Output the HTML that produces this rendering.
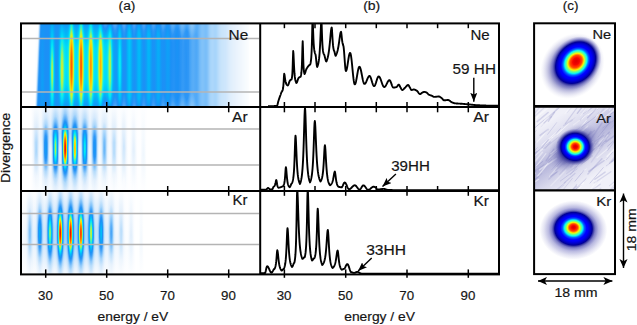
<!DOCTYPE html>
<html><head><meta charset="utf-8"><style>
html,body{margin:0;padding:0;background:#fff;}
#c{position:relative;width:637px;height:325px;overflow:hidden;background:#fff;}
#c i{position:absolute;width:1px;display:block;}
svg{position:absolute;left:0;top:0;}
text{font-family:"Liberation Sans",sans-serif;fill:#151515;stroke:#151515;stroke-width:0.18px;}
</style></head><body><div id="c">
<i style="left:35px;top:24px;height:82px;background:linear-gradient(#ffffff 0.5px,#fbfdff 66.5px,#e6f1fc 81.5px)"></i>
<i style="left:36px;top:24px;height:82px;background:linear-gradient(#ffffff 0.5px,#fafcfe 42.5px,#dcedfc 60.5px,#a1d2fa 78.5px,#94cbfa 81.5px)"></i>
<i style="left:37px;top:24px;height:82px;background:linear-gradient(#ffffff 0.5px,#f6fafe 21.5px,#d7eafc 37.5px,#9dd0fa 54.5px,#3fa0f7 78.5px,#369bf6 81.5px)"></i>
<i style="left:38px;top:24px;height:82px;background:linear-gradient(#f1f7fd 0.5px,#cfe7fc 15.5px,#99cefa 30.5px,#3b9ef6 54.5px,#2794f6 63.5px,#1c90f6 81.5px)"></i>
<i style="left:39px;top:24px;height:82px;background:linear-gradient(#afd8fb 0.5px,#3c9ef7 28.5px,#2794f6 37.5px,#1a92f6 56.5px,#1b91f6 81.5px)"></i>
<i style="left:40px;top:24px;height:82px;background:linear-gradient(#47a4f7 0.5px,#2995f6 10.5px,#1993f6 25.5px,#1993f6 81.5px)"></i>
<i style="left:41px;top:24px;height:82px;background:linear-gradient(#1a92f6 0.5px,#129cf7 59.5px,#1796f6 81.5px)"></i>
<i style="left:42px;top:24px;height:82px;background:linear-gradient(#1994f6 0.5px,#0f9ff7 58.5px,#1697f6 81.5px)"></i>
<i style="left:43px;top:24px;height:82px;background:linear-gradient(#1993f6 0.5px,#129bf7 61.5px,#1796f6 81.5px)"></i>
<i style="left:44px;top:24px;height:82px;background:linear-gradient(#1b92f6 0.5px,#1994f6 76.5px,#1993f6 81.5px)"></i>
<i style="left:45px;top:24px;height:82px;background:linear-gradient(#1b91f6 0.5px,#1b91f6 81.5px)"></i>
<i style="left:46px;top:24px;height:82px;background:linear-gradient(#1c90f6 0.5px,#1c90f6 81.5px)"></i>
<i style="left:47px;top:24px;height:82px;background:linear-gradient(#1c90f6 0.5px,#1c91f6 81.5px)"></i>
<i style="left:48px;top:24px;height:82px;background:linear-gradient(#1b91f6 0.5px,#1a93f6 81.5px)"></i>
<i style="left:49px;top:24px;height:82px;background:linear-gradient(#1795f6 0.5px,#0aa9f7 52.5px,#139af7 81.5px)"></i>
<i style="left:50px;top:24px;height:82px;background:linear-gradient(#109ef7 0.5px,#00bdf8 23.5px,#00defa 43.5px,#00d8f9 58.5px,#06b1f8 79.5px,#07aef7 81.5px)"></i>
<i style="left:51px;top:24px;height:82px;background:linear-gradient(#09aaf7 0.5px,#00caf9 15.5px,#00e2fa 22.5px,#3df1bd 33.5px,#6ff38b 40.5px,#83f477 46.5px,#7cf47e 52.5px,#56f2a4 59.5px,#2eefcc 64.5px,#00e2fa 73.5px,#00c7f9 81.5px)"></i>
<i style="left:52px;top:24px;height:82px;background:linear-gradient(#08acf7 0.5px,#00cdf9 14.5px,#01e2f9 20.5px,#37f0c3 29.5px,#83f477 37.5px,#9ef45c 42.5px,#a6f454 49.5px,#91f569 56.5px,#57f2a3 63.5px,#2fefcb 67.5px,#01e2f9 75.5px,#00cdf9 81.5px)"></i>
<i style="left:53px;top:24px;height:82px;background:linear-gradient(#0da2f7 0.5px,#00c7f9 20.5px,#03e3f7 31.5px,#23ecd7 43.5px,#21ebd9 53.5px,#00dffa 66.5px,#02b8f8 81.5px)"></i>
<i style="left:54px;top:24px;height:82px;background:linear-gradient(#1598f7 0.5px,#06b0f8 29.5px,#01baf8 51.5px,#0e9ff7 81.5px)"></i>
<i style="left:55px;top:24px;height:82px;background:linear-gradient(#1993f6 0.5px,#129cf7 60.5px,#1795f6 81.5px)"></i>
<i style="left:56px;top:24px;height:82px;background:linear-gradient(#1b92f6 0.5px,#1697f6 63.5px,#1a92f6 81.5px)"></i>
<i style="left:57px;top:24px;height:82px;background:linear-gradient(#1a92f6 0.5px,#109df7 44.5px,#1a93f6 81.5px)"></i>
<i style="left:58px;top:24px;height:82px;background:linear-gradient(#1894f6 0.5px,#08acf7 35.5px,#0aa7f7 63.5px,#1796f6 81.5px)"></i>
<i style="left:59px;top:24px;height:82px;background:linear-gradient(#1499f7 0.5px,#00c3f8 24.5px,#00d2f9 47.5px,#00c5f8 63.5px,#0f9ef7 81.5px)"></i>
<i style="left:60px;top:24px;height:82px;background:linear-gradient(#0da1f7 0.5px,#00cdf9 14.5px,#03e3f7 21.5px,#45f1b5 41.5px,#4cf1ae 49.5px,#38f0c2 56.5px,#07e4f3 67.5px,#00dafa 70.5px,#06b1f8 81.5px)"></i>
<i style="left:61px;top:24px;height:82px;background:linear-gradient(#09aaf7 0.5px,#00d1f9 10.5px,#03e3f7 14.5px,#32f0c8 21.5px,#8bf46f 30.5px,#b0f34a 37.5px,#c5f236 46.5px,#bdf23e 53.5px,#9af560 60.5px,#60f29a 65.5px,#33f0c7 68.5px,#01e2f9 74.5px,#00c0f8 81.5px)"></i>
<i style="left:62px;top:24px;height:82px;background:linear-gradient(#09a9f7 0.5px,#00d3f9 10.5px,#00e2fa 13.5px,#32f0c8 20.5px,#84f476 28.5px,#a4f457 33.5px,#c4f237 43.5px,#c4f237 51.5px,#aaf451 58.5px,#89f471 62.5px,#33f0c7 68.5px,#00e1fa 74.5px,#00bdf8 81.5px)"></i>
<i style="left:63px;top:24px;height:82px;background:linear-gradient(#0da1f7 0.5px,#00ccf9 11.5px,#01e2f9 16.5px,#4ff1ab 32.5px,#6ff38b 43.5px,#6ef38c 51.5px,#57f2a3 57.5px,#20ebda 65.5px,#00e0fa 70.5px,#06b1f8 80.5px,#07adf7 81.5px)"></i>
<i style="left:64px;top:24px;height:82px;background:linear-gradient(#129cf7 0.5px,#00c9f9 13.5px,#04e3f6 22.5px,#1ae9e0 35.5px,#1beadf 53.5px,#05e3f5 62.5px,#00c8f9 70.5px,#0f9ff7 81.5px)"></i>
<i style="left:65px;top:24px;height:82px;background:linear-gradient(#1499f7 0.5px,#01bbf8 11.5px,#00dcfa 22.5px,#06e4f4 40.5px,#00defa 59.5px,#02b9f8 71.5px,#139af7 81.5px)"></i>
<i style="left:66px;top:24px;height:82px;background:linear-gradient(#1499f7 0.5px,#01baf8 11.5px,#00d9fa 22.5px,#00e2fa 43.5px,#00d8f9 60.5px,#05b3f8 72.5px,#1499f7 81.5px)"></i>
<i style="left:67px;top:24px;height:82px;background:linear-gradient(#139bf7 0.5px,#00c1f8 12.5px,#00e0fa 23.5px,#07e4f3 47.5px,#00dcfa 60.5px,#05b2f8 73.5px,#139bf7 81.5px)"></i>
<i style="left:68px;top:24px;height:82px;background:linear-gradient(#0da3f7 0.5px,#00cdf9 11.5px,#00e2fa 16.5px,#21ebd9 25.5px,#2defcd 40.5px,#24ecd6 55.5px,#05e3f5 64.5px,#00d6f9 68.5px,#06aff8 77.5px,#0da3f7 81.5px)"></i>
<i style="left:69px;top:24px;height:82px;background:linear-gradient(#00bcf8 0.5px,#02e2f8 8.5px,#35f0c5 14.5px,#85f475 20.5px,#a4f457 24.5px,#c1f23b 32.5px,#c8f233 43.5px,#b5f345 53.5px,#98f562 59.5px,#61f299 64.5px,#2ceece 68.5px,#02e2f8 73.5px,#00bcf8 81.5px)"></i>
<i style="left:70px;top:24px;height:82px;background:linear-gradient(#02e2f8 0.5px,#2defcd 5.5px,#65f395 8.5px,#a0f45a 11.5px,#daf022 15.5px,#ffca00 22.5px,#ffa300 30.5px,#ff9200 40.5px,#ffa000 50.5px,#ffc400 58.5px,#f3da0b 62.5px,#daf022 66.5px,#8ff56b 71.5px,#3cf0be 75.5px,#1ae9e0 78.5px,#02e2f8 81.5px)"></i>
<i style="left:71px;top:24px;height:82px;background:linear-gradient(#20ebda 0.5px,#31f0c9 2.5px,#a8f453 8.5px,#d9f023 11.5px,#ffcc00 16.5px,#ff8700 24.5px,#ff6300 33.5px,#ff5b00 43.5px,#ff6f00 52.5px,#ff9500 59.5px,#ffcc00 65.5px,#d9f023 70.5px,#97f563 74.5px,#31f0c9 79.5px,#20ebda 81.5px)"></i>
<i style="left:72px;top:24px;height:82px;background:linear-gradient(#02e2f8 0.5px,#2defcd 5.5px,#65f395 8.5px,#a0f45a 11.5px,#daf022 15.5px,#ffca00 22.5px,#ffa300 30.5px,#ff9200 40.5px,#ffa000 50.5px,#ffc400 58.5px,#f3da0b 62.5px,#daf022 66.5px,#8ff56b 71.5px,#3cf0be 75.5px,#1ae9e0 78.5px,#02e2f8 81.5px)"></i>
<i style="left:73px;top:24px;height:82px;background:linear-gradient(#00bcf8 0.5px,#02e2f8 8.5px,#35f0c5 14.5px,#85f475 20.5px,#a4f457 24.5px,#c1f23b 32.5px,#c8f233 43.5px,#b5f345 53.5px,#98f562 59.5px,#61f299 64.5px,#2ceece 68.5px,#02e2f8 73.5px,#00bcf8 81.5px)"></i>
<i style="left:74px;top:24px;height:82px;background:linear-gradient(#0da3f7 0.5px,#00cdf9 11.5px,#00e2fa 16.5px,#22ebd8 25.5px,#2defcd 40.5px,#24ecd6 55.5px,#05e3f5 64.5px,#00d6f9 68.5px,#06aff8 77.5px,#0da3f7 81.5px)"></i>
<i style="left:75px;top:24px;height:82px;background:linear-gradient(#139bf7 0.5px,#00c1f8 12.5px,#00e0fa 23.5px,#08e4f2 46.5px,#00dcfa 60.5px,#05b2f8 73.5px,#139bf7 81.5px)"></i>
<i style="left:76px;top:24px;height:82px;background:linear-gradient(#1499f7 0.5px,#01bbf8 11.5px,#00dbfa 22.5px,#02e2f8 41.5px,#00dbfa 59.5px,#02b7f8 71.5px,#1499f7 81.5px)"></i>
<i style="left:77px;top:24px;height:82px;background:linear-gradient(#119df7 0.5px,#00caf9 13.5px,#03e3f7 22.5px,#12e7e8 34.5px,#0be5ef 55.5px,#00ddfa 62.5px,#05b2f8 74.5px,#119df7 81.5px)"></i>
<i style="left:78px;top:24px;height:82px;background:linear-gradient(#08abf7 0.5px,#00d1f9 9.5px,#03e3f7 13.5px,#4df1ad 26.5px,#64f396 35.5px,#63f297 47.5px,#4df1ad 55.5px,#03e3f7 68.5px,#03b5f8 78.5px,#08abf7 81.5px)"></i>
<i style="left:79px;top:24px;height:82px;background:linear-gradient(#00cdf9 0.5px,#00e1fa 4.5px,#38f0c2 10.5px,#92f568 15.5px,#d0f12b 21.5px,#e2ec1a 24.5px,#f6d608 36.5px,#f1dc0d 50.5px,#dfef1d 58.5px,#aaf450 64.5px,#81f479 67.5px,#38f0c2 71.5px,#00e1fa 77.5px,#00cdf9 81.5px)"></i>
<i style="left:80px;top:24px;height:82px;background:linear-gradient(#18e9e2 0.5px,#32f0c8 3.5px,#9af560 8.5px,#dbf021 12.5px,#fece01 17.5px,#ff8f00 25.5px,#ff7000 33.5px,#ff6900 43.5px,#ff7c00 52.5px,#ffa300 59.5px,#fece01 64.5px,#dbf021 69.5px,#85f475 74.5px,#32f0c8 78.5px,#18e9e2 81.5px)"></i>
<i style="left:81px;top:24px;height:82px;background:linear-gradient(#1eebdc 0.5px,#30efca 2.5px,#a5f455 8.5px,#e2ec1a 12.5px,#fece01 16.5px,#ff8900 24.5px,#ff6500 33.5px,#ff5d00 43.5px,#ff7100 52.5px,#ff9700 59.5px,#fece01 65.5px,#d7f025 70.5px,#95f565 74.5px,#30efca 79.5px,#1eebdc 81.5px)"></i>
<i style="left:82px;top:24px;height:82px;background:linear-gradient(#00d6f9 0.5px,#04e3f6 3.5px,#32f0c8 8.5px,#93f567 13.5px,#dcf020 19.5px,#fece01 29.5px,#ffbe00 40.5px,#ffc900 50.5px,#eae413 59.5px,#dcf020 62.5px,#93f567 68.5px,#32f0c8 73.5px,#04e3f6 78.5px,#00d6f9 81.5px)"></i>
<i style="left:83px;top:24px;height:82px;background:linear-gradient(#06b1f8 0.5px,#01e2f9 11.5px,#3af0c0 19.5px,#69f391 25.5px,#86f474 33.5px,#8bf46f 44.5px,#77f383 53.5px,#55f2a5 59.5px,#2beecf 64.5px,#01e2f9 70.5px,#06b1f8 81.5px)"></i>
<i style="left:84px;top:24px;height:82px;background:linear-gradient(#109ef7 0.5px,#00c9f9 12.5px,#03e3f7 20.5px,#17e8e3 30.5px,#15e8e5 53.5px,#00dffa 63.5px,#04b4f8 74.5px,#109ef7 81.5px)"></i>
<i style="left:85px;top:24px;height:82px;background:linear-gradient(#149af7 0.5px,#01bbf8 11.5px,#00dbfa 22.5px,#02e3f8 40.5px,#00ddfa 58.5px,#00bff8 69.5px,#129bf7 80.5px,#149af7 81.5px)"></i>
<i style="left:86px;top:24px;height:82px;background:linear-gradient(#149af7 0.5px,#01bbf8 11.5px,#00dbfa 22.5px,#02e3f8 40.5px,#00ddfa 58.5px,#00bff8 69.5px,#129bf7 80.5px,#149af7 81.5px)"></i>
<i style="left:87px;top:24px;height:82px;background:linear-gradient(#109ef7 0.5px,#00c8f9 12.5px,#04e3f6 21.5px,#16e8e4 32.5px,#11e7e9 54.5px,#00ddfa 63.5px,#04b3f8 74.5px,#109ef7 81.5px)"></i>
<i style="left:88px;top:24px;height:82px;background:linear-gradient(#07adf7 0.5px,#00d8f9 10.5px,#00e2fa 12.5px,#4ef1ac 24.5px,#6df38d 32.5px,#73f387 44.5px,#61f299 53.5px,#39f0c1 60.5px,#00e2fa 69.5px,#06b0f8 80.5px,#07adf7 81.5px)"></i>
<i style="left:89px;top:24px;height:82px;background:linear-gradient(#00caf9 0.5px,#02e3f8 5.5px,#30efca 10.5px,#96f564 16.5px,#d5f126 23.5px,#e7e716 28.5px,#f2db0c 42.5px,#e2eb1a 55.5px,#cef12d 59.5px,#96f564 65.5px,#30efca 71.5px,#02e3f8 76.5px,#00caf9 81.5px)"></i>
<i style="left:90px;top:24px;height:82px;background:linear-gradient(#00e2fa 0.5px,#38f0c2 6.5px,#9df45d 11.5px,#e1ed1c 16.5px,#ffcd00 22.5px,#ffa600 30.5px,#ff9500 40.5px,#ffa200 50.5px,#ffc600 58.5px,#ece111 63.5px,#d7f125 66.5px,#8bf46f 71.5px,#38f0c2 75.5px,#00e2fa 81.5px)"></i>
<i style="left:91px;top:24px;height:82px;background:linear-gradient(#00dbfa 0.5px,#05e3f5 2.5px,#34f0c6 7.5px,#98f562 12.5px,#daf022 17.5px,#fece01 25.5px,#ffb000 34.5px,#ffac00 44.5px,#ffc100 53.5px,#f8d507 58.5px,#daf022 64.5px,#98f562 69.5px,#34f0c6 74.5px,#00e0fa 80.5px,#00dbfa 81.5px)"></i>
<i style="left:92px;top:24px;height:82px;background:linear-gradient(#00bdf8 0.5px,#04e3f6 8.5px,#3bf0bf 14.5px,#8cf46e 20.5px,#aef34c 25.5px,#caf131 34.5px,#cdf12f 45.5px,#b7f344 54.5px,#96f564 60.5px,#4bf1af 66.5px,#27edd3 69.5px,#00dffa 74.5px,#00bdf8 81.5px)"></i>
<i style="left:93px;top:24px;height:82px;background:linear-gradient(#0ca5f7 0.5px,#00ccf9 10.5px,#00e2fa 15.5px,#26edd4 24.5px,#39f0c1 39.5px,#2defcd 54.5px,#10e7ea 63.5px,#00e2fa 66.5px,#05b2f8 77.5px,#0ca5f7 81.5px)"></i>
<i style="left:94px;top:24px;height:82px;background:linear-gradient(#129bf7 0.5px,#00c7f9 13.5px,#00e2fa 23.5px,#0be5ef 38.5px,#04e3f6 56.5px,#00cef9 66.5px,#08acf7 75.5px,#129bf7 81.5px)"></i>
<i style="left:95px;top:24px;height:82px;background:linear-gradient(#1598f7 0.5px,#00c1f8 13.5px,#00ddfa 24.5px,#00e0fa 53.5px,#00ccf9 65.5px,#08abf7 74.5px,#1598f7 81.5px)"></i>
<i style="left:96px;top:24px;height:82px;background:linear-gradient(#1599f7 0.5px,#00c4f8 13.5px,#00dffa 24.5px,#01e2f9 53.5px,#00d1f9 64.5px,#06b1f8 73.5px,#1499f7 81.5px)"></i>
<i style="left:97px;top:24px;height:82px;background:linear-gradient(#119cf7 0.5px,#00c7f9 11.5px,#03e3f7 19.5px,#1beadf 29.5px,#1ceade 51.5px,#07e4f3 61.5px,#00dbfa 65.5px,#05b2f8 75.5px,#119df7 81.5px)"></i>
<i style="left:98px;top:24px;height:82px;background:linear-gradient(#09a9f7 0.5px,#00cef9 7.5px,#01e2f9 11.5px,#3af0c0 19.5px,#6af390 25.5px,#86f474 33.5px,#8cf46e 44.5px,#78f482 53.5px,#56f2a4 59.5px,#2beecf 64.5px,#01e2f9 70.5px,#04b4f8 79.5px,#09aaf7 81.5px)"></i>
<i style="left:99px;top:24px;height:82px;background:linear-gradient(#00bdf8 0.5px,#00e1fa 5.5px,#31f0c9 10.5px,#97f563 16.5px,#d7f025 23.5px,#ebe212 30.5px,#f2db0c 44.5px,#e1ed1c 56.5px,#c0f23c 61.5px,#97f563 65.5px,#31f0c9 71.5px,#00e1fa 76.5px,#00bff8 81.5px)"></i>
<i style="left:100px;top:24px;height:82px;background:linear-gradient(#00c4f8 0.5px,#04e3f6 4.5px,#39f0c1 8.5px,#8ef56c 12.5px,#ddf01f 18.5px,#ffcc00 27.5px,#ffb400 37.5px,#ffba00 48.5px,#fad305 56.5px,#ddf01f 63.5px,#8ef56c 69.5px,#39f0c1 73.5px,#05e3f5 77.5px,#00cef9 80.5px,#00c6f9 81.5px)"></i>
<i style="left:101px;top:24px;height:82px;background:linear-gradient(#06b0f8 0.5px,#00e0fa 6.5px,#2eefcc 10.5px,#97f563 16.5px,#d7f025 23.5px,#ebe212 30.5px,#f2db0c 44.5px,#e1ed1c 56.5px,#c0f23c 61.5px,#97f563 65.5px,#2eefcc 71.5px,#00e1fa 75.5px,#05b3f8 81.5px)"></i>
<i style="left:102px;top:24px;height:82px;background:linear-gradient(#1796f6 0.5px,#02b9f8 6.5px,#00e0fa 11.5px,#3af0c0 19.5px,#6af390 25.5px,#86f474 33.5px,#8cf46e 44.5px,#78f482 53.5px,#56f2a4 59.5px,#2beecf 64.5px,#00e0fa 70.5px,#04b4f8 76.5px,#1598f7 81.5px)"></i>
<i style="left:103px;top:24px;height:82px;background:linear-gradient(#2a95f6 0.5px,#1b91f6 3.5px,#02b8f8 10.5px,#00dbfa 16.5px,#07e4f3 20.5px,#1ceade 30.5px,#1beadf 52.5px,#03e3f7 62.5px,#00cdf9 68.5px,#08adf7 73.5px,#1c90f6 79.5px,#2694f6 81.5px)"></i>
<i style="left:104px;top:24px;height:82px;background:linear-gradient(#3b9ef6 0.5px,#2091f6 4.5px,#09aaf7 10.5px,#00c9f9 15.5px,#00e0fa 25.5px,#00dffa 57.5px,#00c9f9 66.5px,#0ba6f7 72.5px,#1d90f6 77.5px,#3399f6 81.5px)"></i>
<i style="left:105px;top:24px;height:82px;background:linear-gradient(#40a0f7 0.5px,#2794f6 3.5px,#1894f6 6.5px,#00bff8 14.5px,#00d4f9 20.5px,#00dffa 35.5px,#00d9fa 58.5px,#00c6f9 66.5px,#139af7 74.5px,#1e91f6 77.5px,#379bf6 81.5px)"></i>
<i style="left:106px;top:24px;height:82px;background:linear-gradient(#399cf6 0.5px,#1d90f6 4.5px,#02b9f8 12.5px,#00d3f9 19.5px,#00e0fa 33.5px,#00dafa 58.5px,#00c4f8 67.5px,#1b91f6 77.5px,#3198f6 81.5px)"></i>
<i style="left:107px;top:24px;height:82px;background:linear-gradient(#2995f6 0.5px,#1d90f6 2.5px,#00c1f8 11.5px,#00e1fa 20.5px,#14e7e6 33.5px,#10e6ea 53.5px,#00dcfa 63.5px,#00bbf8 71.5px,#1a92f6 79.5px,#2593f6 81.5px)"></i>
<i style="left:108px;top:24px;height:82px;background:linear-gradient(#1993f6 0.5px,#00c0f8 7.5px,#00e2fa 13.5px,#2defcd 22.5px,#54f2a6 32.5px,#5cf29e 43.5px,#48f1b2 53.5px,#06e4f4 67.5px,#00defa 69.5px,#04b4f8 76.5px,#1796f6 81.5px)"></i>
<i style="left:109px;top:24px;height:82px;background:linear-gradient(#0e9ff7 0.5px,#00c8f9 5.5px,#03e3f7 9.5px,#39f0c1 16.5px,#80f47a 23.5px,#9df45d 28.5px,#b2f349 38.5px,#a9f451 49.5px,#8ef56c 56.5px,#51f2a9 63.5px,#29edd1 67.5px,#00defa 73.5px,#05b2f8 79.5px,#0da3f7 81.5px)"></i>
<i style="left:110px;top:24px;height:82px;background:linear-gradient(#0ea0f7 0.5px,#00c7f9 5.5px,#01e2f9 9.5px,#3bf0bf 17.5px,#7bf47f 24.5px,#9bf55f 30.5px,#aaf450 40.5px,#9ef45c 50.5px,#82f478 56.5px,#46f1b4 63.5px,#2beecf 66.5px,#01e2f9 72.5px,#05b2f8 79.5px,#0ca3f7 81.5px)"></i>
<i style="left:111px;top:24px;height:82px;background:linear-gradient(#1993f6 0.5px,#00c0f8 8.5px,#00e1fa 16.5px,#25ecd5 28.5px,#2fefcb 43.5px,#1eeadc 56.5px,#00defa 66.5px,#03b5f8 75.5px,#1796f6 81.5px)"></i>
<i style="left:112px;top:24px;height:82px;background:linear-gradient(#2c96f6 0.5px,#1a93f6 4.5px,#00bbf8 16.5px,#00cdf9 34.5px,#00c6f9 58.5px,#07aef8 70.5px,#1f91f6 79.5px,#2894f6 81.5px)"></i>
<i style="left:113px;top:24px;height:82px;background:linear-gradient(#46a3f7 0.5px,#2995f6 4.5px,#1894f6 9.5px,#09a9f7 19.5px,#07aef7 54.5px,#0f9ff7 68.5px,#2091f6 75.5px,#369bf6 80.5px,#3e9ff7 81.5px)"></i>
<i style="left:114px;top:24px;height:82px;background:linear-gradient(#51a9f7 0.5px,#2a95f6 6.5px,#1a92f6 11.5px,#0f9ff7 20.5px,#119df7 65.5px,#1e91f6 72.5px,#359af6 78.5px,#48a5f7 81.5px)"></i>
<i style="left:115px;top:24px;height:82px;background:linear-gradient(#51a9f7 0.5px,#2b95f6 6.5px,#1993f6 12.5px,#129cf7 25.5px,#1697f6 67.5px,#2392f6 73.5px,#3b9ef6 79.5px,#48a5f7 81.5px)"></i>
<i style="left:116px;top:24px;height:82px;background:linear-gradient(#46a3f7 0.5px,#2b95f6 4.5px,#1993f6 10.5px,#119df7 26.5px,#1697f6 69.5px,#2292f6 75.5px,#379bf6 80.5px,#3e9ff7 81.5px)"></i>
<i style="left:117px;top:24px;height:82px;background:linear-gradient(#2d96f6 0.5px,#1993f6 5.5px,#0ba6f7 17.5px,#07aef7 48.5px,#129bf7 73.5px,#2192f6 79.5px,#2995f6 81.5px)"></i>
<i style="left:118px;top:24px;height:82px;background:linear-gradient(#1b91f6 0.5px,#03b5f8 10.5px,#00d2f9 37.5px,#00c8f9 57.5px,#07aef7 74.5px,#1994f6 81.5px)"></i>
<i style="left:119px;top:24px;height:82px;background:linear-gradient(#129bf7 0.5px,#00c2f8 8.5px,#04e3f6 26.5px,#16e8e4 40.5px,#08e4f2 53.5px,#00ddfa 60.5px,#00bff8 74.5px,#109df7 81.5px)"></i>
<i style="left:120px;top:24px;height:82px;background:linear-gradient(#1597f6 0.5px,#00bef8 9.5px,#02e3f8 32.5px,#06e4f4 45.5px,#00d7f9 59.5px,#02b8f8 74.5px,#139af7 81.5px)"></i>
<i style="left:121px;top:24px;height:82px;background:linear-gradient(#2593f6 0.5px,#1994f6 3.5px,#06b0f8 15.5px,#00bff8 43.5px,#09aaf7 70.5px,#2192f6 81.5px)"></i>
<i style="left:122px;top:24px;height:82px;background:linear-gradient(#3fa0f7 0.5px,#2894f6 4.5px,#1994f6 10.5px,#109df7 26.5px,#1598f6 69.5px,#2392f6 76.5px,#379bf6 81.5px)"></i>
<i style="left:123px;top:24px;height:82px;background:linear-gradient(#51a9f7 0.5px,#2b95f6 7.5px,#1993f6 15.5px,#1c90f6 68.5px,#3399f6 77.5px,#48a4f7 81.5px)"></i>
<i style="left:124px;top:24px;height:82px;background:linear-gradient(#51a9f7 0.5px,#2a95f6 8.5px,#1993f6 17.5px,#1d90f6 68.5px,#349af6 77.5px,#48a4f7 81.5px)"></i>
<i style="left:125px;top:24px;height:82px;background:linear-gradient(#42a1f7 0.5px,#2894f6 5.5px,#1994f6 12.5px,#1894f6 69.5px,#2894f6 77.5px,#399df6 81.5px)"></i>
<i style="left:126px;top:24px;height:82px;background:linear-gradient(#2995f6 0.5px,#1993f6 5.5px,#0ea0f7 16.5px,#119df7 71.5px,#1f91f6 79.5px,#2593f6 81.5px)"></i>
<i style="left:127px;top:24px;height:82px;background:linear-gradient(#1894f6 0.5px,#06b0f8 11.5px,#07aef7 72.5px,#1697f6 81.5px)"></i>
<i style="left:128px;top:24px;height:82px;background:linear-gradient(#0ea0f7 0.5px,#00bef8 8.5px,#00bef8 73.5px,#0ca3f7 81.5px)"></i>
<i style="left:129px;top:24px;height:82px;background:linear-gradient(#0ba5f7 0.5px,#00c4f8 8.5px,#00c4f8 73.5px,#0aa9f7 81.5px)"></i>
<i style="left:130px;top:24px;height:82px;background:linear-gradient(#119df7 0.5px,#00bcf8 10.5px,#01bbf8 72.5px,#0f9ff7 81.5px)"></i>
<i style="left:131px;top:24px;height:82px;background:linear-gradient(#1d90f6 0.5px,#08adf7 13.5px,#09abf7 70.5px,#1a92f6 81.5px)"></i>
<i style="left:132px;top:24px;height:82px;background:linear-gradient(#2f97f6 0.5px,#1b91f6 7.5px,#109ef7 18.5px,#129bf7 69.5px,#2292f6 78.5px,#2a95f6 81.5px)"></i>
<i style="left:133px;top:24px;height:82px;background:linear-gradient(#46a3f7 0.5px,#2995f6 6.5px,#1993f6 13.5px,#1697f6 52.5px,#1993f6 68.5px,#2d96f6 78.5px,#3d9ef7 81.5px)"></i>
<i style="left:134px;top:24px;height:82px;background:linear-gradient(#4aa5f7 0.5px,#2b95f6 6.5px,#1993f6 14.5px,#1a92f6 68.5px,#3198f6 78.5px,#41a1f7 81.5px)"></i>
<i style="left:135px;top:24px;height:82px;background:linear-gradient(#3c9ef7 0.5px,#2894f6 4.5px,#1993f6 10.5px,#1499f7 26.5px,#1895f6 70.5px,#2593f6 77.5px,#349af6 81.5px)"></i>
<i style="left:136px;top:24px;height:82px;background:linear-gradient(#2794f6 0.5px,#1a93f6 4.5px,#0ea1f7 15.5px,#119df7 72.5px,#2091f6 80.5px,#2393f6 81.5px)"></i>
<i style="left:137px;top:24px;height:82px;background:linear-gradient(#1994f6 0.5px,#07aef7 10.5px,#08acf7 73.5px,#1796f6 81.5px)"></i>
<i style="left:138px;top:24px;height:82px;background:linear-gradient(#129cf7 0.5px,#02b8f8 8.5px,#03b6f8 74.5px,#0f9ef7 81.5px)"></i>
<i style="left:139px;top:24px;height:82px;background:linear-gradient(#119cf7 0.5px,#01b9f8 9.5px,#02b8f8 73.5px,#0f9ff7 81.5px)"></i>
<i style="left:140px;top:24px;height:82px;background:linear-gradient(#1994f6 0.5px,#05b1f8 12.5px,#07aef7 72.5px,#1697f6 81.5px)"></i>
<i style="left:141px;top:24px;height:82px;background:linear-gradient(#2794f6 0.5px,#1994f6 5.5px,#0ca3f7 17.5px,#0f9ff7 70.5px,#2091f6 80.5px,#2393f6 81.5px)"></i>
<i style="left:142px;top:24px;height:82px;background:linear-gradient(#3d9ef7 0.5px,#2794f6 5.5px,#1993f6 11.5px,#139af7 22.5px,#1796f6 69.5px,#2493f6 76.5px,#349af6 81.5px)"></i>
<i style="left:143px;top:24px;height:82px;background:linear-gradient(#4ba6f7 0.5px,#2995f6 7.5px,#1a93f6 14.5px,#1b91f6 68.5px,#3399f6 78.5px,#42a1f7 81.5px)"></i>
<i style="left:144px;top:24px;height:82px;background:linear-gradient(#49a5f7 0.5px,#2a95f6 6.5px,#1994f6 14.5px,#1b91f6 69.5px,#359af6 79.5px,#40a0f7 81.5px)"></i>
<i style="left:145px;top:24px;height:82px;background:linear-gradient(#379bf6 0.5px,#2292f6 5.5px,#149af7 16.5px,#1796f6 71.5px,#2593f6 78.5px,#2f97f6 81.5px)"></i>
<i style="left:146px;top:24px;height:82px;background:linear-gradient(#2493f6 0.5px,#1a93f6 3.5px,#0da2f7 14.5px,#109ef7 73.5px,#2192f6 81.5px)"></i>
<i style="left:147px;top:24px;height:82px;background:linear-gradient(#1894f6 0.5px,#07aff8 10.5px,#09abf7 74.5px,#1697f6 81.5px)"></i>
<i style="left:148px;top:24px;height:82px;background:linear-gradient(#139af7 0.5px,#03b6f8 9.5px,#04b3f8 74.5px,#119cf7 81.5px)"></i>
<i style="left:149px;top:24px;height:82px;background:linear-gradient(#1697f6 0.5px,#04b3f8 10.5px,#06b1f8 73.5px,#139af7 81.5px)"></i>
<i style="left:150px;top:24px;height:82px;background:linear-gradient(#1f91f6 0.5px,#09a9f7 12.5px,#0ba6f7 71.5px,#1b91f6 81.5px)"></i>
<i style="left:151px;top:24px;height:82px;background:linear-gradient(#2f97f6 0.5px,#1a92f6 7.5px,#109ef7 18.5px,#139af7 70.5px,#2192f6 78.5px,#2a95f6 81.5px)"></i>
<i style="left:152px;top:24px;height:82px;background:linear-gradient(#45a3f7 0.5px,#2994f6 6.5px,#1993f6 13.5px,#1795f6 67.5px,#2493f6 74.5px,#379bf6 80.5px,#3c9ef7 81.5px)"></i>
<i style="left:153px;top:24px;height:82px;background:linear-gradient(#4da7f7 0.5px,#2a95f6 7.5px,#1994f6 15.5px,#1b91f6 68.5px,#359af6 78.5px,#44a2f7 81.5px)"></i>
<i style="left:154px;top:24px;height:82px;background:linear-gradient(#46a3f7 0.5px,#2a95f6 5.5px,#1994f6 13.5px,#1b91f6 70.5px,#3299f6 79.5px,#3e9ff7 81.5px)"></i>
<i style="left:155px;top:24px;height:82px;background:linear-gradient(#3499f6 0.5px,#1a92f6 7.5px,#139af7 19.5px,#1796f6 72.5px,#2392f6 78.5px,#2d96f6 81.5px)"></i>
<i style="left:156px;top:24px;height:82px;background:linear-gradient(#2493f6 0.5px,#1993f6 3.5px,#0da1f7 13.5px,#0f9ef7 73.5px,#2192f6 81.5px)"></i>
<i style="left:157px;top:24px;height:82px;background:linear-gradient(#1b91f6 0.5px,#09aaf7 9.5px,#0ba7f7 74.5px,#1994f6 81.5px)"></i>
<i style="left:158px;top:24px;height:82px;background:linear-gradient(#1993f6 0.5px,#07adf7 10.5px,#09aaf7 74.5px,#1796f6 81.5px)"></i>
<i style="left:159px;top:24px;height:82px;background:linear-gradient(#1e91f6 0.5px,#0aa8f7 11.5px,#0ba6f7 72.5px,#1b91f6 81.5px)"></i>
<i style="left:160px;top:24px;height:82px;background:linear-gradient(#2a95f6 0.5px,#1994f6 6.5px,#0f9ff7 17.5px,#129cf7 71.5px,#2091f6 79.5px,#2694f6 81.5px)"></i>
<i style="left:161px;top:24px;height:82px;background:linear-gradient(#40a0f7 0.5px,#2b95f6 4.5px,#1894f6 12.5px,#1598f7 66.5px,#2192f6 74.5px,#3299f6 80.5px,#389cf6 81.5px)"></i>
<i style="left:162px;top:24px;height:82px;background:linear-gradient(#4fa8f7 0.5px,#2995f6 8.5px,#1994f6 17.5px,#1c90f6 68.5px,#379bf6 78.5px,#46a3f7 81.5px)"></i>
<i style="left:163px;top:24px;height:82px;background:linear-gradient(#51a9f7 0.5px,#2995f6 8.5px,#1a92f6 17.5px,#1d90f6 68.5px,#349af6 77.5px,#48a5f7 81.5px)"></i>
<i style="left:164px;top:24px;height:82px;background:linear-gradient(#48a4f7 0.5px,#2a95f6 5.5px,#1993f6 14.5px,#1d90f6 71.5px,#3399f6 79.5px,#40a0f7 81.5px)"></i>
<i style="left:165px;top:24px;height:82px;background:linear-gradient(#379bf6 0.5px,#2091f6 5.5px,#1597f6 16.5px,#1993f6 73.5px,#2b95f6 80.5px,#3097f6 81.5px)"></i>
<i style="left:166px;top:24px;height:82px;background:linear-gradient(#2995f6 0.5px,#1a92f6 4.5px,#119cf7 14.5px,#1499f7 74.5px,#2292f6 80.5px,#2693f6 81.5px)"></i>
<i style="left:167px;top:24px;height:82px;background:linear-gradient(#2493f6 0.5px,#1697f6 4.5px,#0ea0f7 14.5px,#129cf7 75.5px,#2092f6 81.5px)"></i>
<i style="left:168px;top:24px;height:82px;background:linear-gradient(#2593f6 0.5px,#1895f6 4.5px,#0f9ff7 14.5px,#129cf7 74.5px,#2292f6 81.5px)"></i>
<i style="left:169px;top:24px;height:82px;background:linear-gradient(#2d96f6 0.5px,#1a92f6 6.5px,#129bf7 18.5px,#1598f6 72.5px,#2392f6 79.5px,#2995f6 81.5px)"></i>
<i style="left:170px;top:24px;height:82px;background:linear-gradient(#42a1f7 0.5px,#2894f6 5.5px,#1993f6 12.5px,#1a92f6 70.5px,#349af6 80.5px,#3a9df6 81.5px)"></i>
<i style="left:171px;top:24px;height:82px;background:linear-gradient(#54abf7 0.5px,#2a95f6 9.5px,#1c90f6 18.5px,#2091f6 68.5px,#389cf6 77.5px,#4ca6f7 81.5px)"></i>
<i style="left:172px;top:24px;height:82px;background:linear-gradient(#5caff8 0.5px,#2a95f6 11.5px,#2091f6 19.5px,#2392f6 67.5px,#399cf6 75.5px,#54abf7 81.5px)"></i>
<i style="left:173px;top:24px;height:82px;background:linear-gradient(#5baff8 0.5px,#2a95f6 10.5px,#2192f6 19.5px,#2593f6 69.5px,#3a9df6 76.5px,#53aaf7 81.5px)"></i>
<i style="left:174px;top:24px;height:82px;background:linear-gradient(#52aaf7 0.5px,#2b95f6 7.5px,#2091f6 16.5px,#2493f6 71.5px,#349af6 77.5px,#4ba6f7 81.5px)"></i>
<i style="left:175px;top:24px;height:82px;background:linear-gradient(#45a3f7 0.5px,#2a95f6 4.5px,#1c90f6 13.5px,#2091f6 73.5px,#3098f6 79.5px,#3e9ff7 81.5px)"></i>
<i style="left:176px;top:24px;height:82px;background:linear-gradient(#399df6 0.5px,#2493f6 4.5px,#1a92f6 12.5px,#1e91f6 75.5px,#3499f6 81.5px)"></i>
<i style="left:177px;top:24px;height:82px;background:linear-gradient(#379bf6 0.5px,#2091f6 5.5px,#1993f6 18.5px,#1d90f6 75.5px,#3198f6 81.5px)"></i>
<i style="left:178px;top:24px;height:82px;background:linear-gradient(#3fa0f7 0.5px,#2894f6 4.5px,#1b91f6 13.5px,#1e91f6 73.5px,#3299f6 80.5px,#399df6 81.5px)"></i>
<i style="left:179px;top:24px;height:82px;background:linear-gradient(#50a9f7 0.5px,#2b95f6 7.5px,#2092f6 17.5px,#2493f6 71.5px,#389cf6 78.5px,#49a5f7 81.5px)"></i>
<i style="left:180px;top:24px;height:82px;background:linear-gradient(#61b2f8 0.5px,#2b95f6 12.5px,#2894f6 67.5px,#3b9df6 74.5px,#5aaef7 81.5px)"></i>
<i style="left:181px;top:24px;height:82px;background:linear-gradient(#6eb8f8 0.5px,#2c96f6 16.5px,#3098f6 67.5px,#66b4f8 81.5px)"></i>
<i style="left:182px;top:24px;height:82px;background:linear-gradient(#72baf8 0.5px,#3298f6 15.5px,#349af6 67.5px,#6ab7f8 81.5px)"></i>
<i style="left:183px;top:24px;height:82px;background:linear-gradient(#6eb8f8 0.5px,#379bf6 12.5px,#3198f6 23.5px,#349af6 68.5px,#67b5f8 81.5px)"></i>
<i style="left:184px;top:24px;height:82px;background:linear-gradient(#64b3f8 0.5px,#369bf6 9.5px,#2e96f6 17.5px,#3098f6 70.5px,#52aaf7 79.5px,#5eb0f8 81.5px)"></i>
<i style="left:185px;top:24px;height:82px;background:linear-gradient(#59adf7 0.5px,#3198f6 7.5px,#2a95f6 20.5px,#2d96f6 73.5px,#4da7f7 80.5px,#53aaf7 81.5px)"></i>
<i style="left:186px;top:24px;height:82px;background:linear-gradient(#52aaf7 0.5px,#2d96f6 6.5px,#2894f6 36.5px,#2d96f6 75.5px,#4da7f7 81.5px)"></i>
<i style="left:187px;top:24px;height:82px;background:linear-gradient(#54abf7 0.5px,#2d96f6 7.5px,#2d96f6 74.5px,#4fa8f7 81.5px)"></i>
<i style="left:188px;top:24px;height:82px;background:linear-gradient(#60b1f8 0.5px,#389cf6 8.5px,#2f97f6 16.5px,#3299f6 71.5px,#55abf7 80.5px,#5baef8 81.5px)"></i>
<i style="left:189px;top:24px;height:82px;background:linear-gradient(#71baf8 0.5px,#3fa0f7 12.5px,#3fa0f7 69.5px,#6bb7f8 81.5px)"></i>
<i style="left:190px;top:24px;height:82px;background:linear-gradient(#80c2f9 0.5px,#48a5f7 15.5px,#4aa6f7 67.5px,#7abef9 81.5px)"></i>
<i style="left:191px;top:24px;height:82px;background:linear-gradient(#89c6f9 0.5px,#50a9f7 16.5px,#52aaf7 66.5px,#83c3f9 81.5px)"></i>
<i style="left:192px;top:24px;height:82px;background:linear-gradient(#89c6f9 0.5px,#56acf7 15.5px,#57acf7 67.5px,#83c3f9 81.5px)"></i>
<i style="left:193px;top:24px;height:82px;background:linear-gradient(#82c2f9 0.5px,#57acf7 13.5px,#58adf7 69.5px,#7dc0f9 81.5px)"></i>
<i style="left:194px;top:24px;height:82px;background:linear-gradient(#75bcf8 0.5px,#54abf7 11.5px,#55abf7 71.5px,#71baf8 81.5px)"></i>
<i style="left:195px;top:24px;height:82px;background:linear-gradient(#67b5f8 0.5px,#50a8f7 10.5px,#53aaf7 74.5px,#65b4f8 81.5px)"></i>
<i style="left:196px;top:24px;height:82px;background:linear-gradient(#5fb1f8 0.5px,#4ea8f7 10.5px,#52aaf7 76.5px,#5db0f8 81.5px)"></i>
<i style="left:197px;top:24px;height:82px;background:linear-gradient(#5eb0f8 0.5px,#54abf7 11.5px,#58adf7 78.5px,#5db0f8 81.5px)"></i>
<i style="left:198px;top:24px;height:82px;background:linear-gradient(#65b4f8 0.5px,#5fb1f8 23.5px,#63b3f8 80.5px,#64b3f8 81.5px)"></i>
<i style="left:199px;top:24px;height:82px;background:linear-gradient(#6fb9f8 0.5px,#6eb9f8 81.5px)"></i>
<i style="left:200px;top:24px;height:82px;background:linear-gradient(#78bdf9 0.5px,#78bdf9 81.5px)"></i>
<i style="left:201px;top:24px;height:82px;background:linear-gradient(#7ec1f9 0.5px,#7ec0f9 81.5px)"></i>
<i style="left:202px;top:24px;height:82px;background:linear-gradient(#81c2f9 0.5px,#81c2f9 81.5px)"></i>
<i style="left:203px;top:24px;height:82px;background:linear-gradient(#80c1f9 0.5px,#80c1f9 81.5px)"></i>
<i style="left:204px;top:24px;height:82px;background:linear-gradient(#7cc0f9 0.5px,#7cc0f9 81.5px)"></i>
<i style="left:205px;top:24px;height:82px;background:linear-gradient(#7abef9 0.5px,#7abef9 81.5px)"></i>
<i style="left:206px;top:24px;height:82px;background:linear-gradient(#7cbff9 0.5px,#7cbff9 81.5px)"></i>
<i style="left:207px;top:24px;height:82px;background:linear-gradient(#84c3f9 0.5px,#84c3f9 81.5px)"></i>
<i style="left:208px;top:24px;height:82px;background:linear-gradient(#90c9fa 0.5px,#90c9fa 81.5px)"></i>
<i style="left:209px;top:24px;height:82px;background:linear-gradient(#9dcffa 0.5px,#9dcffa 81.5px)"></i>
<i style="left:210px;top:24px;height:82px;background:linear-gradient(#a6d4fa 0.5px,#a6d4fa 81.5px)"></i>
<i style="left:211px;top:24px;height:82px;background:linear-gradient(#aad6fb 0.5px,#aad6fb 81.5px)"></i>
<i style="left:212px;top:24px;height:82px;background:linear-gradient(#acd7fb 0.5px,#acd7fb 81.5px)"></i>
<i style="left:213px;top:24px;height:82px;background:linear-gradient(#abd6fb 0.5px,#abd6fb 81.5px)"></i>
<i style="left:214px;top:24px;height:82px;background:linear-gradient(#a8d5fb 0.5px,#a8d5fb 81.5px)"></i>
<i style="left:215px;top:24px;height:82px;background:linear-gradient(#a8d5fb 0.5px,#a8d5fb 81.5px)"></i>
<i style="left:216px;top:24px;height:82px;background:linear-gradient(#abd7fb 0.5px,#abd7fb 81.5px)"></i>
<i style="left:217px;top:24px;height:82px;background:linear-gradient(#b3dafb 0.5px,#b3dafb 81.5px)"></i>
<i style="left:218px;top:24px;height:82px;background:linear-gradient(#baddfb 0.5px,#baddfb 81.5px)"></i>
<i style="left:219px;top:24px;height:82px;background:linear-gradient(#c1e0fb 0.5px,#c1e0fb 81.5px)"></i>
<i style="left:220px;top:24px;height:82px;background:linear-gradient(#c5e2fb 0.5px,#c5e2fb 81.5px)"></i>
<i style="left:221px;top:24px;height:82px;background:linear-gradient(#c8e4fb 0.5px,#c8e4fb 81.5px)"></i>
<i style="left:222px;top:24px;height:82px;background:linear-gradient(#cae5fb 0.5px,#cae5fb 81.5px)"></i>
<i style="left:223px;top:24px;height:82px;background:linear-gradient(#cbe5fc 0.5px,#cbe5fc 81.5px)"></i>
<i style="left:224px;top:24px;height:82px;background:linear-gradient(#cde6fc 0.5px,#cde6fc 81.5px)"></i>
<i style="left:225px;top:24px;height:82px;background:linear-gradient(#cee6fc 0.5px,#cee6fc 81.5px)"></i>
<i style="left:226px;top:24px;height:82px;background:linear-gradient(#d1e8fc 0.5px,#d1e8fc 81.5px)"></i>
<i style="left:227px;top:24px;height:82px;background:linear-gradient(#d5e9fc 0.5px,#d5e9fc 81.5px)"></i>
<i style="left:228px;top:24px;height:82px;background:linear-gradient(#d9ebfc 0.5px,#d9ebfc 81.5px)"></i>
<i style="left:229px;top:24px;height:82px;background:linear-gradient(#dcedfc 0.5px,#dcedfc 81.5px)"></i>
<i style="left:230px;top:24px;height:82px;background:linear-gradient(#dfeefc 0.5px,#dfeefc 81.5px)"></i>
<i style="left:231px;top:24px;height:82px;background:linear-gradient(#e1effc 0.5px,#e1effc 81.5px)"></i>
<i style="left:232px;top:24px;height:82px;background:linear-gradient(#e3f0fc 0.5px,#e3f0fc 81.5px)"></i>
<i style="left:233px;top:24px;height:82px;background:linear-gradient(#e5f1fc 0.5px,#e5f1fc 81.5px)"></i>
<i style="left:234px;top:24px;height:82px;background:linear-gradient(#e6f1fc 0.5px,#e6f1fc 81.5px)"></i>
<i style="left:235px;top:24px;height:82px;background:linear-gradient(#e8f2fc 0.5px,#e8f2fc 81.5px)"></i>
<i style="left:236px;top:24px;height:82px;background:linear-gradient(#eaf3fd 0.5px,#eaf3fd 81.5px)"></i>
<i style="left:237px;top:24px;height:82px;background:linear-gradient(#ebf4fd 0.5px,#ebf4fd 81.5px)"></i>
<i style="left:238px;top:24px;height:82px;background:linear-gradient(#edf5fd 0.5px,#edf5fd 81.5px)"></i>
<i style="left:239px;top:24px;height:82px;background:linear-gradient(#eef6fd 0.5px,#eef6fd 81.5px)"></i>
<i style="left:240px;top:24px;height:82px;background:linear-gradient(#f0f6fd 0.5px,#f0f6fd 81.5px)"></i>
<i style="left:241px;top:24px;height:82px;background:linear-gradient(#f1f7fd 0.5px,#f1f7fd 81.5px)"></i>
<i style="left:242px;top:24px;height:82px;background:linear-gradient(#f3f8fe 0.5px,#f3f8fe 81.5px)"></i>
<i style="left:243px;top:24px;height:82px;background:linear-gradient(#f4f9fe 0.5px,#f4f9fe 81.5px)"></i>
<i style="left:244px;top:24px;height:82px;background:linear-gradient(#f5fafe 0.5px,#f5fafe 81.5px)"></i>
<i style="left:245px;top:24px;height:82px;background:linear-gradient(#f7fbfe 0.5px,#f7fbfe 81.5px)"></i>
<i style="left:246px;top:24px;height:82px;background:linear-gradient(#f8fbfe 0.5px,#f8fbfe 81.5px)"></i>
<i style="left:247px;top:24px;height:82px;background:linear-gradient(#fafcfe 0.5px,#fafcfe 81.5px)"></i>
<i style="left:248px;top:24px;height:82px;background:linear-gradient(#fbfdff 0.5px,#fbfdff 81.5px)"></i>
<i style="left:31px;top:108px;height:82px;background:linear-gradient(#fdfeff 0.5px,#fefeff 81.5px)"></i>
<i style="left:32px;top:108px;height:82px;background:linear-gradient(#fbfdff 0.5px,#f5f9fe 35.5px,#fdfeff 81.5px)"></i>
<i style="left:33px;top:108px;height:82px;background:linear-gradient(#fafcfe 0.5px,#e7f2fc 35.5px,#f3f9fe 63.5px,#fcfdff 81.5px)"></i>
<i style="left:34px;top:108px;height:82px;background:linear-gradient(#f8fbfe 0.5px,#e4f0fc 20.5px,#cde6fc 34.5px,#d3e8fc 49.5px,#f5f9fe 70.5px,#fbfdff 81.5px)"></i>
<i style="left:35px;top:108px;height:82px;background:linear-gradient(#f7fbfe 0.5px,#e4f0fc 17.5px,#b6dcfb 34.5px,#b5dbfb 45.5px,#edf5fd 66.5px,#fafcfe 81.5px)"></i>
<i style="left:36px;top:108px;height:82px;background:linear-gradient(#f7fbfe 0.5px,#e2effc 17.5px,#b1d9fb 34.5px,#acd7fb 43.5px,#d5e9fc 57.5px,#f0f6fd 68.5px,#fafcfe 81.5px)"></i>
<i style="left:37px;top:108px;height:82px;background:linear-gradient(#f7fbfe 0.5px,#e4f0fc 18.5px,#c3e1fb 33.5px,#c4e2fb 46.5px,#f0f7fd 67.5px,#fafcfe 81.5px)"></i>
<i style="left:38px;top:108px;height:82px;background:linear-gradient(#f8fbfe 0.5px,#dcedfc 34.5px,#eaf3fd 57.5px,#fbfdff 81.5px)"></i>
<i style="left:39px;top:108px;height:82px;background:linear-gradient(#f8fbfe 0.5px,#ecf5fd 31.5px,#fbfdff 81.5px)"></i>
<i style="left:40px;top:108px;height:82px;background:linear-gradient(#f8fbfe 0.5px,#eff6fd 29.5px,#f8fbfe 46.5px,#fbfdff 81.5px)"></i>
<i style="left:41px;top:108px;height:82px;background:linear-gradient(#f6fafe 0.5px,#e7f2fc 28.5px,#f2f8fe 44.5px,#fafcfe 81.5px)"></i>
<i style="left:42px;top:108px;height:82px;background:linear-gradient(#f2f8fe 0.5px,#daecfc 18.5px,#cbe5fb 28.5px,#d7eafc 44.5px,#e3effc 59.5px,#f7fbfe 81.5px)"></i>
<i style="left:43px;top:108px;height:82px;background:linear-gradient(#eff6fd 0.5px,#d8ebfc 12.5px,#a3d2fa 24.5px,#8cc7f9 31.5px,#94cbfa 47.5px,#e6f1fc 69.5px,#f5f9fe 81.5px)"></i>
<i style="left:44px;top:108px;height:82px;background:linear-gradient(#ebf4fd 0.5px,#d3e8fc 10.5px,#aed8fb 17.5px,#4ca6f7 28.5px,#2e96f6 34.5px,#2c96f6 44.5px,#4ca6f7 50.5px,#bcdffb 63.5px,#e5f0fc 72.5px,#f2f8fe 81.5px)"></i>
<i style="left:45px;top:108px;height:82px;background:linear-gradient(#eaf3fd 0.5px,#d1e8fc 9.5px,#afd9fb 15.5px,#58adf7 23.5px,#2c96f6 27.5px,#1994f6 32.5px,#109ef7 42.5px,#1f91f6 49.5px,#3198f6 52.5px,#afd8fb 63.5px,#d9ebfc 70.5px,#eef6fd 79.5px,#f1f7fd 81.5px)"></i>
<i style="left:46px;top:108px;height:82px;background:linear-gradient(#eaf3fd 0.5px,#d2e8fc 9.5px,#aad6fb 16.5px,#2d96f6 28.5px,#1a93f6 34.5px,#1895f6 44.5px,#2694f6 49.5px,#3d9ef7 52.5px,#b3dafb 63.5px,#deedfc 71.5px,#f1f7fd 81.5px)"></i>
<i style="left:47px;top:108px;height:82px;background:linear-gradient(#ecf4fd 0.5px,#d5eafc 10.5px,#aed8fb 18.5px,#63b3f8 28.5px,#4fa8f7 35.5px,#54abf7 45.5px,#77bdf9 52.5px,#c0e0fb 62.5px,#e5f0fc 71.5px,#f3f8fe 81.5px)"></i>
<i style="left:48px;top:108px;height:82px;background:linear-gradient(#eef6fd 0.5px,#d7eafc 13.5px,#a8d5fb 28.5px,#bddffb 52.5px,#eaf4fd 70.5px,#f5f9fe 81.5px)"></i>
<i style="left:49px;top:108px;height:82px;background:linear-gradient(#f0f6fd 0.5px,#d2e8fc 22.5px,#d3e9fc 30.5px,#e6f1fc 41.5px,#eaf3fd 62.5px,#f6fafe 81.5px)"></i>
<i style="left:50px;top:108px;height:82px;background:linear-gradient(#eff6fd 0.5px,#d7eafc 26.5px,#f1f7fd 41.5px,#f0f7fd 67.5px,#f6fafe 81.5px)"></i>
<i style="left:51px;top:108px;height:82px;background:linear-gradient(#ecf4fd 0.5px,#cee7fc 17.5px,#c1e0fb 26.5px,#e0eefc 41.5px,#dfeefc 58.5px,#f4f9fe 81.5px)"></i>
<i style="left:52px;top:108px;height:82px;background:linear-gradient(#e6f1fc 0.5px,#c5e3fb 12.5px,#96ccfa 21.5px,#7abef9 27.5px,#7dc0f9 33.5px,#90c9fa 41.5px,#95ccfa 50.5px,#e2effc 71.5px,#f0f7fd 81.5px)"></i>
<i style="left:53px;top:108px;height:82px;background:linear-gradient(#dfeefc 0.5px,#b8ddfb 10.5px,#85c4f9 16.5px,#2c95f6 24.5px,#1b92f6 28.5px,#139af7 38.5px,#1d90f6 49.5px,#2f97f6 53.5px,#add8fb 65.5px,#d9ebfc 73.5px,#ebf4fd 81.5px)"></i>
<i style="left:54px;top:108px;height:82px;background:linear-gradient(#d8ebfc 0.5px,#b4dbfb 8.5px,#83c3f9 13.5px,#2f97f6 19.5px,#1d90f6 21.5px,#00c0f8 27.5px,#00e1fa 31.5px,#22ecd8 36.5px,#29eed1 41.5px,#18e9e2 45.5px,#00defa 48.5px,#06aff8 53.5px,#1c90f6 57.5px,#2d96f6 59.5px,#94cbfa 66.5px,#bbdefb 70.5px,#e1effc 78.5px,#e7f2fc 81.5px)"></i>
<i style="left:55px;top:108px;height:82px;background:linear-gradient(#d6eafc 0.5px,#add8fb 8.5px,#77bdf9 13.5px,#2c96f6 18.5px,#1a92f6 20.5px,#02b8f8 24.5px,#00ddfa 27.5px,#19e9e1 29.5px,#3bf0bf 31.5px,#7ef47c 34.5px,#9bf55f 36.5px,#acf34f 39.5px,#aaf450 42.5px,#99f561 44.5px,#72f388 46.5px,#3bf0bf 48.5px,#03e3f7 51.5px,#00bdf8 54.5px,#1895f6 58.5px,#2995f6 60.5px,#94cbfa 67.5px,#bcdefb 71.5px,#e1effc 79.5px,#e6f1fc 81.5px)"></i>
<i style="left:56px;top:108px;height:82px;background:linear-gradient(#d8ebfc 0.5px,#b3dbfb 8.5px,#75bcf8 14.5px,#2d96f6 19.5px,#1c90f6 21.5px,#00c1f8 27.5px,#00e2fa 31.5px,#22ecd8 36.5px,#29eed1 41.5px,#18e9e2 45.5px,#00defa 48.5px,#06aff8 53.5px,#1c90f6 57.5px,#2d96f6 59.5px,#94cbfa 66.5px,#bbdefb 70.5px,#e1eefc 78.5px,#e7f2fc 81.5px)"></i>
<i style="left:57px;top:108px;height:82px;background:linear-gradient(#ddedfc 0.5px,#b5dbfb 10.5px,#76bcf9 17.5px,#2995f6 24.5px,#1993f6 28.5px,#139af7 38.5px,#1d90f6 49.5px,#2f97f6 53.5px,#b4dbfb 66.5px,#dcecfc 74.5px,#ebf4fd 81.5px)"></i>
<i style="left:58px;top:108px;height:82px;background:linear-gradient(#e3effc 0.5px,#bbdefb 13.5px,#76bcf9 25.5px,#71baf8 30.5px,#8fc9fa 41.5px,#94cbfa 50.5px,#e3effc 72.5px,#eef6fd 81.5px)"></i>
<i style="left:59px;top:108px;height:82px;background:linear-gradient(#e5f1fc 0.5px,#b0d9fb 25.5px,#c6e3fb 33.5px,#ddedfc 40.5px,#daebfc 58.5px,#f1f7fd 81.5px)"></i>
<i style="left:60px;top:108px;height:82px;background:linear-gradient(#e4f0fc 0.5px,#b3dafb 24.5px,#c0e0fb 30.5px,#e5f1fc 39.5px,#dfeefc 61.5px,#f0f7fd 81.5px)"></i>
<i style="left:61px;top:108px;height:82px;background:linear-gradient(#ddedfc 0.5px,#b3dbfb 13.5px,#7abff9 24.5px,#7cc0f9 29.5px,#b2dafb 40.5px,#add8fb 52.5px,#e8f2fc 77.5px,#ecf4fd 81.5px)"></i>
<i style="left:62px;top:108px;height:82px;background:linear-gradient(#d1e8fc 0.5px,#aed8fb 8.5px,#65b4f8 16.5px,#2e96f6 21.5px,#1a92f6 25.5px,#139af7 33.5px,#1e91f6 48.5px,#349af6 54.5px,#b6dcfb 68.5px,#dcedfc 77.5px,#e5f1fc 81.5px)"></i>
<i style="left:63px;top:108px;height:82px;background:linear-gradient(#c5e3fb 0.5px,#a9d6fb 5.5px,#6ab7f8 11.5px,#2794f6 16.5px,#1795f6 18.5px,#00bdf8 22.5px,#03e3f7 25.5px,#33f0c7 28.5px,#76f384 31.5px,#93f567 33.5px,#a3f457 36.5px,#9ff45c 43.5px,#8df56d 45.5px,#51f2a9 48.5px,#37f0c3 49.5px,#05e3f5 52.5px,#00c1f8 55.5px,#1499f7 59.5px,#1b91f6 60.5px,#2c96f6 62.5px,#87c5f9 68.5px,#b9ddfb 73.5px,#ddedfc 81.5px)"></i>
<i style="left:64px;top:108px;height:82px;background:linear-gradient(#bddffb 0.5px,#98cdfa 5.5px,#5baef8 10.5px,#2b95f6 13.5px,#1993f6 15.5px,#04b3f8 18.5px,#00d4f9 20.5px,#06e4f4 21.5px,#23ecd7 22.5px,#4ef1ac 23.5px,#88f472 24.5px,#dbf021 26.5px,#fdcf02 28.5px,#ff8e00 31.5px,#ff6400 34.5px,#fe4800 38.5px,#fd4700 42.5px,#ff6000 45.5px,#ff9100 48.5px,#ffc200 50.5px,#e3eb1a 52.5px,#97f563 54.5px,#2beecf 56.5px,#0ee6ec 57.5px,#00d9fa 58.5px,#0aa8f7 61.5px,#1993f6 63.5px,#2d96f6 65.5px,#82c3f9 70.5px,#b1dafb 74.5px,#d6eafc 81.5px)"></i>
<i style="left:65px;top:108px;height:82px;background:linear-gradient(#bcdefb 0.5px,#95ccfa 5.5px,#56acf7 10.5px,#2894f6 13.5px,#1e91f6 14.5px,#08acf7 17.5px,#00cbf9 19.5px,#00ddfa 20.5px,#16e8e4 21.5px,#37f0c3 22.5px,#75f385 23.5px,#abf450 24.5px,#d5f126 25.5px,#ffcd00 27.5px,#ff8000 30.5px,#ff4d00 33.5px,#f02500 37.5px,#ec1c00 41.5px,#f32e00 44.5px,#ff5900 47.5px,#ff8300 49.5px,#ffbb00 51.5px,#f7d607 52.5px,#e3eb19 53.5px,#bdf23e 54.5px,#8ef56c 55.5px,#50f1aa 56.5px,#22ecd8 57.5px,#04e3f6 58.5px,#00bff8 60.5px,#1598f6 63.5px,#1e91f6 64.5px,#399cf6 66.5px,#8bc7f9 71.5px,#b6dcfb 75.5px,#d5e9fc 81.5px)"></i>
<i style="left:66px;top:108px;height:82px;background:linear-gradient(#c1e1fb 0.5px,#a1d1fa 5.5px,#5baff8 11.5px,#2d96f6 14.5px,#1b91f6 16.5px,#07adf7 19.5px,#00d9fa 22.5px,#0be5ef 23.5px,#42f1b8 25.5px,#96f564 27.5px,#dfef1d 30.5px,#fcd002 34.5px,#ffbe00 39.5px,#ffc400 43.5px,#f3da0b 46.5px,#e0ee1c 48.5px,#aff34c 50.5px,#8ff56b 51.5px,#38f0c2 53.5px,#06e4f4 55.5px,#00c7f9 57.5px,#1697f6 61.5px,#1d90f6 62.5px,#349af6 64.5px,#84c3f9 69.5px,#b2dafb 73.5px,#d6eafc 80.5px,#daebfc 81.5px)"></i>
<i style="left:67px;top:108px;height:82px;background:linear-gradient(#cce5fc 0.5px,#a8d5fb 7.5px,#61b2f8 14.5px,#2d96f6 18.5px,#1994f6 21.5px,#00bdf8 28.5px,#00c8f9 34.5px,#02b9f8 47.5px,#1993f6 55.5px,#2b95f6 58.5px,#a3d3fa 68.5px,#c6e3fb 73.5px,#e2effc 81.5px)"></i>
<i style="left:68px;top:108px;height:82px;background:linear-gradient(#d7eafc 0.5px,#aed8fb 11.5px,#52aaf7 24.5px,#4ba6f7 29.5px,#79bef9 40.5px,#79bef9 50.5px,#99cdfa 58.5px,#cee6fc 69.5px,#e8f2fc 80.5px,#e9f3fd 81.5px)"></i>
<i style="left:69px;top:108px;height:82px;background:linear-gradient(#e0eefc 0.5px,#a9d5fb 20.5px,#9ed0fa 25.5px,#b4dbfb 31.5px,#d8ebfc 39.5px,#d3e8fc 58.5px,#eef6fd 81.5px)"></i>
<i style="left:70px;top:108px;height:82px;background:linear-gradient(#e3effc 0.5px,#add8fb 25.5px,#c9e4fb 33.5px,#e3f0fc 40.5px,#dcecfc 59.5px,#eff6fd 81.5px)"></i>
<i style="left:71px;top:108px;height:82px;background:linear-gradient(#e0eefc 0.5px,#b4dbfb 14.5px,#7cbff9 25.5px,#80c1f9 30.5px,#aad6fb 40.5px,#a9d6fb 51.5px,#e7f2fc 75.5px,#edf5fd 81.5px)"></i>
<i style="left:72px;top:108px;height:82px;background:linear-gradient(#d9ebfc 0.5px,#b5dbfb 9.5px,#7abef9 16.5px,#2e97f6 23.5px,#1a93f6 29.5px,#2192f6 47.5px,#3299f6 52.5px,#b3dafb 66.5px,#ddedfc 75.5px,#e9f3fd 81.5px)"></i>
<i style="left:73px;top:108px;height:82px;background:linear-gradient(#d1e8fc 0.5px,#afd8fb 7.5px,#70baf8 13.5px,#2a95f6 18.5px,#1a92f6 20.5px,#00bef8 25.5px,#01e2f9 29.5px,#25ecd5 33.5px,#3af0c0 39.5px,#32f0c8 43.5px,#15e8e5 47.5px,#00e0fa 49.5px,#06aff8 54.5px,#1c90f6 58.5px,#2e96f6 60.5px,#94cbfa 67.5px,#badefb 71.5px,#dfeefc 79.5px,#e4f0fc 81.5px)"></i>
<i style="left:74px;top:108px;height:82px;background:linear-gradient(#cde6fc 0.5px,#acd7fb 6.5px,#76bcf9 11.5px,#2b95f6 16.5px,#1993f6 18.5px,#05b2f8 21.5px,#00defa 24.5px,#26edd4 26.5px,#45f1b5 27.5px,#92f568 29.5px,#d8f024 32.5px,#f1dc0c 35.5px,#ffcc00 40.5px,#f5d709 44.5px,#daf022 47.5px,#a7f453 49.5px,#86f474 50.5px,#30f0ca 52.5px,#02e3f8 54.5px,#03b6f8 57.5px,#1795f6 60.5px,#2995f6 62.5px,#8ac6f9 68.5px,#b6dcfb 72.5px,#daecfc 79.5px,#e1effc 81.5px)"></i>
<i style="left:75px;top:108px;height:82px;background:linear-gradient(#cee6fc 0.5px,#aed8fb 6.5px,#79bef9 11.5px,#2d96f6 16.5px,#1b91f6 18.5px,#07aef7 21.5px,#00d8f9 24.5px,#07e4f3 25.5px,#30f0ca 27.5px,#99f561 30.5px,#d4f128 33.5px,#e6e716 35.5px,#f4d90a 40.5px,#eae413 44.5px,#d8f024 46.5px,#91f569 49.5px,#42f1b8 51.5px,#0ee6ec 53.5px,#00ddfa 54.5px,#05b2f8 57.5px,#1993f6 60.5px,#2c96f6 62.5px,#8cc7f9 68.5px,#b7dcfb 72.5px,#dbecfc 79.5px,#e1effc 81.5px)"></i>
<i style="left:76px;top:108px;height:82px;background:linear-gradient(#d4e9fc 0.5px,#acd7fb 8.5px,#6db8f8 14.5px,#2a95f6 19.5px,#1a92f6 21.5px,#00c0f8 27.5px,#01e2f9 33.5px,#0de6ed 38.5px,#06e4f4 44.5px,#00d8f9 47.5px,#05b3f8 52.5px,#1d90f6 57.5px,#2d96f6 59.5px,#90c9fa 66.5px,#b8dcfb 70.5px,#deedfc 78.5px,#e5f1fc 81.5px)"></i>
<i style="left:77px;top:108px;height:82px;background:linear-gradient(#ddedfc 0.5px,#b8ddfb 10.5px,#81c2f9 17.5px,#379bf6 25.5px,#2995f6 29.5px,#3097f6 39.5px,#379bf6 47.5px,#5baff8 54.5px,#bbdefb 66.5px,#e3f0fc 76.5px,#ebf4fd 81.5px)"></i>
<i style="left:78px;top:108px;height:82px;background:linear-gradient(#e6f1fc 0.5px,#bedffb 15.5px,#98cdfa 25.5px,#9fd1fa 31.5px,#bedffb 40.5px,#bedffb 53.5px,#ebf4fd 75.5px,#f0f7fd 81.5px)"></i>
<i style="left:79px;top:108px;height:82px;background:linear-gradient(#eaf3fd 0.5px,#c6e3fb 25.5px,#deeefc 34.5px,#ecf4fd 41.5px,#e9f3fd 63.5px,#f4f9fe 81.5px)"></i>
<i style="left:80px;top:108px;height:82px;background:linear-gradient(#ecf4fd 0.5px,#c9e4fb 25.5px,#ebf4fd 40.5px,#ebf4fd 64.5px,#f4f9fe 81.5px)"></i>
<i style="left:81px;top:108px;height:82px;background:linear-gradient(#eaf3fd 0.5px,#cce6fc 14.5px,#a8d5fb 26.5px,#b2dafb 33.5px,#c2e1fb 41.5px,#c5e2fb 53.5px,#edf5fd 74.5px,#f3f8fe 81.5px)"></i>
<i style="left:82px;top:108px;height:82px;background:linear-gradient(#e6f1fc 0.5px,#c5e2fb 11.5px,#a1d2fa 17.5px,#5aaef8 26.5px,#48a4f7 32.5px,#57acf7 47.5px,#7bbff9 54.5px,#c1e1fb 64.5px,#e6f1fc 74.5px,#eff6fd 81.5px)"></i>
<i style="left:83px;top:108px;height:82px;background:linear-gradient(#e1effc 0.5px,#c0e0fb 9.5px,#9acefa 14.5px,#2c96f6 23.5px,#1b92f6 26.5px,#06b0f8 35.5px,#06aff8 44.5px,#1c90f6 52.5px,#3098f6 55.5px,#aad6fb 65.5px,#d1e8fc 71.5px,#e9f3fd 79.5px,#ecf5fd 81.5px)"></i>
<i style="left:84px;top:108px;height:82px;background:linear-gradient(#dfeefc 0.5px,#b9ddfb 9.5px,#8ac6f9 14.5px,#2a95f6 21.5px,#1a92f6 23.5px,#00bff8 29.5px,#03e3f7 35.5px,#13e7e7 40.5px,#08e4f2 44.5px,#00dcfa 46.5px,#04b4f8 51.5px,#1e91f6 56.5px,#3198f6 58.5px,#96ccfa 65.5px,#bddffb 69.5px,#e3effc 77.5px,#eaf4fd 81.5px)"></i>
<i style="left:85px;top:108px;height:82px;background:linear-gradient(#e0eefc 0.5px,#bbdefb 9.5px,#8fc9fa 14.5px,#2794f6 22.5px,#1894f6 24.5px,#00c1f8 31.5px,#00dbfa 37.5px,#00dafa 43.5px,#02b9f8 49.5px,#1c90f6 55.5px,#2c96f6 57.5px,#9ccffa 65.5px,#c0e0fb 69.5px,#e4f0fc 77.5px,#ebf4fd 81.5px)"></i>
<i style="left:86px;top:108px;height:82px;background:linear-gradient(#e4f0fc 0.5px,#c1e1fb 10.5px,#9ed0fa 15.5px,#2b95f6 26.5px,#1a92f6 31.5px,#1796f6 44.5px,#2693f6 50.5px,#3a9df6 53.5px,#b6dcfb 65.5px,#deedfc 73.5px,#eef5fd 81.5px)"></i>
<i style="left:87px;top:108px;height:82px;background:linear-gradient(#e9f3fd 0.5px,#cee7fc 11.5px,#a3d2fa 20.5px,#7dc0f9 27.5px,#79bef9 33.5px,#85c4f9 42.5px,#8fc9fa 50.5px,#dfeefc 69.5px,#f1f7fd 81.5px)"></i>
<i style="left:88px;top:108px;height:82px;background:linear-gradient(#eef5fd 0.5px,#d4e9fc 16.5px,#c2e1fb 26.5px,#d9ebfc 42.5px,#ddedfc 57.5px,#f5f9fe 81.5px)"></i>
<i style="left:89px;top:108px;height:82px;background:linear-gradient(#f1f7fd 0.5px,#dcecfc 26.5px,#f2f8fe 41.5px,#f2f8fe 68.5px,#f7fbfe 81.5px)"></i>
<i style="left:90px;top:108px;height:82px;background:linear-gradient(#f2f8fe 0.5px,#dcedfc 27.5px,#eff6fd 42.5px,#f2f8fe 68.5px,#f8fbfe 81.5px)"></i>
<i style="left:91px;top:108px;height:82px;background:linear-gradient(#f0f7fd 0.5px,#d9ebfc 16.5px,#c2e1fb 27.5px,#cfe7fc 44.5px,#ddedfc 58.5px,#f5fafe 79.5px,#f6fafe 81.5px)"></i>
<i style="left:92px;top:108px;height:82px;background:linear-gradient(#eef6fd 0.5px,#d9ebfc 11.5px,#a8d5fb 22.5px,#86c4f9 29.5px,#80c1f9 37.5px,#8ac6f9 47.5px,#e0eefc 67.5px,#f4f9fe 81.5px)"></i>
<i style="left:93px;top:108px;height:82px;background:linear-gradient(#ecf4fd 0.5px,#d7eafc 9.5px,#aed8fb 17.5px,#4ba6f7 28.5px,#2c96f6 34.5px,#2a95f6 44.5px,#3c9ef6 48.5px,#8ac6f9 57.5px,#bddffb 63.5px,#e5f1fc 72.5px,#f2f8fe 81.5px)"></i>
<i style="left:94px;top:108px;height:82px;background:linear-gradient(#ebf4fd 0.5px,#d4e9fc 9.5px,#acd7fb 16.5px,#2d96f6 28.5px,#1994f6 34.5px,#1598f6 43.5px,#2192f6 48.5px,#3198f6 51.5px,#b4dbfb 63.5px,#dfeefc 71.5px,#f1f7fd 81.5px)"></i>
<i style="left:95px;top:108px;height:82px;background:linear-gradient(#ecf4fd 0.5px,#d7eafc 9.5px,#abd7fb 17.5px,#42a1f7 28.5px,#2a95f6 32.5px,#2192f6 42.5px,#2f97f6 48.5px,#83c3f9 57.5px,#badefb 63.5px,#e4f0fc 72.5px,#f2f8fe 81.5px)"></i>
<i style="left:96px;top:108px;height:82px;background:linear-gradient(#eef6fd 0.5px,#d8ebfc 11.5px,#a9d5fb 21.5px,#79bef9 29.5px,#6cb8f8 36.5px,#74bcf8 46.5px,#9bcffa 54.5px,#d1e8fc 64.5px,#ebf4fd 73.5px,#f4f9fe 81.5px)"></i>
<i style="left:97px;top:108px;height:82px;background:linear-gradient(#f1f7fd 0.5px,#dbecfc 15.5px,#bddffb 28.5px,#cde6fc 53.5px,#f0f7fd 72.5px,#f7fafe 81.5px)"></i>
<i style="left:98px;top:108px;height:82px;background:linear-gradient(#f4f9fe 0.5px,#e0eefc 28.5px,#ecf5fd 44.5px,#f9fcfe 81.5px)"></i>
<i style="left:99px;top:108px;height:82px;background:linear-gradient(#f6fafe 0.5px,#ecf5fd 28.5px,#f7fbfe 44.5px,#fafcfe 81.5px)"></i>
<i style="left:100px;top:108px;height:82px;background:linear-gradient(#f7fafe 0.5px,#ebf4fd 29.5px,#f3f8fe 46.5px,#fafcfe 81.5px)"></i>
<i style="left:101px;top:108px;height:82px;background:linear-gradient(#f6fafe 0.5px,#daecfc 31.5px,#eef6fd 63.5px,#fafcfe 81.5px)"></i>
<i style="left:102px;top:108px;height:82px;background:linear-gradient(#f5f9fe 0.5px,#dfeefc 16.5px,#b9ddfb 30.5px,#b9ddfb 46.5px,#edf5fd 68.5px,#f8fbfe 81.5px)"></i>
<i style="left:103px;top:108px;height:82px;background:linear-gradient(#f3f9fe 0.5px,#e0eefc 13.5px,#abd7fb 25.5px,#85c4f9 34.5px,#80c2f9 43.5px,#9acefa 50.5px,#daecfc 63.5px,#f2f8fe 74.5px,#f7fbfe 81.5px)"></i>
<i style="left:104px;top:108px;height:82px;background:linear-gradient(#f3f8fe 0.5px,#deedfc 13.5px,#afd9fb 23.5px,#7abff9 32.5px,#6ab6f8 39.5px,#71baf8 45.5px,#9ed0fa 53.5px,#d2e8fc 62.5px,#edf5fd 71.5px,#f7fbfe 81.5px)"></i>
<i style="left:105px;top:108px;height:82px;background:linear-gradient(#f4f9fe 0.5px,#deeefc 14.5px,#90c9fa 33.5px,#89c6f9 42.5px,#9ccffa 49.5px,#e3effc 65.5px,#f7fbfe 80.5px,#f8fbfe 81.5px)"></i>
<i style="left:106px;top:108px;height:82px;background:linear-gradient(#f5fafe 0.5px,#e0eefc 17.5px,#c0e0fb 31.5px,#c4e2fb 48.5px,#f0f7fd 69.5px,#f9fcfe 81.5px)"></i>
<i style="left:107px;top:108px;height:82px;background:linear-gradient(#f7fbfe 0.5px,#e1effc 31.5px,#f3f8fe 66.5px,#fafcfe 81.5px)"></i>
<i style="left:108px;top:108px;height:82px;background:linear-gradient(#f9fcfe 0.5px,#f1f7fd 31.5px,#fcfdff 81.5px)"></i>
<i style="left:109px;top:108px;height:82px;background:linear-gradient(#fafcfe 0.5px,#f6fafe 31.5px,#fcfdff 81.5px)"></i>
<i style="left:110px;top:108px;height:82px;background:linear-gradient(#fafcfe 0.5px,#f2f8fe 32.5px,#fcfdff 81.5px)"></i>
<i style="left:111px;top:108px;height:82px;background:linear-gradient(#f9fcfe 0.5px,#e6f1fc 34.5px,#f4f9fe 64.5px,#fcfdff 81.5px)"></i>
<i style="left:112px;top:108px;height:82px;background:linear-gradient(#f8fbfe 0.5px,#e3f0fc 21.5px,#cee6fc 35.5px,#d5e9fc 49.5px,#f6fafe 71.5px,#fbfdff 81.5px)"></i>
<i style="left:113px;top:108px;height:82px;background:linear-gradient(#f8fbfe 0.5px,#e4f0fc 18.5px,#bbdefb 34.5px,#badefb 45.5px,#eef6fd 66.5px,#fafcfe 81.5px)"></i>
<i style="left:114px;top:108px;height:82px;background:linear-gradient(#f8fbfe 0.5px,#e3f0fc 18.5px,#b8ddfb 34.5px,#b8ddfb 45.5px,#eef6fd 66.5px,#fafcfe 81.5px)"></i>
<i style="left:115px;top:108px;height:82px;background:linear-gradient(#f9fbfe 0.5px,#e4f0fc 20.5px,#cae5fb 34.5px,#cee6fc 48.5px,#f3f8fe 68.5px,#fbfdff 81.5px)"></i>
<i style="left:116px;top:108px;height:82px;background:linear-gradient(#fafcfe 0.5px,#e3f0fc 35.5px,#f0f6fd 60.5px,#fcfdff 81.5px)"></i>
<i style="left:117px;top:108px;height:82px;background:linear-gradient(#fbfdff 0.5px,#f2f8fe 34.5px,#fcfeff 81.5px)"></i>
<i style="left:118px;top:108px;height:82px;background:linear-gradient(#fcfdff 0.5px,#fafcfe 35.5px,#fdfeff 81.5px)"></i>
<i style="left:119px;top:108px;height:82px;background:linear-gradient(#fcfdff 0.5px,#fbfdff 36.5px,#fdfeff 81.5px)"></i>
<i style="left:120px;top:108px;height:82px;background:linear-gradient(#fcfdff 0.5px,#f7fbfe 37.5px,#fdfeff 81.5px)"></i>
<i style="left:121px;top:108px;height:82px;background:linear-gradient(#fbfdff 0.5px,#edf5fd 38.5px,#fdfeff 81.5px)"></i>
<i style="left:122px;top:108px;height:82px;background:linear-gradient(#fbfdff 0.5px,#e4f0fc 27.5px,#dfeefc 45.5px,#fbfdff 77.5px,#fcfdff 81.5px)"></i>
<i style="left:123px;top:108px;height:82px;background:linear-gradient(#fafcfe 0.5px,#e6f1fc 22.5px,#d0e7fc 38.5px,#daecfc 50.5px,#f8fbfe 71.5px,#fcfdff 81.5px)"></i>
<i style="left:124px;top:108px;height:82px;background:linear-gradient(#fafcfe 0.5px,#e7f2fc 22.5px,#d2e8fc 38.5px,#dbecfc 50.5px,#f8fbfe 71.5px,#fcfdff 81.5px)"></i>
<i style="left:125px;top:108px;height:82px;background:linear-gradient(#fbfdff 0.5px,#e1effc 40.5px,#fcfdff 81.5px)"></i>
<i style="left:126px;top:108px;height:82px;background:linear-gradient(#fcfdff 0.5px,#f0f6fd 39.5px,#fdfeff 81.5px)"></i>
<i style="left:127px;top:108px;height:82px;background:linear-gradient(#fcfdff 0.5px,#f9fcfe 46.5px,#fdfeff 81.5px)"></i>
<i style="left:128px;top:108px;height:82px;background:linear-gradient(#fdfeff 0.5px,#fefeff 81.5px)"></i>
<i style="left:129px;top:108px;height:82px;background:linear-gradient(#fdfeff 0.5px,#fefeff 81.5px)"></i>
<i style="left:130px;top:108px;height:82px;background:linear-gradient(#fdfeff 0.5px,#f9fcfe 54.5px,#fefeff 81.5px)"></i>
<i style="left:131px;top:108px;height:82px;background:linear-gradient(#fcfeff 0.5px,#f2f8fe 45.5px,#fdfeff 81.5px)"></i>
<i style="left:132px;top:108px;height:82px;background:linear-gradient(#fcfdff 0.5px,#e9f3fd 43.5px,#fdfeff 81.5px)"></i>
<i style="left:133px;top:108px;height:82px;background:linear-gradient(#fcfdff 0.5px,#e4f0fc 43.5px,#fdfeff 79.5px,#fdfeff 81.5px)"></i>
<i style="left:134px;top:108px;height:82px;background:linear-gradient(#fcfdff 0.5px,#e7f2fc 43.5px,#fdfeff 81.5px)"></i>
<i style="left:135px;top:108px;height:82px;background:linear-gradient(#fdfeff 0.5px,#f0f7fd 45.5px,#fdfeff 81.5px)"></i>
<i style="left:136px;top:108px;height:82px;background:linear-gradient(#fdfeff 0.5px,#f8fbfe 53.5px,#fefeff 81.5px)"></i>
<i style="left:137px;top:108px;height:82px;background:linear-gradient(#fdfeff 0.5px,#fefeff 81.5px)"></i>
<i style="left:138px;top:108px;height:82px;background:linear-gradient(#fefeff 0.5px,#feffff 81.5px)"></i>
<i style="left:139px;top:108px;height:82px;background:linear-gradient(#fefeff 0.5px,#feffff 81.5px)"></i>
<i style="left:140px;top:108px;height:82px;background:linear-gradient(#fefeff 0.5px,#fdfeff 68.5px,#feffff 81.5px)"></i>
<i style="left:141px;top:108px;height:82px;background:linear-gradient(#fdfeff 0.5px,#f7fafe 51.5px,#fefeff 81.5px)"></i>
<i style="left:142px;top:108px;height:82px;background:linear-gradient(#fdfeff 0.5px,#f2f8fe 47.5px,#fefeff 81.5px)"></i>
<i style="left:143px;top:108px;height:82px;background:linear-gradient(#fdfeff 0.5px,#f0f7fd 46.5px,#fefeff 81.5px)"></i>
<i style="left:144px;top:108px;height:82px;background:linear-gradient(#fdfeff 0.5px,#f3f9fe 48.5px,#fefeff 81.5px)"></i>
<i style="left:145px;top:108px;height:82px;background:linear-gradient(#fefeff 0.5px,#f9fcfe 55.5px,#feffff 81.5px)"></i>
<i style="left:146px;top:108px;height:82px;background:linear-gradient(#fefeff 0.5px,#feffff 81.5px)"></i>
<i style="left:22px;top:192px;height:82px;background:linear-gradient(#fdfeff 0.5px,#f6fafe 53.5px,#fdfeff 81.5px)"></i>
<i style="left:23px;top:192px;height:82px;background:linear-gradient(#fdfeff 0.5px,#f4f9fe 51.5px,#fdfeff 81.5px)"></i>
<i style="left:24px;top:192px;height:82px;background:linear-gradient(#fdfeff 0.5px,#f3f8fe 50.5px,#fdfeff 81.5px)"></i>
<i style="left:25px;top:192px;height:82px;background:linear-gradient(#fcfeff 0.5px,#f0f7fd 48.5px,#fcfeff 81.5px)"></i>
<i style="left:26px;top:192px;height:82px;background:linear-gradient(#fbfdff 0.5px,#e8f2fc 44.5px,#fbfdff 81.5px)"></i>
<i style="left:27px;top:192px;height:82px;background:linear-gradient(#fafcfe 0.5px,#e1effc 25.5px,#d1e8fc 41.5px,#e2effc 57.5px,#fafcfe 81.5px)"></i>
<i style="left:28px;top:192px;height:82px;background:linear-gradient(#f8fbfe 0.5px,#e2effc 17.5px,#abd6fb 37.5px,#aed8fb 46.5px,#ebf4fd 69.5px,#f8fbfe 81.5px)"></i>
<i style="left:29px;top:192px;height:82px;background:linear-gradient(#f6fafe 0.5px,#e0eefc 15.5px,#a0d1fa 30.5px,#85c4f9 38.5px,#89c6f9 45.5px,#e3f0fc 67.5px,#f6fafe 81.5px)"></i>
<i style="left:30px;top:192px;height:82px;background:linear-gradient(#f6fafe 0.5px,#e1effc 15.5px,#8ec8fa 37.5px,#8ec8fa 44.5px,#b4dbfb 54.5px,#e6f1fc 68.5px,#f6fafe 81.5px)"></i>
<i style="left:31px;top:192px;height:82px;background:linear-gradient(#f8fbfe 0.5px,#e2effc 18.5px,#b7dcfb 36.5px,#badefb 47.5px,#eef5fd 70.5px,#f8fbfe 81.5px)"></i>
<i style="left:32px;top:192px;height:82px;background:linear-gradient(#f9fcfe 0.5px,#daecfc 30.5px,#d6eafc 46.5px,#f9fcfe 81.5px)"></i>
<i style="left:33px;top:192px;height:82px;background:linear-gradient(#fafcfe 0.5px,#e2effc 43.5px,#fafcfe 81.5px)"></i>
<i style="left:34px;top:192px;height:82px;background:linear-gradient(#fafcfe 0.5px,#e4f0fc 43.5px,#fafcfe 81.5px)"></i>
<i style="left:35px;top:192px;height:82px;background:linear-gradient(#fafcfe 0.5px,#dfeefc 42.5px,#fafcfe 81.5px)"></i>
<i style="left:36px;top:192px;height:82px;background:linear-gradient(#f7fbfe 0.5px,#dbecfc 23.5px,#c9e4fb 39.5px,#d4e9fc 54.5px,#f5fafe 78.5px,#f7fbfe 81.5px)"></i>
<i style="left:37px;top:192px;height:82px;background:linear-gradient(#f3f9fe 0.5px,#dcecfc 14.5px,#8ec8fa 35.5px,#8ac6f9 44.5px,#a6d4fa 53.5px,#e4f0fc 70.5px,#f3f9fe 81.5px)"></i>
<i style="left:38px;top:192px;height:82px;background:linear-gradient(#eff6fd 0.5px,#d8ebfc 10.5px,#aed8fb 18.5px,#389cf6 32.5px,#2894f6 36.5px,#2694f6 44.5px,#3298f6 48.5px,#79bef9 57.5px,#bbdefb 65.5px,#e5f1fc 75.5px,#eff6fd 81.5px)"></i>
<i style="left:39px;top:192px;height:82px;background:linear-gradient(#ecf5fd 0.5px,#d3e8fc 9.5px,#a6d4fb 16.5px,#2c95f6 27.5px,#1b91f6 30.5px,#08abf7 39.5px,#0ba5f7 45.5px,#2091f6 52.5px,#369bf6 55.5px,#a6d4fb 65.5px,#d3e8fc 72.5px,#ecf5fd 81.5px)"></i>
<i style="left:40px;top:192px;height:82px;background:linear-gradient(#edf5fd 0.5px,#d4e9fc 9.5px,#abd6fb 16.5px,#2c96f6 28.5px,#1a93f6 32.5px,#0da2f7 41.5px,#1d90f6 50.5px,#369bf6 54.5px,#abd6fb 65.5px,#d8ebfc 73.5px,#edf5fd 81.5px)"></i>
<i style="left:41px;top:192px;height:82px;background:linear-gradient(#f0f7fd 0.5px,#dbecfc 10.5px,#aad6fb 20.5px,#55abf7 32.5px,#3fa0f7 39.5px,#48a4f7 46.5px,#75bcf8 54.5px,#bcdffb 64.5px,#e4f0fc 74.5px,#f0f7fd 81.5px)"></i>
<i style="left:42px;top:192px;height:82px;background:linear-gradient(#f4f9fe 0.5px,#dbecfc 15.5px,#9ed0fa 36.5px,#9fd1fa 46.5px,#e8f2fc 72.5px,#f4f9fe 81.5px)"></i>
<i style="left:43px;top:192px;height:82px;background:linear-gradient(#f6fafe 0.5px,#d9ebfc 22.5px,#c4e2fb 38.5px,#cee6fc 53.5px,#f2f8fe 76.5px,#f6fafe 81.5px)"></i>
<i style="left:44px;top:192px;height:82px;background:linear-gradient(#f7fbfe 0.5px,#cce6fc 39.5px,#d9ebfc 56.5px,#f7fbfe 81.5px)"></i>
<i style="left:45px;top:192px;height:82px;background:linear-gradient(#f6fafe 0.5px,#d7eafc 24.5px,#c7e3fb 40.5px,#d5e9fc 56.5px,#f6fafe 80.5px,#f6fafe 81.5px)"></i>
<i style="left:46px;top:192px;height:82px;background:linear-gradient(#f3f9fe 0.5px,#d9ebfc 16.5px,#aed8fb 35.5px,#b0d9fb 47.5px,#edf5fd 75.5px,#f3f9fe 81.5px)"></i>
<i style="left:47px;top:192px;height:82px;background:linear-gradient(#eef6fd 0.5px,#d7eafc 10.5px,#a8d5fb 20.5px,#63b3f8 31.5px,#4fa8f7 38.5px,#55abf7 46.5px,#79bef9 54.5px,#bedffb 65.5px,#e6f1fc 76.5px,#eef6fd 81.5px)"></i>
<i style="left:48px;top:192px;height:82px;background:linear-gradient(#e7f2fc 0.5px,#c6e3fb 9.5px,#a3d3fa 14.5px,#2994f6 25.5px,#1c90f6 27.5px,#03b5f8 36.5px,#01baf8 43.5px,#1894f6 53.5px,#2292f6 55.5px,#3d9ef7 58.5px,#a3d3fa 67.5px,#cbe5fc 73.5px,#e7f2fc 81.5px)"></i>
<i style="left:49px;top:192px;height:82px;background:linear-gradient(#e1effc 0.5px,#bcdffb 8.5px,#99cdfa 12.5px,#2b95f6 20.5px,#1b91f6 22.5px,#00bcf8 27.5px,#00dcfa 30.5px,#06e4f4 31.5px,#3ef1bc 35.5px,#6af390 38.5px,#75f385 41.5px,#5ff29b 44.5px,#22ebd8 48.5px,#06e4f4 50.5px,#00d2f9 52.5px,#05b2f8 55.5px,#1b91f6 59.5px,#399cf6 62.5px,#99cdfa 69.5px,#bcdffb 73.5px,#e1effc 81.5px)"></i>
<i style="left:50px;top:192px;height:82px;background:linear-gradient(#e1effc 0.5px,#bcdefb 8.5px,#8cc7f9 13.5px,#2a95f6 20.5px,#1a92f6 22.5px,#00bdf8 27.5px,#00defa 30.5px,#30f0ca 34.5px,#64f396 37.5px,#7bf47f 40.5px,#6ff38b 43.5px,#44f1b6 46.5px,#24ecd6 48.5px,#00defa 51.5px,#04b3f8 55.5px,#1a92f6 59.5px,#379bf6 62.5px,#97cdfa 69.5px,#bcdefb 73.5px,#e1effc 81.5px)"></i>
<i style="left:51px;top:192px;height:82px;background:linear-gradient(#e6f1fc 0.5px,#c4e2fb 9.5px,#9fd1fa 14.5px,#2c95f6 24.5px,#1a92f6 27.5px,#00bdf8 37.5px,#00bff8 43.5px,#0ca5f7 50.5px,#1f91f6 55.5px,#379bf6 58.5px,#9fd1fa 67.5px,#c4e2fb 72.5px,#e6f1fc 81.5px)"></i>
<i style="left:52px;top:192px;height:82px;background:linear-gradient(#edf5fd 0.5px,#d3e9fc 10.5px,#a5d4fa 19.5px,#56acf7 31.5px,#40a0f7 38.5px,#46a3f7 46.5px,#6cb8f8 54.5px,#bddffb 66.5px,#e6f1fc 77.5px,#edf5fd 81.5px)"></i>
<i style="left:53px;top:192px;height:82px;background:linear-gradient(#f1f7fd 0.5px,#d7eafc 14.5px,#99cefa 35.5px,#99cefa 46.5px,#e9f3fd 75.5px,#f1f7fd 81.5px)"></i>
<i style="left:54px;top:192px;height:82px;background:linear-gradient(#f4f9fe 0.5px,#d8ebfc 17.5px,#b3dafb 35.5px,#b5dbfb 48.5px,#eef6fd 76.5px,#f4f9fe 81.5px)"></i>
<i style="left:55px;top:192px;height:82px;background:linear-gradient(#f3f8fe 0.5px,#d9ebfc 16.5px,#b1dafb 35.5px,#b2dafb 47.5px,#eff6fd 77.5px,#f3f8fe 81.5px)"></i>
<i style="left:56px;top:192px;height:82px;background:linear-gradient(#f0f7fd 0.5px,#d5e9fc 13.5px,#91cafa 34.5px,#8ec8fa 45.5px,#a8d5fb 55.5px,#e5f1fc 74.5px,#f0f7fd 81.5px)"></i>
<i style="left:57px;top:192px;height:82px;background:linear-gradient(#e8f2fc 0.5px,#c8e4fb 10.5px,#9fd0fa 17.5px,#42a1f7 29.5px,#2b95f6 34.5px,#2894f6 45.5px,#369bf6 50.5px,#7ec0f9 60.5px,#baddfb 68.5px,#e5f0fc 79.5px,#e8f2fc 81.5px)"></i>
<i style="left:58px;top:192px;height:82px;background:linear-gradient(#dcecfc 0.5px,#b4dbfb 8.5px,#75bcf9 14.5px,#2794f6 20.5px,#1993f6 22.5px,#00c3f8 28.5px,#04e3f6 32.5px,#28edd2 36.5px,#37f0c3 40.5px,#2defcd 44.5px,#0fe6eb 48.5px,#00ddfa 50.5px,#06b1f8 55.5px,#1993f6 59.5px,#3198f6 62.5px,#98cdfa 70.5px,#c1e0fb 75.5px,#dcecfc 81.5px)"></i>
<i style="left:59px;top:192px;height:82px;background:linear-gradient(#cfe7fc 0.5px,#a8d5fb 6.5px,#69b6f8 11.5px,#2a95f6 15.5px,#1894f6 17.5px,#04b4f8 20.5px,#02e2f8 23.5px,#38f0c2 25.5px,#9cf55e 27.5px,#e0ee1c 29.5px,#fece00 31.5px,#ff9200 34.5px,#ff6e00 37.5px,#ff5f00 40.5px,#ff6600 43.5px,#ff8300 46.5px,#ffb800 49.5px,#fece00 50.5px,#e0ee1c 52.5px,#9cf55e 54.5px,#38f0c2 56.5px,#02e2f8 58.5px,#04b4f8 61.5px,#1894f6 64.5px,#2a95f6 66.5px,#92cafa 73.5px,#b9ddfb 77.5px,#cfe7fc 81.5px)"></i>
<i style="left:60px;top:192px;height:82px;background:linear-gradient(#cbe5fb 0.5px,#aad6fb 5.5px,#6bb7f8 10.5px,#2a95f6 14.5px,#1895f6 16.5px,#02b7f8 19.5px,#00d9fa 21.5px,#0de6ed 22.5px,#2aeed0 23.5px,#5af2a0 24.5px,#94f566 25.5px,#e3eb1a 27.5px,#f5d709 28.5px,#ffbf00 29.5px,#ff7300 32.5px,#fa3e00 35.5px,#ed1f00 38.5px,#e81700 41.5px,#f12700 44.5px,#ff4d00 47.5px,#ff8900 50.5px,#ffbf00 52.5px,#f5d709 53.5px,#e3eb1a 54.5px,#94f566 56.5px,#5af2a0 57.5px,#2aeed0 58.5px,#0de6ed 59.5px,#00d9fa 60.5px,#09aaf7 63.5px,#1895f6 65.5px,#2a95f6 67.5px,#87c5f9 73.5px,#b3dafb 77.5px,#cbe5fb 81.5px)"></i>
<i style="left:61px;top:192px;height:82px;background:linear-gradient(#d3e8fc 0.5px,#b1d9fb 6.5px,#78bdf9 11.5px,#2c96f6 16.5px,#1a92f6 18.5px,#01baf8 22.5px,#03e3f7 25.5px,#2fefcb 27.5px,#81f479 29.5px,#bff23c 31.5px,#d8f024 32.5px,#f8d507 35.5px,#ffc400 37.5px,#ffb700 40.5px,#ffbe00 43.5px,#ffcd00 45.5px,#e6e817 48.5px,#d8f024 49.5px,#a4f457 51.5px,#58f2a2 53.5px,#2fefcb 54.5px,#03e3f7 56.5px,#01baf8 59.5px,#1a92f6 63.5px,#2c96f6 65.5px,#85c4f9 71.5px,#b8ddfb 76.5px,#d3e8fc 81.5px)"></i>
<i style="left:62px;top:192px;height:82px;background:linear-gradient(#e0eefc 0.5px,#b8ddfb 9.5px,#82c2f9 15.5px,#2f97f6 22.5px,#1b91f6 25.5px,#00bbf8 34.5px,#00c8f9 41.5px,#02b7f8 48.5px,#1b91f6 56.5px,#2f97f6 59.5px,#a1d1fa 69.5px,#c4e2fb 74.5px,#e0eefc 81.5px)"></i>
<i style="left:63px;top:192px;height:82px;background:linear-gradient(#eaf4fd 0.5px,#cbe5fb 11.5px,#a2d2fa 19.5px,#5fb1f8 30.5px,#4aa6f7 38.5px,#51a9f7 47.5px,#74bcf8 55.5px,#bedffb 67.5px,#e7f2fc 79.5px,#eaf4fd 81.5px)"></i>
<i style="left:64px;top:192px;height:82px;background:linear-gradient(#f0f7fd 0.5px,#d5e9fc 13.5px,#93cafa 34.5px,#90c9fa 45.5px,#add8fb 56.5px,#e7f2fc 75.5px,#f0f7fd 81.5px)"></i>
<i style="left:65px;top:192px;height:82px;background:linear-gradient(#f1f7fd 0.5px,#d6eafc 14.5px,#9dd0fa 35.5px,#9dd0fa 46.5px,#eaf4fd 76.5px,#f1f7fd 81.5px)"></i>
<i style="left:66px;top:192px;height:82px;background:linear-gradient(#eff6fd 0.5px,#d6eafc 12.5px,#8cc7f9 34.5px,#89c6f9 45.5px,#a8d5fb 56.5px,#e6f1fc 75.5px,#eff6fd 81.5px)"></i>
<i style="left:67px;top:192px;height:82px;background:linear-gradient(#e9f3fd 0.5px,#c7e3fb 11.5px,#a0d1fa 18.5px,#51a9f7 30.5px,#3a9df6 37.5px,#3e9ff7 46.5px,#61b2f8 54.5px,#bedffb 68.5px,#e6f1fc 79.5px,#e9f3fd 81.5px)"></i>
<i style="left:68px;top:192px;height:82px;background:linear-gradient(#deedfc 0.5px,#b3dbfb 9.5px,#6bb7f8 16.5px,#2c96f6 21.5px,#1993f6 24.5px,#00c3f8 32.5px,#00dafa 38.5px,#00d6f9 45.5px,#03b7f8 51.5px,#1f91f6 58.5px,#389cf6 61.5px,#a2d2fa 70.5px,#c5e2fb 75.5px,#deedfc 81.5px)"></i>
<i style="left:69px;top:192px;height:82px;background:linear-gradient(#d0e7fc 0.5px,#abd7fb 6.5px,#70b9f8 11.5px,#2693f6 16.5px,#1c90f6 17.5px,#09abf7 20.5px,#00d4f9 23.5px,#02e2f8 24.5px,#30f0ca 26.5px,#8bf46f 28.5px,#ccf130 30.5px,#e3eb1a 31.5px,#fad204 33.5px,#ffa100 37.5px,#ff9200 40.5px,#ff9900 43.5px,#ffb600 46.5px,#fad204 48.5px,#e3eb1a 50.5px,#adf34d 52.5px,#8bf46f 53.5px,#30f0ca 55.5px,#02e2f8 57.5px,#02b7f8 60.5px,#1697f6 63.5px,#1c90f6 64.5px,#3198f6 66.5px,#8ac6f9 72.5px,#bbdefb 77.5px,#d0e7fc 81.5px)"></i>
<i style="left:70px;top:192px;height:82px;background:linear-gradient(#c9e4fb 0.5px,#a6d4fb 5.5px,#66b4f8 10.5px,#2794f6 14.5px,#1d90f6 15.5px,#07aef8 18.5px,#00cdf9 20.5px,#00dffa 21.5px,#36f0c4 23.5px,#a5f455 25.5px,#d0f12c 26.5px,#ebe212 27.5px,#fece01 28.5px,#ff7c00 31.5px,#fb4000 34.5px,#eb1900 37.5px,#d70e00 40.5px,#e11300 43.5px,#ef2400 45.5px,#ff5200 48.5px,#ff9500 51.5px,#fece01 53.5px,#ebe212 54.5px,#d0f12c 55.5px,#a5f455 56.5px,#36f0c4 58.5px,#00dffa 60.5px,#00bcf8 62.5px,#1598f6 65.5px,#1d90f6 66.5px,#349af6 68.5px,#83c3f9 73.5px,#b8dcfb 78.5px,#c9e4fb 81.5px)"></i>
<i style="left:71px;top:192px;height:82px;background:linear-gradient(#cee6fc 0.5px,#a6d4fb 6.5px,#67b5f8 11.5px,#2995f6 15.5px,#1895f6 17.5px,#00c3f8 21.5px,#01e2f9 23.5px,#36f0c4 25.5px,#99f561 27.5px,#def01e 29.5px,#fcd003 31.5px,#ff8800 35.5px,#ff6d00 38.5px,#ff6600 41.5px,#ff7300 44.5px,#ff9700 47.5px,#fcd003 50.5px,#def01e 52.5px,#99f561 54.5px,#36f0c4 56.5px,#01e2f9 58.5px,#04b5f8 61.5px,#1895f6 64.5px,#2995f6 66.5px,#90c9fa 73.5px,#b7dcfb 77.5px,#cee6fc 81.5px)"></i>
<i style="left:72px;top:192px;height:82px;background:linear-gradient(#dbecfc 0.5px,#b3dbfb 8.5px,#74bcf8 14.5px,#2894f6 20.5px,#1a93f6 22.5px,#00bff8 28.5px,#00e0fa 32.5px,#24ecd6 37.5px,#2aeed0 42.5px,#18e9e2 46.5px,#00e0fa 49.5px,#03b7f8 54.5px,#1a93f6 59.5px,#3198f6 62.5px,#97cdfa 70.5px,#c0e0fb 75.5px,#dbecfc 81.5px)"></i>
<i style="left:73px;top:192px;height:82px;background:linear-gradient(#e7f2fc 0.5px,#c6e3fb 10.5px,#a2d2fa 16.5px,#3e9ff7 29.5px,#2995f6 34.5px,#2694f6 45.5px,#3299f6 50.5px,#79bef9 60.5px,#bcdefb 69.5px,#e5f1fc 80.5px,#e7f2fc 81.5px)"></i>
<i style="left:74px;top:192px;height:82px;background:linear-gradient(#eef6fd 0.5px,#d3e8fc 12.5px,#83c3f9 33.5px,#7cbff9 43.5px,#8fc9fa 52.5px,#dcedfc 72.5px,#eef6fd 81.5px)"></i>
<i style="left:75px;top:192px;height:82px;background:linear-gradient(#f1f7fd 0.5px,#d5e9fc 14.5px,#9acefa 35.5px,#9acefa 46.5px,#eaf3fd 76.5px,#f1f7fd 81.5px)"></i>
<i style="left:76px;top:192px;height:82px;background:linear-gradient(#f0f7fd 0.5px,#d6eafc 13.5px,#95ccfa 34.5px,#92cafa 45.5px,#b3dafb 57.5px,#e9f3fd 76.5px,#f0f7fd 81.5px)"></i>
<i style="left:77px;top:192px;height:82px;background:linear-gradient(#ecf4fd 0.5px,#cfe7fc 11.5px,#a0d1fa 21.5px,#6ab6f8 32.5px,#5eb0f8 41.5px,#6ab6f8 49.5px,#a0d1fa 60.5px,#d3e9fc 71.5px,#ecf4fd 81.5px)"></i>
<i style="left:78px;top:192px;height:82px;background:linear-gradient(#e4f0fc 0.5px,#badefb 10.5px,#7fc1f9 17.5px,#2c96f6 25.5px,#1a93f6 29.5px,#0aa8f7 39.5px,#109ef7 48.5px,#2292f6 54.5px,#359af6 57.5px,#add8fb 69.5px,#daecfc 78.5px,#e4f0fc 81.5px)"></i>
<i style="left:79px;top:192px;height:82px;background:linear-gradient(#d7eafc 0.5px,#b1d9fb 7.5px,#6cb7f8 13.5px,#3098f6 17.5px,#1d90f6 19.5px,#06b0f8 23.5px,#00e0fa 27.5px,#33f0c7 30.5px,#8df56d 33.5px,#b0f34a 35.5px,#cff12c 38.5px,#d7f125 41.5px,#c8f234 44.5px,#a1f459 47.5px,#72f388 49.5px,#33f0c7 51.5px,#00e0fa 54.5px,#06b0f8 58.5px,#1d90f6 62.5px,#3098f6 64.5px,#92cafa 71.5px,#b8ddfb 75.5px,#d7eafc 81.5px)"></i>
<i style="left:80px;top:192px;height:82px;background:linear-gradient(#cee6fc 0.5px,#afd9fb 5.5px,#74bbf8 10.5px,#2794f6 15.5px,#1d90f6 16.5px,#08adf7 19.5px,#00caf9 21.5px,#00dbfa 22.5px,#10e6ea 23.5px,#2aeed0 24.5px,#8ef56c 26.5px,#ddf01f 28.5px,#ffcd00 30.5px,#ff8800 33.5px,#ff5d00 36.5px,#fd4600 39.5px,#fd4600 42.5px,#ff5d00 45.5px,#ff8800 48.5px,#ffcd00 51.5px,#ddf01f 53.5px,#8ef56c 55.5px,#2aeed0 57.5px,#10e6ea 58.5px,#00dbfa 59.5px,#01baf8 61.5px,#1598f6 64.5px,#1d90f6 65.5px,#3399f6 67.5px,#8fc9fa 73.5px,#b7dcfb 77.5px,#cee6fc 81.5px)"></i>
<i style="left:81px;top:192px;height:82px;background:linear-gradient(#cfe7fc 0.5px,#a8d5fb 6.5px,#69b6f8 11.5px,#2a95f6 15.5px,#1895f6 17.5px,#04b4f8 20.5px,#02e3f8 23.5px,#39f0c1 25.5px,#9ef45d 27.5px,#e1ec1b 29.5px,#ffcc00 31.5px,#ff8f00 34.5px,#ff6a00 37.5px,#ff5c00 40.5px,#ff6300 43.5px,#ff8000 46.5px,#ffb600 49.5px,#ffcc00 50.5px,#e1ec1b 52.5px,#9ef45d 54.5px,#39f0c1 56.5px,#02e3f8 58.5px,#04b4f8 61.5px,#1895f6 64.5px,#2a95f6 66.5px,#92cafa 73.5px,#b9ddfb 77.5px,#cfe7fc 81.5px)"></i>
<i style="left:82px;top:192px;height:82px;background:linear-gradient(#daecfc 0.5px,#b0d9fb 8.5px,#6cb8f8 14.5px,#2894f6 19.5px,#1993f6 21.5px,#00bdf8 26.5px,#00ddfa 29.5px,#15e8e5 31.5px,#40f1ba 34.5px,#6ef38c 37.5px,#7ff47b 40.5px,#77f383 43.5px,#52f2a8 46.5px,#2eefcc 48.5px,#07e4f3 51.5px,#00d3f9 53.5px,#04b3f8 56.5px,#1993f6 60.5px,#3399f6 63.5px,#92cafa 70.5px,#b7dcfb 74.5px,#daecfc 81.5px)"></i>
<i style="left:83px;top:192px;height:82px;background:linear-gradient(#e7f1fc 0.5px,#c3e1fb 10.5px,#9acefa 16.5px,#3098f6 28.5px,#1a92f6 36.5px,#1c90f6 47.5px,#3098f6 53.5px,#b2dafb 68.5px,#dfeefc 78.5px,#e7f1fc 81.5px)"></i>
<i style="left:84px;top:192px;height:82px;background:linear-gradient(#eef6fd 0.5px,#d3e9fc 12.5px,#82c2f9 33.5px,#7bbff9 43.5px,#8ec8fa 52.5px,#daebfc 71.5px,#eef6fd 81.5px)"></i>
<i style="left:85px;top:192px;height:82px;background:linear-gradient(#f2f8fe 0.5px,#d7eafc 15.5px,#a6d4fa 36.5px,#a8d5fb 47.5px,#ecf4fd 76.5px,#f2f8fe 81.5px)"></i>
<i style="left:86px;top:192px;height:82px;background:linear-gradient(#f3f8fe 0.5px,#d7eafc 16.5px,#abd6fb 36.5px,#add8fb 47.5px,#edf5fd 76.5px,#f3f8fe 81.5px)"></i>
<i style="left:87px;top:192px;height:82px;background:linear-gradient(#f1f7fd 0.5px,#d8ebfc 13.5px,#96ccfa 34.5px,#93cbfa 45.5px,#b1d9fb 56.5px,#e8f2fc 75.5px,#f1f7fd 81.5px)"></i>
<i style="left:88px;top:192px;height:82px;background:linear-gradient(#ecf4fd 0.5px,#d1e8fc 10.5px,#a2d2fa 19.5px,#58adf7 30.5px,#3fa0f7 37.5px,#41a1f7 45.5px,#63b3f8 53.5px,#bbdefb 66.5px,#e5f0fc 77.5px,#ecf4fd 81.5px)"></i>
<i style="left:89px;top:192px;height:82px;background:linear-gradient(#e5f1fc 0.5px,#c1e1fb 9.5px,#9acefa 14.5px,#2894f6 24.5px,#1c90f6 26.5px,#01baf8 35.5px,#00c5f8 41.5px,#05b2f8 48.5px,#1c90f6 55.5px,#3198f6 58.5px,#a4d3fa 68.5px,#cbe5fc 74.5px,#e5f1fc 81.5px)"></i>
<i style="left:90px;top:192px;height:82px;background:linear-gradient(#deeefc 0.5px,#b7dcfb 8.5px,#83c3f9 13.5px,#2c96f6 19.5px,#1b91f6 21.5px,#00bcf8 26.5px,#00dffa 29.5px,#2beecf 32.5px,#81f479 36.5px,#9af560 38.5px,#a2f458 41.5px,#90f56a 44.5px,#59f2a1 47.5px,#2beecf 49.5px,#00dffa 52.5px,#05b2f8 56.5px,#1b91f6 60.5px,#2c96f6 62.5px,#90c9fa 69.5px,#b7dcfb 73.5px,#deeefc 81.5px)"></i>
<i style="left:91px;top:192px;height:82px;background:linear-gradient(#deedfc 0.5px,#b6dcfb 8.5px,#81c2f9 13.5px,#2a95f6 19.5px,#1a93f6 21.5px,#03b6f8 25.5px,#00dafa 28.5px,#06e4f4 29.5px,#3df1bd 32.5px,#8af470 35.5px,#a7f453 37.5px,#b8f343 40.5px,#b0f34b 43.5px,#9cf55f 45.5px,#74f386 47.5px,#3df1bd 49.5px,#06e4f4 52.5px,#00cef9 54.5px,#0da1f7 58.5px,#1a93f6 60.5px,#389cf6 63.5px,#8ec8fa 69.5px,#b6dcfb 73.5px,#deedfc 81.5px)"></i>
<i style="left:92px;top:192px;height:82px;background:linear-gradient(#e5f0fc 0.5px,#bfe0fb 9.5px,#95ccfa 14.5px,#2994f6 23.5px,#1b91f6 25.5px,#00c0f8 33.5px,#00d6f9 39.5px,#00cff9 45.5px,#07aef7 51.5px,#1b91f6 56.5px,#3299f6 59.5px,#a0d1fa 68.5px,#c5e2fb 73.5px,#e5f0fc 81.5px)"></i>
<i style="left:93px;top:192px;height:82px;background:linear-gradient(#ecf4fd 0.5px,#d1e8fc 10.5px,#a7d5fb 18.5px,#4fa8f7 30.5px,#3399f6 37.5px,#359af6 45.5px,#55abf7 52.5px,#badefb 66.5px,#e5f1fc 77.5px,#ecf4fd 81.5px)"></i>
<i style="left:94px;top:192px;height:82px;background:linear-gradient(#f2f8fe 0.5px,#d9ebfc 14.5px,#9dd0fa 35.5px,#9dd0fa 46.5px,#eaf4fd 75.5px,#f2f8fe 81.5px)"></i>
<i style="left:95px;top:192px;height:82px;background:linear-gradient(#f5fafe 0.5px,#d8ebfc 20.5px,#bfe0fb 37.5px,#c7e3fb 52.5px,#f1f7fd 76.5px,#f5fafe 81.5px)"></i>
<i style="left:96px;top:192px;height:82px;background:linear-gradient(#f6fafe 0.5px,#d7eafc 23.5px,#c4e2fb 39.5px,#d2e8fc 55.5px,#f4f9fe 78.5px,#f6fafe 81.5px)"></i>
<i style="left:97px;top:192px;height:82px;background:linear-gradient(#f5fafe 0.5px,#daebfc 19.5px,#bcdffb 36.5px,#c2e1fb 50.5px,#eff6fd 75.5px,#f5fafe 81.5px)"></i>
<i style="left:98px;top:192px;height:82px;background:linear-gradient(#f2f8fe 0.5px,#dcecfc 13.5px,#90c9fa 35.5px,#8fc9fa 45.5px,#aed8fb 55.5px,#e6f1fc 72.5px,#f2f8fe 81.5px)"></i>
<i style="left:99px;top:192px;height:82px;background:linear-gradient(#eef6fd 0.5px,#d6eafc 10.5px,#add8fb 18.5px,#46a4f7 31.5px,#2c96f6 37.5px,#2e97f6 45.5px,#54abf7 52.5px,#baddfb 65.5px,#e3f0fc 75.5px,#eef6fd 81.5px)"></i>
<i style="left:100px;top:192px;height:82px;background:linear-gradient(#ebf4fd 0.5px,#d3e9fc 8.5px,#a8d5fb 15.5px,#2c96f6 26.5px,#1b91f6 29.5px,#06b1f8 38.5px,#07aff8 44.5px,#1b91f6 52.5px,#379bf6 56.5px,#a8d5fb 66.5px,#d3e9fc 73.5px,#ebf4fd 81.5px)"></i>
<i style="left:101px;top:192px;height:82px;background:linear-gradient(#eaf3fd 0.5px,#d1e8fc 8.5px,#add8fb 14.5px,#52aaf7 22.5px,#2c96f6 25.5px,#1a92f6 28.5px,#01baf8 37.5px,#00bcf8 43.5px,#1697f6 52.5px,#2693f6 55.5px,#399cf6 57.5px,#a4d3fa 66.5px,#cde6fc 72.5px,#e8f2fc 80.5px,#eaf3fd 81.5px)"></i>
<i style="left:102px;top:192px;height:82px;background:linear-gradient(#edf5fd 0.5px,#d7eafc 9.5px,#aad6fb 17.5px,#3098f6 30.5px,#1a92f6 37.5px,#1e91f6 46.5px,#3098f6 51.5px,#b2dafb 65.5px,#deedfc 74.5px,#edf5fd 81.5px)"></i>
<i style="left:103px;top:192px;height:82px;background:linear-gradient(#f2f8fe 0.5px,#d9ebfc 13.5px,#a1d2fa 26.5px,#7cc0f9 35.5px,#79bef9 44.5px,#92cafa 52.5px,#d3e8fc 66.5px,#edf5fd 77.5px,#f2f8fe 81.5px)"></i>
<i style="left:104px;top:192px;height:82px;background:linear-gradient(#f6fafe 0.5px,#dcecfc 20.5px,#c2e1fb 36.5px,#c8e4fb 51.5px,#f0f7fd 74.5px,#f6fafe 81.5px)"></i>
<i style="left:105px;top:192px;height:82px;background:linear-gradient(#f9fbfe 0.5px,#d8ebfc 40.5px,#ebf4fd 64.5px,#f9fbfe 81.5px)"></i>
<i style="left:106px;top:192px;height:82px;background:linear-gradient(#fafcfe 0.5px,#deedfc 42.5px,#fafcfe 81.5px)"></i>
<i style="left:107px;top:192px;height:82px;background:linear-gradient(#f9fcfe 0.5px,#dbecfc 41.5px,#f9fcfe 81.5px)"></i>
<i style="left:108px;top:192px;height:82px;background:linear-gradient(#f8fbfe 0.5px,#deedfc 22.5px,#c8e4fb 38.5px,#d3e8fc 53.5px,#f4f9fe 76.5px,#f8fbfe 81.5px)"></i>
<i style="left:109px;top:192px;height:82px;background:linear-gradient(#f6fafe 0.5px,#e0eefc 15.5px,#9bcffa 36.5px,#9bcffa 45.5px,#e9f3fd 70.5px,#f6fafe 81.5px)"></i>
<i style="left:110px;top:192px;height:82px;background:linear-gradient(#f4f9fe 0.5px,#dfeefc 12.5px,#acd7fb 23.5px,#66b5f8 34.5px,#58adf7 41.5px,#6bb7f8 48.5px,#c2e1fb 62.5px,#e7f2fc 72.5px,#f4f9fe 81.5px)"></i>
<i style="left:111px;top:192px;height:82px;background:linear-gradient(#f3f8fe 0.5px,#ddedfc 12.5px,#abd7fb 22.5px,#5caff8 33.5px,#48a4f7 39.5px,#4fa8f7 45.5px,#75bcf9 52.5px,#bddffb 62.5px,#e6f1fc 72.5px,#f3f8fe 81.5px)"></i>
<i style="left:112px;top:192px;height:82px;background:linear-gradient(#f5f9fe 0.5px,#deedfc 14.5px,#a3d3fa 27.5px,#7abff9 36.5px,#76bdf9 43.5px,#92cafa 51.5px,#cfe7fc 63.5px,#ebf4fd 73.5px,#f5f9fe 81.5px)"></i>
<i style="left:113px;top:192px;height:82px;background:linear-gradient(#f8fbfe 0.5px,#e0eefc 19.5px,#bbdefb 36.5px,#bfe0fb 48.5px,#edf5fd 70.5px,#f8fbfe 81.5px)"></i>
<i style="left:114px;top:192px;height:82px;background:linear-gradient(#fafcfe 0.5px,#deeefc 42.5px,#fafcfe 81.5px)"></i>
<i style="left:115px;top:192px;height:82px;background:linear-gradient(#fbfdff 0.5px,#ebf4fd 45.5px,#fbfdff 81.5px)"></i>
<i style="left:116px;top:192px;height:82px;background:linear-gradient(#fcfdff 0.5px,#eff6fd 47.5px,#fcfdff 81.5px)"></i>
<i style="left:117px;top:192px;height:82px;background:linear-gradient(#fcfdff 0.5px,#eef5fd 47.5px,#fcfdff 81.5px)"></i>
<i style="left:118px;top:192px;height:82px;background:linear-gradient(#fbfdff 0.5px,#e7f2fc 44.5px,#fbfdff 81.5px)"></i>
<i style="left:119px;top:192px;height:82px;background:linear-gradient(#fafcfe 0.5px,#e2effc 26.5px,#d3e9fc 41.5px,#fafcfe 79.5px,#fafcfe 81.5px)"></i>
<i style="left:120px;top:192px;height:82px;background:linear-gradient(#fafcfe 0.5px,#e4f0fc 20.5px,#c0e0fb 37.5px,#c5e2fb 48.5px,#eff6fd 68.5px,#fafcfe 81.5px)"></i>
<i style="left:121px;top:192px;height:82px;background:linear-gradient(#fafcfe 0.5px,#e3f0fc 20.5px,#bcdefb 37.5px,#c0e0fb 47.5px,#edf5fd 67.5px,#fafcfe 81.5px)"></i>
<i style="left:122px;top:192px;height:82px;background:linear-gradient(#fafcfe 0.5px,#e5f0fc 23.5px,#cde6fc 39.5px,#d9ebfc 52.5px,#f7fafe 74.5px,#fafcfe 81.5px)"></i>
<i style="left:123px;top:192px;height:82px;background:linear-gradient(#fcfdff 0.5px,#e6f1fc 43.5px,#fcfdff 81.5px)"></i>
<i style="left:124px;top:192px;height:82px;background:linear-gradient(#fdfeff 0.5px,#f2f8fe 50.5px,#fdfeff 81.5px)"></i>
<i style="left:125px;top:192px;height:82px;background:linear-gradient(#fdfeff 0.5px,#f8fbfe 57.5px,#fdfeff 81.5px)"></i>
<i style="left:126px;top:192px;height:82px;background:linear-gradient(#fefeff 0.5px,#fafcfe 60.5px,#fefeff 81.5px)"></i>
<i style="left:127px;top:192px;height:82px;background:linear-gradient(#fefeff 0.5px,#f9fcfe 58.5px,#fefeff 81.5px)"></i>
<i style="left:128px;top:192px;height:82px;background:linear-gradient(#fdfeff 0.5px,#f5fafe 52.5px,#fdfeff 81.5px)"></i>
<i style="left:129px;top:192px;height:82px;background:linear-gradient(#fdfeff 0.5px,#edf5fd 46.5px,#fdfeff 81.5px)"></i>
<i style="left:130px;top:192px;height:82px;background:linear-gradient(#fcfeff 0.5px,#e4f0fc 43.5px,#fcfeff 81.5px)"></i>
<i style="left:131px;top:192px;height:82px;background:linear-gradient(#fcfeff 0.5px,#e3effc 43.5px,#fcfeff 81.5px)"></i>
<i style="left:132px;top:192px;height:82px;background:linear-gradient(#fdfeff 0.5px,#eaf4fd 45.5px,#fdfeff 81.5px)"></i>
<i style="left:133px;top:192px;height:82px;background:linear-gradient(#fdfeff 0.5px,#f5f9fe 51.5px,#fdfeff 81.5px)"></i>
<i style="left:134px;top:192px;height:82px;background:linear-gradient(#fefeff 0.5px,#fcfdff 66.5px,#fefeff 81.5px)"></i>
<i style="left:135px;top:192px;height:82px;background:linear-gradient(#feffff 0.5px,#feffff 81.5px)"></i>
<i style="left:137px;top:192px;height:82px;background:linear-gradient(#feffff 0.5px,#feffff 81.5px)"></i>
<i style="left:138px;top:192px;height:82px;background:linear-gradient(#feffff 0.5px,#feffff 81.5px)"></i>
<i style="left:139px;top:192px;height:82px;background:linear-gradient(#feffff 0.5px,#fafcfe 56.5px,#feffff 81.5px)"></i>
<i style="left:140px;top:192px;height:82px;background:linear-gradient(#fefeff 0.5px,#f5fafe 50.5px,#fefeff 81.5px)"></i>
<i style="left:141px;top:192px;height:82px;background:linear-gradient(#fefeff 0.5px,#f4f9fe 49.5px,#fefeff 81.5px)"></i>
<i style="left:142px;top:192px;height:82px;background:linear-gradient(#feffff 0.5px,#f8fbfe 53.5px,#feffff 81.5px)"></i>
<i style="left:143px;top:192px;height:82px;background:linear-gradient(#feffff 0.5px,#fefeff 73.5px,#feffff 81.5px)"></i>
<svg width="637" height="325" viewBox="0 0 637 325">
<defs>
<clipPath id="cne"><rect x="260" y="23.4" width="239" height="84"/></clipPath>
<clipPath id="car"><rect x="260" y="107" width="239" height="84"/></clipPath>
<clipPath id="ckr"><rect x="260" y="191" width="239" height="84"/></clipPath>
<clipPath id="cc1"><rect x="534" y="23" width="81" height="83"/></clipPath>
<clipPath id="cc2"><rect x="534" y="106" width="81" height="84"/></clipPath>
<clipPath id="cc3"><rect x="534" y="190" width="81" height="84"/></clipPath>
<linearGradient id="arbg" gradientUnits="userSpaceOnUse" x1="556" y1="117" x2="594" y2="177">
<stop offset="0" stop-color="#f0f0f8"/><stop offset="0.25" stop-color="#dcdcee"/><stop offset="0.5" stop-color="#b4b4da"/><stop offset="0.75" stop-color="#d8d8ec"/><stop offset="1" stop-color="#f0f0f8"/>
</linearGradient>
<radialGradient id="bne" fx="0.537" fy="0.484"><stop offset="0.000" stop-color="#dc0000"/><stop offset="0.019" stop-color="#df0000"/><stop offset="0.038" stop-color="#e30000"/><stop offset="0.058" stop-color="#e60000"/><stop offset="0.077" stop-color="#e90100"/><stop offset="0.096" stop-color="#ec0400"/><stop offset="0.115" stop-color="#f00600"/><stop offset="0.135" stop-color="#f30900"/><stop offset="0.154" stop-color="#ff1400"/><stop offset="0.173" stop-color="#ff2200"/><stop offset="0.192" stop-color="#ff3000"/><stop offset="0.212" stop-color="#ff3e00"/><stop offset="0.231" stop-color="#ff4c00"/><stop offset="0.250" stop-color="#ff7200"/><stop offset="0.269" stop-color="#ff9800"/><stop offset="0.288" stop-color="#ffbf00"/><stop offset="0.308" stop-color="#fbf000"/><stop offset="0.327" stop-color="#ceff29"/><stop offset="0.346" stop-color="#a0ff57"/><stop offset="0.365" stop-color="#75ff82"/><stop offset="0.385" stop-color="#55ffa2"/><stop offset="0.404" stop-color="#35ffc2"/><stop offset="0.423" stop-color="#15ffe2"/><stop offset="0.442" stop-color="#00d5ff"/><stop offset="0.462" stop-color="#00a8ff"/><stop offset="0.481" stop-color="#007cff"/><stop offset="0.500" stop-color="#0058ff"/><stop offset="0.519" stop-color="#0041ff"/><stop offset="0.538" stop-color="#002aff"/><stop offset="0.558" stop-color="#0013ff"/><stop offset="0.577" stop-color="#0001ff"/><stop offset="0.596" stop-color="#0000ff"/><stop offset="0.615" stop-color="#0000fc"/><stop offset="0.635" stop-color="#0000f1"/><stop offset="0.654" stop-color="#0000e6"/><stop offset="0.673" stop-color="#0000dc"/><stop offset="0.692" stop-color="#0000d1"/><stop offset="0.712" stop-color="#0000c2"/><stop offset="0.731" stop-color="#0000b4"/><stop offset="0.750" stop-color="#0000a5"/><stop offset="0.769" stop-color="#000097"/><stop offset="0.808" stop-color="#3232a0"/><stop offset="0.877" stop-color="#6e6ebe" stop-opacity="0.75"/><stop offset="1.000" stop-color="#a0a0d7" stop-opacity="0.00"/></radialGradient><radialGradient id="bar" fx="0.510" fy="0.490"><stop offset="0.000" stop-color="#dc0000"/><stop offset="0.019" stop-color="#e00000"/><stop offset="0.037" stop-color="#e40000"/><stop offset="0.056" stop-color="#e80000"/><stop offset="0.074" stop-color="#ec0300"/><stop offset="0.093" stop-color="#f00600"/><stop offset="0.111" stop-color="#f30900"/><stop offset="0.130" stop-color="#ff1800"/><stop offset="0.148" stop-color="#ff2700"/><stop offset="0.167" stop-color="#ff3700"/><stop offset="0.185" stop-color="#ff4600"/><stop offset="0.204" stop-color="#ff6100"/><stop offset="0.222" stop-color="#ff8400"/><stop offset="0.241" stop-color="#ffa800"/><stop offset="0.259" stop-color="#ffcb00"/><stop offset="0.278" stop-color="#f9f300"/><stop offset="0.296" stop-color="#d4ff23"/><stop offset="0.315" stop-color="#afff48"/><stop offset="0.333" stop-color="#8aff6d"/><stop offset="0.352" stop-color="#6aff8d"/><stop offset="0.370" stop-color="#4dffa9"/><stop offset="0.389" stop-color="#31ffc6"/><stop offset="0.407" stop-color="#14fee3"/><stop offset="0.426" stop-color="#00d5ff"/><stop offset="0.444" stop-color="#00a8ff"/><stop offset="0.463" stop-color="#007cff"/><stop offset="0.481" stop-color="#0058ff"/><stop offset="0.500" stop-color="#0041ff"/><stop offset="0.519" stop-color="#002aff"/><stop offset="0.537" stop-color="#0013ff"/><stop offset="0.556" stop-color="#0001ff"/><stop offset="0.574" stop-color="#0000ff"/><stop offset="0.593" stop-color="#0000fc"/><stop offset="0.611" stop-color="#0000f1"/><stop offset="0.630" stop-color="#0000e6"/><stop offset="0.648" stop-color="#0000dc"/><stop offset="0.667" stop-color="#0000d1"/><stop offset="0.685" stop-color="#0000c2"/><stop offset="0.704" stop-color="#0000b4"/><stop offset="0.722" stop-color="#0000a5"/><stop offset="0.741" stop-color="#000097"/><stop offset="0.785" stop-color="#282896"/><stop offset="0.874" stop-color="#4646a5" stop-opacity="0.60"/><stop offset="1.000" stop-color="#6464b4" stop-opacity="0.00"/></radialGradient><radialGradient id="bkr" fx="0.500" fy="0.450"><stop offset="0.000" stop-color="#dc0000"/><stop offset="0.014" stop-color="#e10000"/><stop offset="0.028" stop-color="#e60000"/><stop offset="0.042" stop-color="#eb0200"/><stop offset="0.056" stop-color="#f00600"/><stop offset="0.069" stop-color="#f70c00"/><stop offset="0.083" stop-color="#ff1a00"/><stop offset="0.097" stop-color="#ff2900"/><stop offset="0.111" stop-color="#ff3700"/><stop offset="0.125" stop-color="#ff4a00"/><stop offset="0.139" stop-color="#ff7400"/><stop offset="0.153" stop-color="#ff9d00"/><stop offset="0.167" stop-color="#ffc600"/><stop offset="0.181" stop-color="#f7f600"/><stop offset="0.194" stop-color="#ceff29"/><stop offset="0.208" stop-color="#a5ff52"/><stop offset="0.222" stop-color="#7bff7b"/><stop offset="0.236" stop-color="#5dff9a"/><stop offset="0.250" stop-color="#3effb9"/><stop offset="0.264" stop-color="#1fffd8"/><stop offset="0.278" stop-color="#00e5f7"/><stop offset="0.292" stop-color="#00bcff"/><stop offset="0.306" stop-color="#0093ff"/><stop offset="0.319" stop-color="#0069ff"/><stop offset="0.333" stop-color="#0052ff"/><stop offset="0.347" stop-color="#003eff"/><stop offset="0.361" stop-color="#002bff"/><stop offset="0.375" stop-color="#0018ff"/><stop offset="0.389" stop-color="#0005ff"/><stop offset="0.403" stop-color="#0000ff"/><stop offset="0.417" stop-color="#0000ff"/><stop offset="0.431" stop-color="#0000f9"/><stop offset="0.444" stop-color="#0000f0"/><stop offset="0.458" stop-color="#0000e6"/><stop offset="0.472" stop-color="#0000dc"/><stop offset="0.486" stop-color="#0000d3"/><stop offset="0.500" stop-color="#0000c7"/><stop offset="0.514" stop-color="#0000bb"/><stop offset="0.528" stop-color="#0000af"/><stop offset="0.542" stop-color="#0000a3"/><stop offset="0.556" stop-color="#000097"/><stop offset="0.589" stop-color="#3c3ca5"/><stop offset="0.639" stop-color="#7d7dc6"/><stop offset="0.739" stop-color="#b9b9e0"/><stop offset="0.878" stop-color="#e4e4f3"/><stop offset="1.000" stop-color="#ffffff"/></radialGradient>
<radialGradient id="nehaze"><stop offset="0.6" stop-color="#5a5aac" stop-opacity="0.9"/><stop offset="0.72" stop-color="#8484c2" stop-opacity="0.65"/><stop offset="0.86" stop-color="#b0b0da" stop-opacity="0.35"/><stop offset="1" stop-color="#d8d8ec" stop-opacity="0"/></radialGradient>
<radialGradient id="arhaze"><stop offset="0.5" stop-color="#3c3c96" stop-opacity="0.85"/><stop offset="0.7" stop-color="#6a6ab4" stop-opacity="0.5"/><stop offset="0.85" stop-color="#8c8cc4" stop-opacity="0.25"/><stop offset="1" stop-color="#a0a0d0" stop-opacity="0"/></radialGradient>
<marker id="ah" viewBox="0 0 9 7" refX="9" refY="3.5" markerWidth="9" markerHeight="7" orient="auto" markerUnits="userSpaceOnUse">
<path d="M0 0 L9 3.5 L0 7 L1.8 3.5 z" fill="#000"/></marker>
<marker id="ah2" viewBox="0 0 10 10" refX="10" refY="5" markerWidth="9" markerHeight="9" orient="auto-start-reverse" markerUnits="userSpaceOnUse">
<path d="M0 0.5 L10 5 L0 9.5 L2.5 5 z" fill="#000"/></marker>
</defs>
<g stroke="#b4b4b4" stroke-width="1.3" fill="none"><line x1="22" y1="38.5" x2="259" y2="38.5"/><line x1="22" y1="92.0" x2="259" y2="92.0"/><line x1="22" y1="129.0" x2="259" y2="129.0"/><line x1="22" y1="165.0" x2="259" y2="165.0"/><line x1="22" y1="213.5" x2="259" y2="213.5"/><line x1="22" y1="244.5" x2="259" y2="244.5"/></g>
<!-- panel c images -->
<g clip-path="url(#cc2)"><rect x="534" y="106" width="81" height="84" fill="url(#arbg)"/>
<g stroke-linecap="round"><line x1="563.5" y1="160.7" x2="578.0" y2="145.8" stroke="#6a6ab4" stroke-opacity="0.21" stroke-width="0.9"/><line x1="570.7" y1="167.1" x2="581.5" y2="151.8" stroke="#6a6ab4" stroke-opacity="0.12" stroke-width="1.4"/><line x1="583.4" y1="113.7" x2="601.4" y2="101.6" stroke="#6a6ab4" stroke-opacity="0.21" stroke-width="0.8"/><line x1="529.2" y1="153.3" x2="533.5" y2="147.7" stroke="#ffffff" stroke-opacity="0.31" stroke-width="1.1"/><line x1="564.3" y1="182.9" x2="575.0" y2="173.4" stroke="#6a6ab4" stroke-opacity="0.22" stroke-width="1.1"/><line x1="546.3" y1="198.4" x2="563.8" y2="185.2" stroke="#6a6ab4" stroke-opacity="0.16" stroke-width="0.9"/><line x1="549.8" y1="116.9" x2="562.2" y2="103.5" stroke="#6a6ab4" stroke-opacity="0.17" stroke-width="1.6"/><line x1="602.4" y1="106.7" x2="610.1" y2="101.4" stroke="#6a6ab4" stroke-opacity="0.28" stroke-width="1.1"/><line x1="530.7" y1="166.5" x2="542.4" y2="152.3" stroke="#ffffff" stroke-opacity="0.40" stroke-width="1.6"/><line x1="595.3" y1="118.4" x2="601.1" y2="110.3" stroke="#ffffff" stroke-opacity="0.54" stroke-width="0.9"/><line x1="576.8" y1="146.2" x2="583.8" y2="140.5" stroke="#ffffff" stroke-opacity="0.49" stroke-width="0.8"/><line x1="563.6" y1="125.6" x2="572.2" y2="119.9" stroke="#6a6ab4" stroke-opacity="0.15" stroke-width="1.5"/><line x1="541.6" y1="145.2" x2="556.3" y2="132.2" stroke="#ffffff" stroke-opacity="0.60" stroke-width="0.9"/><line x1="549.6" y1="176.3" x2="556.9" y2="167.7" stroke="#ffffff" stroke-opacity="0.33" stroke-width="1.2"/><line x1="547.7" y1="161.2" x2="556.0" y2="152.6" stroke="#6a6ab4" stroke-opacity="0.19" stroke-width="1.2"/><line x1="604.5" y1="122.5" x2="611.4" y2="117.6" stroke="#6a6ab4" stroke-opacity="0.14" stroke-width="0.9"/><line x1="592.8" y1="189.3" x2="600.3" y2="184.2" stroke="#6a6ab4" stroke-opacity="0.21" stroke-width="1.1"/><line x1="532.7" y1="115.8" x2="546.0" y2="99.1" stroke="#6a6ab4" stroke-opacity="0.15" stroke-width="1.4"/><line x1="580.3" y1="132.6" x2="587.1" y2="127.0" stroke="#ffffff" stroke-opacity="0.37" stroke-width="1.2"/><line x1="602.4" y1="161.1" x2="611.0" y2="155.1" stroke="#ffffff" stroke-opacity="0.30" stroke-width="0.9"/><line x1="567.2" y1="112.6" x2="573.1" y2="106.0" stroke="#6a6ab4" stroke-opacity="0.12" stroke-width="1.0"/><line x1="603.9" y1="195.6" x2="616.5" y2="184.9" stroke="#6a6ab4" stroke-opacity="0.13" stroke-width="0.7"/><line x1="524.5" y1="188.9" x2="538.8" y2="179.3" stroke="#ffffff" stroke-opacity="0.49" stroke-width="1.1"/><line x1="589.5" y1="141.1" x2="602.0" y2="123.0" stroke="#6a6ab4" stroke-opacity="0.23" stroke-width="1.5"/><line x1="588.7" y1="171.3" x2="604.0" y2="160.6" stroke="#6a6ab4" stroke-opacity="0.22" stroke-width="1.5"/><line x1="600.9" y1="146.2" x2="615.9" y2="135.2" stroke="#6a6ab4" stroke-opacity="0.21" stroke-width="1.0"/><line x1="579.7" y1="160.0" x2="585.2" y2="155.2" stroke="#6a6ab4" stroke-opacity="0.26" stroke-width="1.4"/><line x1="559.7" y1="174.2" x2="570.2" y2="163.1" stroke="#6a6ab4" stroke-opacity="0.12" stroke-width="1.4"/><line x1="528.4" y1="162.3" x2="536.9" y2="151.6" stroke="#6a6ab4" stroke-opacity="0.19" stroke-width="1.3"/><line x1="610.8" y1="128.9" x2="614.8" y2="124.2" stroke="#6a6ab4" stroke-opacity="0.14" stroke-width="0.9"/><line x1="606.2" y1="165.9" x2="616.8" y2="158.3" stroke="#6a6ab4" stroke-opacity="0.22" stroke-width="0.9"/><line x1="560.4" y1="181.0" x2="577.1" y2="168.9" stroke="#6a6ab4" stroke-opacity="0.20" stroke-width="1.0"/><line x1="534.5" y1="153.5" x2="550.0" y2="141.9" stroke="#6a6ab4" stroke-opacity="0.27" stroke-width="0.9"/><line x1="542.0" y1="147.7" x2="548.4" y2="139.6" stroke="#6a6ab4" stroke-opacity="0.21" stroke-width="1.1"/><line x1="550.9" y1="185.7" x2="565.9" y2="170.0" stroke="#ffffff" stroke-opacity="0.31" stroke-width="1.5"/><line x1="528.8" y1="172.1" x2="538.6" y2="160.6" stroke="#6a6ab4" stroke-opacity="0.10" stroke-width="0.8"/><line x1="564.9" y1="113.7" x2="577.0" y2="98.7" stroke="#ffffff" stroke-opacity="0.31" stroke-width="1.3"/><line x1="563.7" y1="164.5" x2="576.7" y2="154.4" stroke="#6a6ab4" stroke-opacity="0.22" stroke-width="0.9"/><line x1="570.6" y1="121.9" x2="574.9" y2="117.5" stroke="#6a6ab4" stroke-opacity="0.13" stroke-width="0.9"/><line x1="555.8" y1="170.2" x2="566.4" y2="160.5" stroke="#6a6ab4" stroke-opacity="0.17" stroke-width="1.4"/><line x1="603.5" y1="118.4" x2="619.6" y2="105.0" stroke="#ffffff" stroke-opacity="0.44" stroke-width="1.3"/><line x1="605.8" y1="141.6" x2="618.0" y2="132.7" stroke="#6a6ab4" stroke-opacity="0.27" stroke-width="1.1"/><line x1="581.6" y1="127.4" x2="595.6" y2="116.7" stroke="#6a6ab4" stroke-opacity="0.23" stroke-width="0.9"/><line x1="603.2" y1="197.8" x2="618.8" y2="182.8" stroke="#6a6ab4" stroke-opacity="0.16" stroke-width="1.5"/><line x1="604.5" y1="137.3" x2="609.5" y2="132.0" stroke="#6a6ab4" stroke-opacity="0.24" stroke-width="1.1"/><line x1="529.8" y1="177.4" x2="535.3" y2="173.1" stroke="#ffffff" stroke-opacity="0.40" stroke-width="1.4"/><line x1="537.2" y1="121.6" x2="548.1" y2="112.5" stroke="#6a6ab4" stroke-opacity="0.22" stroke-width="1.6"/><line x1="572.0" y1="190.4" x2="576.6" y2="184.6" stroke="#6a6ab4" stroke-opacity="0.15" stroke-width="1.4"/><line x1="580.4" y1="156.7" x2="594.6" y2="143.3" stroke="#6a6ab4" stroke-opacity="0.17" stroke-width="1.5"/><line x1="602.9" y1="127.8" x2="619.2" y2="116.9" stroke="#6a6ab4" stroke-opacity="0.20" stroke-width="0.9"/><line x1="573.9" y1="154.8" x2="582.6" y2="141.8" stroke="#6a6ab4" stroke-opacity="0.19" stroke-width="1.1"/><line x1="596.8" y1="158.0" x2="607.4" y2="149.0" stroke="#ffffff" stroke-opacity="0.46" stroke-width="1.1"/><line x1="612.5" y1="188.9" x2="619.7" y2="181.6" stroke="#ffffff" stroke-opacity="0.43" stroke-width="1.4"/><line x1="607.7" y1="150.3" x2="614.4" y2="141.5" stroke="#6a6ab4" stroke-opacity="0.27" stroke-width="0.8"/><line x1="597.3" y1="109.6" x2="603.0" y2="102.4" stroke="#6a6ab4" stroke-opacity="0.16" stroke-width="1.0"/><line x1="580.6" y1="120.4" x2="591.0" y2="106.1" stroke="#6a6ab4" stroke-opacity="0.15" stroke-width="0.9"/><line x1="573.6" y1="146.8" x2="581.8" y2="138.0" stroke="#6a6ab4" stroke-opacity="0.13" stroke-width="0.9"/><line x1="581.0" y1="164.5" x2="592.6" y2="155.9" stroke="#6a6ab4" stroke-opacity="0.25" stroke-width="0.9"/><line x1="590.0" y1="183.1" x2="603.3" y2="167.6" stroke="#6a6ab4" stroke-opacity="0.27" stroke-width="0.9"/><line x1="617.3" y1="185.3" x2="622.4" y2="178.9" stroke="#6a6ab4" stroke-opacity="0.15" stroke-width="0.8"/><line x1="599.4" y1="148.6" x2="610.4" y2="133.6" stroke="#6a6ab4" stroke-opacity="0.22" stroke-width="0.7"/><line x1="539.5" y1="169.8" x2="556.6" y2="158.3" stroke="#ffffff" stroke-opacity="0.45" stroke-width="1.4"/><line x1="572.7" y1="168.0" x2="577.8" y2="160.6" stroke="#ffffff" stroke-opacity="0.31" stroke-width="1.2"/><line x1="573.8" y1="157.4" x2="578.9" y2="150.7" stroke="#ffffff" stroke-opacity="0.55" stroke-width="1.6"/><line x1="610.5" y1="114.3" x2="616.3" y2="110.4" stroke="#6a6ab4" stroke-opacity="0.24" stroke-width="1.0"/><line x1="567.3" y1="153.7" x2="576.8" y2="145.0" stroke="#ffffff" stroke-opacity="0.51" stroke-width="1.5"/><line x1="540.3" y1="150.5" x2="552.4" y2="137.4" stroke="#ffffff" stroke-opacity="0.35" stroke-width="1.2"/><line x1="524.2" y1="188.7" x2="538.6" y2="176.5" stroke="#6a6ab4" stroke-opacity="0.21" stroke-width="1.1"/><line x1="575.4" y1="155.0" x2="592.6" y2="141.7" stroke="#ffffff" stroke-opacity="0.57" stroke-width="1.4"/><line x1="594.9" y1="179.3" x2="605.1" y2="172.1" stroke="#6a6ab4" stroke-opacity="0.23" stroke-width="1.4"/><line x1="593.9" y1="146.9" x2="603.9" y2="132.5" stroke="#6a6ab4" stroke-opacity="0.18" stroke-width="0.7"/><line x1="557.0" y1="166.5" x2="567.0" y2="154.0" stroke="#6a6ab4" stroke-opacity="0.22" stroke-width="1.0"/><line x1="584.5" y1="159.5" x2="594.3" y2="148.8" stroke="#6a6ab4" stroke-opacity="0.22" stroke-width="1.3"/><line x1="596.2" y1="192.4" x2="600.9" y2="188.1" stroke="#6a6ab4" stroke-opacity="0.15" stroke-width="1.1"/><line x1="531.1" y1="126.1" x2="538.0" y2="116.3" stroke="#ffffff" stroke-opacity="0.57" stroke-width="1.2"/><line x1="569.4" y1="193.2" x2="582.0" y2="185.0" stroke="#6a6ab4" stroke-opacity="0.25" stroke-width="0.8"/><line x1="581.0" y1="172.7" x2="586.5" y2="168.9" stroke="#ffffff" stroke-opacity="0.44" stroke-width="0.9"/><line x1="571.7" y1="159.7" x2="577.5" y2="155.8" stroke="#6a6ab4" stroke-opacity="0.19" stroke-width="1.2"/><line x1="556.9" y1="134.8" x2="568.9" y2="123.5" stroke="#ffffff" stroke-opacity="0.51" stroke-width="1.0"/><line x1="529.3" y1="128.2" x2="533.3" y2="122.9" stroke="#6a6ab4" stroke-opacity="0.17" stroke-width="1.5"/><line x1="588.3" y1="114.6" x2="606.4" y2="102.3" stroke="#ffffff" stroke-opacity="0.57" stroke-width="1.1"/><line x1="569.5" y1="193.1" x2="576.5" y2="186.2" stroke="#6a6ab4" stroke-opacity="0.23" stroke-width="1.1"/><line x1="613.5" y1="182.2" x2="622.7" y2="169.5" stroke="#6a6ab4" stroke-opacity="0.18" stroke-width="0.9"/><line x1="531.9" y1="153.4" x2="537.4" y2="147.6" stroke="#6a6ab4" stroke-opacity="0.18" stroke-width="0.9"/><line x1="575.8" y1="147.4" x2="589.0" y2="134.5" stroke="#6a6ab4" stroke-opacity="0.27" stroke-width="1.4"/><line x1="543.5" y1="120.3" x2="559.4" y2="107.8" stroke="#6a6ab4" stroke-opacity="0.16" stroke-width="0.9"/><line x1="585.9" y1="158.9" x2="597.4" y2="148.6" stroke="#6a6ab4" stroke-opacity="0.13" stroke-width="0.9"/><line x1="612.6" y1="192.9" x2="623.8" y2="176.3" stroke="#ffffff" stroke-opacity="0.38" stroke-width="1.1"/><line x1="581.9" y1="119.0" x2="590.3" y2="107.0" stroke="#ffffff" stroke-opacity="0.50" stroke-width="1.2"/><line x1="582.6" y1="142.2" x2="591.0" y2="131.5" stroke="#6a6ab4" stroke-opacity="0.23" stroke-width="1.5"/><line x1="529.7" y1="120.9" x2="543.7" y2="108.2" stroke="#6a6ab4" stroke-opacity="0.14" stroke-width="1.1"/><line x1="548.8" y1="179.2" x2="557.7" y2="171.3" stroke="#6a6ab4" stroke-opacity="0.16" stroke-width="1.2"/><line x1="592.9" y1="189.8" x2="601.4" y2="180.3" stroke="#ffffff" stroke-opacity="0.56" stroke-width="0.8"/><line x1="532.2" y1="158.1" x2="542.7" y2="149.2" stroke="#ffffff" stroke-opacity="0.53" stroke-width="0.8"/><line x1="546.8" y1="165.1" x2="551.6" y2="159.5" stroke="#6a6ab4" stroke-opacity="0.22" stroke-width="1.0"/><line x1="537.0" y1="142.1" x2="548.7" y2="128.9" stroke="#ffffff" stroke-opacity="0.51" stroke-width="1.2"/><line x1="605.6" y1="194.2" x2="619.8" y2="179.2" stroke="#6a6ab4" stroke-opacity="0.15" stroke-width="1.0"/><line x1="559.6" y1="194.1" x2="572.4" y2="178.4" stroke="#6a6ab4" stroke-opacity="0.17" stroke-width="1.0"/><line x1="562.3" y1="141.2" x2="568.9" y2="135.0" stroke="#6a6ab4" stroke-opacity="0.20" stroke-width="1.5"/><line x1="573.3" y1="124.9" x2="588.0" y2="114.2" stroke="#ffffff" stroke-opacity="0.31" stroke-width="1.2"/><line x1="570.9" y1="161.0" x2="587.0" y2="146.8" stroke="#6a6ab4" stroke-opacity="0.11" stroke-width="1.2"/><line x1="598.1" y1="113.7" x2="603.8" y2="109.1" stroke="#6a6ab4" stroke-opacity="0.12" stroke-width="1.3"/><line x1="537.8" y1="176.0" x2="548.1" y2="163.3" stroke="#ffffff" stroke-opacity="0.53" stroke-width="1.2"/><line x1="594.1" y1="141.9" x2="603.6" y2="135.5" stroke="#6a6ab4" stroke-opacity="0.19" stroke-width="1.2"/><line x1="587.9" y1="173.9" x2="601.9" y2="158.8" stroke="#6a6ab4" stroke-opacity="0.22" stroke-width="1.5"/><line x1="594.2" y1="183.0" x2="610.9" y2="171.7" stroke="#6a6ab4" stroke-opacity="0.19" stroke-width="1.3"/><line x1="598.4" y1="146.2" x2="606.0" y2="136.0" stroke="#6a6ab4" stroke-opacity="0.28" stroke-width="1.0"/><line x1="541.0" y1="126.9" x2="549.2" y2="117.1" stroke="#6a6ab4" stroke-opacity="0.11" stroke-width="1.0"/><line x1="534.8" y1="168.3" x2="545.9" y2="153.7" stroke="#ffffff" stroke-opacity="0.44" stroke-width="1.2"/><line x1="609.5" y1="110.3" x2="614.2" y2="104.1" stroke="#ffffff" stroke-opacity="0.37" stroke-width="1.3"/><line x1="580.7" y1="127.2" x2="586.4" y2="120.3" stroke="#ffffff" stroke-opacity="0.53" stroke-width="1.0"/><line x1="575.0" y1="181.2" x2="583.7" y2="170.6" stroke="#6a6ab4" stroke-opacity="0.26" stroke-width="1.0"/><line x1="575.0" y1="193.6" x2="583.5" y2="182.8" stroke="#ffffff" stroke-opacity="0.58" stroke-width="1.4"/><line x1="560.1" y1="155.9" x2="569.2" y2="144.9" stroke="#6a6ab4" stroke-opacity="0.22" stroke-width="0.9"/><line x1="526.3" y1="149.3" x2="535.7" y2="141.9" stroke="#6a6ab4" stroke-opacity="0.21" stroke-width="0.8"/><line x1="540.0" y1="135.3" x2="548.2" y2="129.3" stroke="#6a6ab4" stroke-opacity="0.21" stroke-width="1.6"/><line x1="550.7" y1="153.7" x2="557.3" y2="148.4" stroke="#ffffff" stroke-opacity="0.55" stroke-width="1.5"/><line x1="600.0" y1="114.6" x2="608.0" y2="108.0" stroke="#ffffff" stroke-opacity="0.44" stroke-width="1.1"/><line x1="609.6" y1="163.1" x2="622.4" y2="148.1" stroke="#6a6ab4" stroke-opacity="0.18" stroke-width="1.5"/><line x1="534.8" y1="180.0" x2="541.5" y2="173.5" stroke="#6a6ab4" stroke-opacity="0.13" stroke-width="1.4"/><line x1="555.7" y1="134.1" x2="560.4" y2="128.6" stroke="#6a6ab4" stroke-opacity="0.23" stroke-width="1.0"/><line x1="587.6" y1="117.7" x2="596.1" y2="108.9" stroke="#6a6ab4" stroke-opacity="0.25" stroke-width="1.3"/><line x1="525.7" y1="144.0" x2="536.5" y2="130.4" stroke="#6a6ab4" stroke-opacity="0.18" stroke-width="0.7"/><line x1="615.8" y1="177.5" x2="622.7" y2="171.2" stroke="#ffffff" stroke-opacity="0.41" stroke-width="1.2"/><line x1="552.2" y1="137.7" x2="561.5" y2="129.7" stroke="#ffffff" stroke-opacity="0.36" stroke-width="1.4"/><line x1="553.9" y1="191.9" x2="565.4" y2="182.4" stroke="#6a6ab4" stroke-opacity="0.25" stroke-width="0.8"/><line x1="536.2" y1="117.7" x2="549.1" y2="106.9" stroke="#ffffff" stroke-opacity="0.42" stroke-width="1.5"/><line x1="580.5" y1="115.8" x2="586.2" y2="108.1" stroke="#ffffff" stroke-opacity="0.42" stroke-width="0.8"/><line x1="607.5" y1="146.3" x2="618.2" y2="136.9" stroke="#6a6ab4" stroke-opacity="0.25" stroke-width="1.0"/><line x1="557.7" y1="142.6" x2="561.9" y2="138.0" stroke="#6a6ab4" stroke-opacity="0.28" stroke-width="1.4"/><line x1="587.4" y1="159.9" x2="591.5" y2="155.2" stroke="#6a6ab4" stroke-opacity="0.22" stroke-width="0.8"/><line x1="556.6" y1="154.5" x2="571.4" y2="143.2" stroke="#6a6ab4" stroke-opacity="0.13" stroke-width="1.4"/><line x1="607.2" y1="156.4" x2="615.4" y2="148.1" stroke="#ffffff" stroke-opacity="0.51" stroke-width="1.6"/><line x1="570.5" y1="174.6" x2="582.4" y2="159.3" stroke="#6a6ab4" stroke-opacity="0.21" stroke-width="0.9"/><line x1="531.7" y1="130.4" x2="543.3" y2="120.6" stroke="#6a6ab4" stroke-opacity="0.27" stroke-width="1.0"/><line x1="565.3" y1="123.6" x2="578.1" y2="106.2" stroke="#6a6ab4" stroke-opacity="0.20" stroke-width="1.2"/><line x1="571.8" y1="132.9" x2="589.0" y2="121.6" stroke="#6a6ab4" stroke-opacity="0.21" stroke-width="0.8"/><line x1="597.8" y1="137.3" x2="610.6" y2="121.5" stroke="#6a6ab4" stroke-opacity="0.25" stroke-width="0.9"/><line x1="577.3" y1="113.3" x2="581.3" y2="108.1" stroke="#6a6ab4" stroke-opacity="0.27" stroke-width="1.3"/><line x1="551.7" y1="169.7" x2="563.7" y2="156.5" stroke="#6a6ab4" stroke-opacity="0.24" stroke-width="0.7"/><line x1="545.2" y1="148.3" x2="550.7" y2="142.1" stroke="#6a6ab4" stroke-opacity="0.13" stroke-width="1.2"/><line x1="549.5" y1="157.7" x2="558.0" y2="150.2" stroke="#ffffff" stroke-opacity="0.50" stroke-width="0.8"/><line x1="611.7" y1="161.8" x2="620.9" y2="151.9" stroke="#6a6ab4" stroke-opacity="0.22" stroke-width="1.4"/><line x1="588.9" y1="153.3" x2="606.4" y2="140.2" stroke="#6a6ab4" stroke-opacity="0.17" stroke-width="1.1"/><line x1="575.8" y1="188.7" x2="586.1" y2="178.6" stroke="#6a6ab4" stroke-opacity="0.26" stroke-width="1.0"/><line x1="527.0" y1="174.3" x2="542.8" y2="161.4" stroke="#6a6ab4" stroke-opacity="0.24" stroke-width="1.0"/><line x1="580.6" y1="113.0" x2="586.2" y2="107.3" stroke="#6a6ab4" stroke-opacity="0.17" stroke-width="0.7"/><line x1="589.4" y1="154.1" x2="595.7" y2="146.6" stroke="#6a6ab4" stroke-opacity="0.14" stroke-width="0.8"/><line x1="605.3" y1="194.0" x2="618.7" y2="184.1" stroke="#6a6ab4" stroke-opacity="0.24" stroke-width="0.9"/><line x1="591.3" y1="162.2" x2="603.1" y2="145.5" stroke="#6a6ab4" stroke-opacity="0.12" stroke-width="1.2"/><line x1="612.4" y1="107.8" x2="618.8" y2="100.3" stroke="#6a6ab4" stroke-opacity="0.11" stroke-width="1.5"/><line x1="599.1" y1="142.9" x2="607.7" y2="135.0" stroke="#ffffff" stroke-opacity="0.31" stroke-width="1.5"/><line x1="549.0" y1="153.6" x2="566.4" y2="142.1" stroke="#6a6ab4" stroke-opacity="0.14" stroke-width="1.0"/><line x1="609.4" y1="185.7" x2="616.7" y2="180.2" stroke="#6a6ab4" stroke-opacity="0.19" stroke-width="0.9"/><line x1="605.7" y1="194.7" x2="612.6" y2="188.5" stroke="#ffffff" stroke-opacity="0.56" stroke-width="0.7"/><line x1="535.1" y1="171.1" x2="544.0" y2="164.7" stroke="#6a6ab4" stroke-opacity="0.23" stroke-width="0.8"/><line x1="588.9" y1="191.9" x2="596.4" y2="181.1" stroke="#ffffff" stroke-opacity="0.39" stroke-width="1.3"/><line x1="544.0" y1="123.1" x2="551.4" y2="116.7" stroke="#6a6ab4" stroke-opacity="0.17" stroke-width="1.3"/><line x1="606.5" y1="159.6" x2="612.7" y2="152.2" stroke="#6a6ab4" stroke-opacity="0.22" stroke-width="0.9"/><line x1="580.1" y1="119.8" x2="595.1" y2="104.0" stroke="#6a6ab4" stroke-opacity="0.20" stroke-width="0.7"/><line x1="580.0" y1="132.1" x2="587.9" y2="126.0" stroke="#ffffff" stroke-opacity="0.39" stroke-width="1.4"/><line x1="547.6" y1="134.4" x2="556.6" y2="122.7" stroke="#6a6ab4" stroke-opacity="0.28" stroke-width="0.7"/><line x1="566.6" y1="173.5" x2="576.5" y2="166.6" stroke="#6a6ab4" stroke-opacity="0.13" stroke-width="1.2"/><line x1="581.6" y1="140.8" x2="594.5" y2="130.5" stroke="#6a6ab4" stroke-opacity="0.19" stroke-width="1.5"/><line x1="585.2" y1="158.3" x2="598.0" y2="141.4" stroke="#6a6ab4" stroke-opacity="0.13" stroke-width="1.2"/><line x1="544.0" y1="148.4" x2="558.4" y2="137.1" stroke="#6a6ab4" stroke-opacity="0.14" stroke-width="1.1"/><line x1="546.0" y1="160.9" x2="553.8" y2="149.2" stroke="#6a6ab4" stroke-opacity="0.23" stroke-width="1.2"/><line x1="606.2" y1="123.4" x2="610.9" y2="116.3" stroke="#6a6ab4" stroke-opacity="0.18" stroke-width="1.1"/><line x1="550.7" y1="176.3" x2="556.6" y2="172.2" stroke="#6a6ab4" stroke-opacity="0.20" stroke-width="1.4"/><line x1="548.3" y1="121.4" x2="554.5" y2="112.3" stroke="#6a6ab4" stroke-opacity="0.21" stroke-width="1.2"/></g></g>
<g clip-path="url(#cc1)"><ellipse cx="0" cy="0" rx="35" ry="30" fill="url(#nehaze)" transform="translate(572.5 66.0) rotate(-50)"/><ellipse cx="0" cy="0" rx="29.1" ry="23.7" fill="url(#bne)" transform="translate(575.4 63.2) rotate(-50)"/></g>
<g clip-path="url(#cc2)"><ellipse cx="0" cy="0" rx="30" ry="20" fill="url(#arhaze)" transform="translate(574 148) rotate(-40)"/><ellipse cx="575" cy="147" rx="19.3" ry="18.4" fill="url(#bar)"/></g>
<g clip-path="url(#cc3)"><ellipse cx="573.5" cy="230.1" rx="33.8" ry="29.5" fill="url(#bkr)"/></g>
<!-- spectra -->
<g fill="none" stroke="#000" stroke-width="1.9" stroke-linejoin="round">
<path clip-path="url(#cne)" d="M268.00 106.30 268.25 106.30 268.50 106.30 268.75 106.30 269.00 106.30 269.25 106.29 269.50 106.29 269.75 106.29 270.00 106.28 270.25 106.28 270.50 106.27 270.75 106.27 271.00 106.26 271.25 106.25 271.50 106.24 271.75 106.23 272.00 106.22 272.25 106.21 272.50 106.19 272.75 106.18 273.00 106.16 273.25 106.14 273.50 106.12 273.75 106.10 274.00 106.08 274.25 106.06 274.50 106.04 274.75 106.01 275.00 105.98 275.25 105.95 275.50 105.92 275.75 105.89 276.00 105.86 276.25 105.82 276.50 105.78 276.75 105.74 277.00 105.70 277.28 105.32 277.56 104.43 277.84 103.26 278.12 102.04 278.40 101.00 278.66 100.19 278.92 99.40 279.19 98.62 279.45 97.86 279.71 97.11 279.98 96.39 280.24 95.68 280.50 95.00 280.75 94.30 281.00 93.52 281.25 92.77 281.50 92.12 281.75 91.67 282.00 91.50 282.27 91.06 282.55 90.43 282.82 89.48 283.10 87.99 283.38 85.56 283.65 81.71 283.93 76.65 284.20 73.80 284.45 74.48 284.70 76.16 284.95 78.11 285.20 79.87 285.45 81.28 285.70 82.36 285.95 83.18 286.20 83.80 286.45 84.27 286.70 84.64 286.95 84.93 287.20 85.16 287.45 85.35 287.70 85.50 287.96 85.35 288.21 84.96 288.47 84.37 288.72 83.66 288.98 82.90 289.23 82.13 289.49 81.44 289.74 80.87 290.00 80.50 290.25 80.26 290.50 80.02 290.75 79.82 291.00 79.65 291.25 79.54 291.50 79.50 291.78 78.50 292.07 76.83 292.35 73.84 292.63 68.16 292.92 58.33 293.20 51.00 293.47 53.50 293.73 59.23 294.00 65.30 294.27 70.27 294.53 73.97 294.80 76.65 295.07 78.58 295.33 80.01 295.60 81.07 295.87 81.88 296.13 82.51 296.40 83.00 296.67 82.81 296.95 82.32 297.23 81.60 297.50 80.76 297.77 79.89 298.05 79.07 298.33 78.41 298.60 78.00 298.85 77.77 299.10 77.55 299.35 77.34 299.60 77.16 299.85 77.01 300.10 76.90 300.35 76.83 300.60 76.80 300.86 75.92 301.12 74.65 301.39 72.74 301.65 69.73 301.91 64.86 302.18 57.10 302.44 46.94 302.70 41.20 302.96 47.81 303.21 58.20 303.47 65.19 303.73 69.23 303.99 71.59 304.24 73.05 304.50 74.00 304.78 73.74 305.07 73.08 305.35 72.17 305.63 71.16 305.92 70.22 306.20 69.50 306.46 69.01 306.71 68.55 306.97 68.11 307.22 67.70 307.48 67.31 307.73 66.95 307.99 66.61 308.24 66.29 308.50 66.00 308.78 65.67 309.07 65.33 309.35 65.02 309.63 64.75 309.92 64.57 310.20 64.50 310.47 63.54 310.73 62.22 311.00 60.34 311.27 57.55 311.53 53.32 311.80 46.80 312.07 37.19 312.33 25.85 312.60 20.00 312.87 23.71 313.14 31.40 313.41 38.53 313.68 43.72 313.95 47.25 314.22 49.65 314.49 51.31 314.76 52.49 315.03 53.35 315.30 54.00 315.57 54.72 315.84 56.58 316.11 59.12 316.39 61.88 316.66 64.42 316.93 66.28 317.20 67.00 317.46 66.39 317.72 65.66 317.99 64.79 318.25 63.74 318.51 62.46 318.77 60.89 319.04 58.95 319.30 56.53 319.56 53.51 319.82 49.75 320.09 45.12 320.35 39.60 320.61 33.45 320.88 27.40 321.14 22.77 321.40 21.00 321.66 24.73 321.91 32.42 322.17 39.48 322.42 44.59 322.68 48.05 322.93 50.39 323.19 52.01 323.44 53.16 323.70 54.00 323.97 54.21 324.24 54.78 324.51 55.62 324.78 56.64 325.05 57.75 325.32 58.86 325.59 59.88 325.86 60.72 326.13 61.29 326.40 61.50 326.65 60.92 326.90 60.28 327.16 59.55 327.41 58.73 327.66 57.81 327.91 56.77 328.17 55.59 328.42 54.25 328.67 52.74 328.92 51.02 329.18 49.10 329.43 46.95 329.68 44.57 329.93 41.99 330.19 39.25 330.44 36.44 330.69 33.71 330.94 31.24 331.20 29.25 331.45 27.95 331.70 27.50 331.97 29.48 332.25 34.02 332.52 38.84 332.80 42.78 333.07 45.71 333.35 47.84 333.62 49.37 333.90 50.50 334.16 50.79 334.41 51.55 334.67 52.59 334.93 53.71 335.19 54.75 335.44 55.51 335.70 55.80 335.95 55.32 336.20 54.78 336.46 54.18 336.71 53.52 336.96 52.77 337.21 51.93 337.47 51.00 337.72 49.96 337.97 48.79 338.22 47.50 338.48 46.07 338.73 44.51 338.98 42.82 339.23 41.03 339.49 39.18 339.74 37.35 339.99 35.60 340.24 34.06 340.50 32.85 340.75 32.07 341.00 31.80 341.27 32.80 341.55 35.20 341.82 37.92 342.10 40.30 342.38 42.17 342.65 43.57 342.93 44.62 343.20 45.40 343.47 46.12 343.74 48.06 344.01 50.93 344.28 54.41 344.55 58.20 344.82 61.99 345.09 65.47 345.36 68.34 345.63 70.28 345.90 71.00 346.16 70.83 346.42 70.31 346.69 69.47 346.95 68.35 347.21 66.98 347.48 65.41 347.74 63.72 348.00 61.95 348.26 60.18 348.52 58.49 348.79 56.92 349.05 55.55 349.31 54.43 349.58 53.59 349.84 53.07 350.10 52.90 350.36 53.14 350.62 53.85 350.88 55.00 351.14 56.57 351.41 58.51 351.67 60.75 351.93 63.23 352.19 65.87 352.45 68.60 352.71 71.33 352.97 73.97 353.23 76.45 353.49 78.69 353.76 80.63 354.02 82.20 354.28 83.35 354.54 84.06 354.80 84.30 355.06 84.17 355.31 83.77 355.57 83.13 355.82 82.25 356.08 81.17 356.33 79.92 356.59 78.54 356.84 77.07 357.10 75.55 357.36 74.03 357.61 72.56 357.87 71.17 358.12 69.93 358.38 68.85 358.63 67.97 358.89 67.33 359.14 66.93 359.40 66.80 359.65 66.91 359.91 67.22 360.16 67.73 360.42 68.43 360.67 69.30 360.93 70.32 361.19 71.47 361.44 72.71 361.69 74.01 361.95 75.35 362.20 76.69 362.46 77.99 362.71 79.23 362.97 80.38 363.23 81.40 363.48 82.27 363.74 82.97 363.99 83.48 364.25 83.79 364.50 83.90 364.75 83.85 365.00 83.71 365.25 83.47 365.50 83.15 365.75 82.74 366.00 82.27 366.25 81.74 366.50 81.17 366.75 80.57 367.00 79.95 367.25 79.33 367.50 78.73 367.75 78.16 368.00 77.63 368.25 77.16 368.50 76.75 368.75 76.43 369.00 76.19 369.25 76.05 369.50 76.00 369.76 76.08 370.01 76.30 370.27 76.68 370.52 77.18 370.78 77.80 371.03 78.53 371.29 79.32 371.54 80.17 371.80 81.05 372.06 81.93 372.31 82.78 372.57 83.57 372.82 84.30 373.08 84.92 373.33 85.42 373.59 85.80 373.84 86.02 374.10 86.10 374.36 86.03 374.61 85.81 374.87 85.46 375.12 84.98 375.38 84.39 375.63 83.70 375.89 82.94 376.14 82.13 376.40 81.30 376.66 80.47 376.91 79.66 377.17 78.90 377.42 78.21 377.68 77.62 377.93 77.14 378.19 76.79 378.44 76.57 378.70 76.50 378.95 76.55 379.21 76.71 379.46 76.97 379.72 77.33 379.97 77.78 380.23 78.31 380.48 78.91 380.74 79.57 380.99 80.27 381.25 81.00 381.50 81.75 381.75 82.50 382.01 83.23 382.26 83.93 382.52 84.59 382.77 85.19 383.03 85.72 383.28 86.17 383.54 86.53 383.79 86.79 384.05 86.95 384.30 87.00 384.56 86.96 384.81 86.83 385.06 86.63 385.32 86.35 385.57 86.00 385.83 85.60 386.08 85.14 386.34 84.65 386.59 84.13 386.85 83.60 387.11 83.07 387.36 82.55 387.62 82.06 387.87 81.60 388.12 81.20 388.38 80.85 388.63 80.57 388.89 80.37 389.14 80.24 389.40 80.20 389.66 80.27 389.91 80.48 390.17 80.82 390.42 81.28 390.68 81.84 390.94 82.48 391.19 83.18 391.45 83.90 391.71 84.62 391.96 85.32 392.22 85.96 392.48 86.52 392.73 86.98 392.99 87.32 393.24 87.53 393.50 87.60 393.75 87.59 394.00 87.58 394.25 87.55 394.50 87.52 394.75 87.48 395.00 87.43 395.25 87.37 395.50 87.31 395.75 87.24 396.00 87.16 396.25 87.08 396.50 87.00 396.76 86.85 397.01 86.59 397.27 86.26 397.52 85.89 397.78 85.51 398.03 85.16 398.29 84.87 398.54 84.67 398.80 84.60 399.07 84.74 399.33 85.12 399.60 85.64 399.87 86.23 400.13 86.81 400.40 87.30 400.67 87.76 400.94 88.26 401.21 88.77 401.49 89.25 401.76 89.64 402.03 89.90 402.30 90.00 402.57 89.96 402.84 89.84 403.11 89.65 403.38 89.41 403.65 89.14 403.92 88.84 404.19 88.54 404.46 88.24 404.73 87.95 405.00 87.70 405.26 87.46 405.52 87.19 405.77 86.90 406.03 86.60 406.29 86.31 406.55 86.02 406.81 85.75 407.07 85.50 407.33 85.30 407.58 85.14 407.84 85.04 408.10 85.00 408.37 85.10 408.64 85.37 408.91 85.77 409.19 86.24 409.46 86.76 409.73 87.26 410.00 87.70 410.25 88.13 410.50 88.62 410.75 89.13 411.00 89.57 411.25 89.88 411.50 90.00 411.76 89.98 412.01 89.94 412.27 89.87 412.52 89.79 412.78 89.71 413.03 89.63 413.29 89.56 413.54 89.52 413.80 89.50 414.06 89.51 414.32 89.55 414.57 89.62 414.83 89.70 415.09 89.80 415.35 89.92 415.61 90.05 415.87 90.19 416.12 90.33 416.38 90.49 416.64 90.64 416.90 90.80 417.16 91.00 417.42 91.26 417.67 91.58 417.93 91.93 418.19 92.31 418.45 92.68 418.71 93.05 418.97 93.38 419.23 93.67 419.48 93.90 419.74 94.05 420.00 94.10 420.27 94.04 420.54 93.90 420.81 93.69 421.09 93.45 421.36 93.20 421.63 92.97 421.90 92.80 422.16 92.67 422.41 92.53 422.67 92.40 422.92 92.27 423.18 92.15 423.43 92.05 423.69 91.97 423.94 91.92 424.20 91.90 424.46 91.91 424.71 91.94 424.97 91.99 425.22 92.05 425.48 92.12 425.73 92.21 425.99 92.30 426.24 92.40 426.50 92.50 426.76 92.64 427.01 92.84 427.27 93.09 427.52 93.36 427.78 93.65 428.03 93.94 428.29 94.20 428.54 94.43 428.80 94.60 429.06 94.74 429.32 94.86 429.57 94.97 429.83 95.07 430.09 95.16 430.35 95.25 430.61 95.33 430.87 95.42 431.12 95.51 431.38 95.60 431.64 95.69 431.90 95.80 432.16 95.92 432.41 96.07 432.67 96.23 432.92 96.39 433.18 96.55 433.43 96.69 433.69 96.80 433.94 96.87 434.20 96.90 434.46 96.90 434.71 96.89 434.97 96.87 435.22 96.85 435.48 96.82 435.73 96.80 435.99 96.77 436.24 96.73 436.50 96.70 436.76 96.67 437.01 96.63 437.27 96.60 437.52 96.58 437.78 96.55 438.03 96.53 438.29 96.51 438.54 96.50 438.80 96.50 439.07 96.52 439.33 96.59 439.60 96.70 439.87 96.84 440.13 96.99 440.40 97.17 440.67 97.35 440.93 97.53 441.20 97.70 441.45 97.88 441.70 98.11 441.95 98.37 442.20 98.65 442.45 98.95 442.70 99.24 442.95 99.51 443.20 99.77 443.45 99.98 443.70 100.15 443.95 100.26 444.20 100.30 444.45 100.30 444.71 100.29 444.96 100.27 445.21 100.25 445.47 100.22 445.72 100.19 445.97 100.16 446.23 100.14 446.48 100.11 446.73 100.08 446.99 100.05 447.24 100.03 447.49 100.01 447.75 100.00 448.00 100.00 448.26 100.02 448.52 100.09 448.78 100.19 449.04 100.32 449.30 100.48 449.56 100.66 449.82 100.85 450.08 101.05 450.34 101.26 450.60 101.47 450.86 101.67 451.12 101.85 451.38 102.03 451.64 102.18 451.90 102.30 452.16 102.41 452.42 102.51 452.67 102.62 452.93 102.72 453.19 102.82 453.45 102.91 453.71 103.00 453.97 103.08 454.23 103.15 454.48 103.21 454.74 103.26 455.00 103.30 455.25 103.33 455.50 103.36 455.75 103.39 456.00 103.41 456.25 103.44 456.50 103.46 456.75 103.48 457.00 103.50 457.25 103.52 457.50 103.53 457.75 103.55 458.00 103.56 458.25 103.58 458.50 103.59 458.75 103.61 459.00 103.62 459.25 103.63 459.50 103.65 459.75 103.66 460.00 103.67 460.25 103.69 460.50 103.70 460.75 103.71 461.00 103.73 461.25 103.75 461.50 103.76 461.75 103.78 462.00 103.80 462.25 103.82 462.50 103.84 462.76 103.86 463.01 103.88 463.26 103.90 463.51 103.92 463.76 103.95 464.01 103.97 464.27 103.99 464.52 104.01 464.77 104.03 465.02 104.06 465.27 104.08 465.53 104.10 465.78 104.12 466.03 104.15 466.28 104.17 466.53 104.19 466.79 104.22 467.04 104.24 467.29 104.26 467.54 104.28 467.79 104.31 468.04 104.33 468.30 104.35 468.55 104.38 468.80 104.40 469.05 104.42 469.31 104.45 469.56 104.47 469.82 104.50 470.07 104.53 470.33 104.55 470.58 104.58 470.84 104.61 471.09 104.64 471.35 104.66 471.60 104.69 471.85 104.72 472.11 104.75 472.36 104.78 472.62 104.80 472.87 104.83 473.13 104.86 473.38 104.89 473.64 104.91 473.89 104.94 474.15 104.96 474.40 104.99 474.65 105.01 474.91 105.04 475.16 105.06 475.42 105.08 475.67 105.10 475.93 105.12 476.18 105.14 476.44 105.16 476.69 105.17 476.95 105.19 477.20 105.20 477.45 105.21 477.70 105.22 477.95 105.24 478.20 105.25 478.45 105.26 478.70 105.27 478.95 105.28 479.20 105.29 479.46 105.31 479.71 105.32 479.96 105.33 480.21 105.34 480.46 105.35 480.71 105.36 480.96 105.37 481.21 105.38 481.46 105.39 481.71 105.40 481.96 105.42 482.21 105.43 482.46 105.44 482.71 105.45 482.96 105.46 483.21 105.47 483.47 105.48 483.72 105.49 483.97 105.50 484.22 105.51 484.47 105.52 484.72 105.53 484.97 105.53 485.22 105.54 485.47 105.55 485.72 105.56 485.97 105.57 486.22 105.58 486.47 105.59 486.72 105.60 486.97 105.60 487.22 105.61 487.47 105.62 487.73 105.63 487.98 105.64 488.23 105.64 488.48 105.65 488.73 105.66 488.98 105.67 489.23 105.67 489.48 105.68 489.73 105.69 489.98 105.69 490.23 105.70 490.48 105.70 490.73 105.71 490.98 105.72 491.23 105.72 491.48 105.73 491.73 105.73 491.99 105.74 492.24 105.74 492.49 105.75 492.74 105.75 492.99 105.76 493.24 105.76 493.49 105.76 493.74 105.77 493.99 105.77 494.24 105.77 494.49 105.78 494.74 105.78 494.99 105.78 495.24 105.79 495.49 105.79 495.74 105.79 496.00 105.79 496.25 105.79 496.50 105.80 496.75 105.80 497.00 105.80 497.25 105.80 497.50 105.80 497.75 105.80 498.00 105.80"/>
<path clip-path="url(#car)" d="M260.00 189.80 260.25 189.80 260.50 189.80 260.75 189.80 261.00 189.80 261.25 189.80 261.50 189.80 261.75 189.80 262.00 189.80 262.25 189.80 262.50 189.80 262.75 189.80 263.00 189.80 263.25 189.80 263.50 189.80 263.75 189.80 264.00 189.80 264.25 189.80 264.50 189.80 264.75 189.80 265.00 189.80 265.25 189.80 265.50 189.80 265.75 189.80 266.00 189.80 266.25 189.72 266.50 189.52 266.75 189.23 267.00 188.90 267.25 188.57 267.50 188.28 267.75 188.08 268.00 188.00 268.25 188.05 268.50 188.19 268.75 188.38 269.00 188.61 269.25 188.84 269.50 189.05 269.75 189.21 270.00 189.30 270.25 189.34 270.50 189.38 270.75 189.41 271.00 189.44 271.25 189.47 271.50 189.49 271.75 189.50 272.00 189.50 272.25 189.37 272.50 189.02 272.75 188.52 273.00 187.95 273.25 187.38 273.50 186.88 273.75 186.53 274.00 186.40 274.26 186.17 274.51 185.87 274.77 185.46 275.02 184.89 275.28 184.10 275.53 183.04 275.79 181.75 276.04 180.53 276.30 180.00 276.56 180.79 276.82 182.51 277.09 184.18 277.35 185.45 277.61 186.34 277.88 186.95 278.14 187.39 278.40 187.70 278.67 187.69 278.93 187.66 279.20 187.62 279.47 187.56 279.73 187.50 280.00 187.43 280.27 187.35 280.53 187.27 280.80 187.20 281.06 187.11 281.32 186.99 281.59 186.86 281.85 186.73 282.11 186.60 282.38 186.50 282.64 186.43 282.90 186.40 283.15 186.10 283.40 185.73 283.65 185.24 283.90 184.60 284.15 183.75 284.40 182.59 284.65 180.98 284.90 178.76 285.15 175.78 285.40 172.14 285.65 168.70 285.90 167.20 286.16 168.37 286.43 171.23 286.69 174.56 286.96 177.57 287.22 179.98 287.49 181.83 287.75 183.23 288.01 184.29 288.28 185.10 288.54 185.73 288.81 186.23 289.07 186.62 289.34 186.94 289.60 187.20 289.87 187.06 290.13 186.70 290.40 186.16 290.67 185.53 290.93 184.87 291.20 184.24 291.47 183.70 291.73 183.34 292.00 183.20 292.25 182.58 292.50 181.82 292.75 180.89 293.00 179.71 293.25 178.22 293.50 176.29 293.75 173.77 294.00 170.45 294.25 166.06 294.50 160.33 294.75 153.19 295.00 145.27 295.25 138.48 295.50 135.70 295.75 137.45 296.00 142.05 296.25 148.12 296.50 154.35 296.75 160.00 297.00 164.79 297.25 168.71 297.50 171.87 297.75 174.41 298.00 176.46 298.25 178.12 298.50 179.48 298.75 180.60 299.00 181.53 299.25 182.31 299.50 182.96 299.75 183.52 300.00 184.00 300.25 183.33 300.50 182.56 300.75 181.67 301.00 180.64 301.25 179.43 301.50 178.00 301.75 176.31 302.00 174.30 302.25 171.88 302.50 168.95 302.75 165.40 303.00 161.08 303.25 155.83 303.50 149.51 303.75 142.06 304.00 133.62 304.25 124.72 304.50 116.46 304.75 110.43 305.00 108.20 305.25 110.39 305.50 116.29 305.75 124.38 306.00 133.09 306.25 141.35 306.50 148.64 306.75 154.82 307.00 159.96 307.25 164.19 307.50 167.67 307.75 170.53 308.00 172.90 308.25 174.88 308.50 176.53 308.75 177.92 309.00 179.11 309.25 180.12 309.50 180.99 309.75 181.74 310.00 182.40 310.25 181.83 310.51 181.16 310.76 180.39 311.01 179.48 311.26 178.41 311.52 177.13 311.77 175.61 312.02 173.76 312.27 171.51 312.53 168.77 312.78 165.39 313.03 161.24 313.28 156.18 313.54 150.10 313.79 143.08 314.04 135.52 314.29 128.34 314.55 123.00 314.80 121.00 315.06 122.48 315.32 126.55 315.58 132.29 315.84 138.72 316.10 145.05 316.35 150.84 316.61 155.91 316.87 160.24 317.13 163.88 317.39 166.94 317.65 169.49 317.91 171.63 318.17 173.43 318.43 174.95 318.69 176.25 318.95 177.36 319.20 178.31 319.46 179.13 319.72 179.84 319.98 180.47 320.24 181.02 320.50 181.50 320.76 181.12 321.02 180.67 321.28 180.14 321.54 179.50 321.79 178.72 322.05 177.78 322.31 176.61 322.57 175.17 322.83 173.36 323.09 171.08 323.35 168.21 323.61 164.64 323.86 160.33 324.12 155.44 324.38 150.56 324.64 146.76 324.90 145.30 325.15 146.48 325.41 149.66 325.66 154.02 325.92 158.72 326.17 163.17 326.43 167.10 326.69 170.43 326.94 173.20 327.19 175.48 327.45 177.36 327.70 178.90 327.96 180.18 328.21 181.24 328.47 182.13 328.73 182.89 328.98 183.52 329.24 184.07 329.49 184.54 329.75 184.95 330.00 185.30 330.25 185.13 330.51 184.94 330.76 184.71 331.01 184.45 331.26 184.15 331.52 183.79 331.77 183.37 332.02 182.86 332.27 182.26 332.53 181.55 332.78 180.69 333.03 179.68 333.28 178.50 333.54 177.15 333.79 175.69 334.04 174.20 334.29 172.88 334.55 171.94 334.80 171.60 335.05 172.20 335.31 173.78 335.56 175.83 335.81 177.91 336.07 179.77 336.32 181.33 336.57 182.59 336.83 183.60 337.08 184.41 337.33 185.06 337.59 185.59 337.84 186.02 338.09 186.37 338.35 186.66 338.60 186.90 338.86 186.91 339.13 186.93 339.39 186.97 339.65 187.02 339.92 187.07 340.18 187.13 340.45 187.18 340.71 187.23 340.97 187.27 341.24 187.29 341.50 187.30 341.77 187.22 342.03 186.98 342.30 186.60 342.57 186.10 342.83 185.52 343.10 184.90 343.37 184.28 343.63 183.70 343.90 183.20 344.17 182.82 344.43 182.58 344.70 182.50 344.96 182.56 345.22 182.73 345.48 183.00 345.74 183.37 345.99 183.83 346.25 184.36 346.51 184.93 346.77 185.54 347.03 186.16 347.29 186.77 347.55 187.34 347.81 187.87 348.06 188.33 348.32 188.70 348.58 188.97 348.84 189.14 349.10 189.20 349.36 189.18 349.62 189.12 349.88 189.02 350.14 188.89 350.40 188.72 350.65 188.53 350.91 188.30 351.17 188.06 351.43 187.80 351.69 187.53 351.95 187.25 352.21 186.97 352.47 186.70 352.73 186.44 352.99 186.20 353.25 185.97 353.50 185.78 353.76 185.61 354.02 185.48 354.28 185.38 354.54 185.32 354.80 185.30 355.05 185.33 355.31 185.41 355.56 185.55 355.81 185.74 356.06 185.98 356.32 186.25 356.57 186.56 356.82 186.88 357.07 187.23 357.33 187.57 357.58 187.92 357.83 188.24 358.08 188.55 358.34 188.82 358.59 189.06 358.84 189.25 359.09 189.39 359.35 189.47 359.60 189.50 359.85 189.46 360.11 189.32 360.36 189.11 360.61 188.82 360.87 188.47 361.12 188.08 361.37 187.66 361.63 187.24 361.88 186.82 362.13 186.43 362.39 186.08 362.64 185.79 362.89 185.58 363.15 185.44 363.40 185.40 363.65 185.43 363.91 185.52 364.16 185.67 364.41 185.86 364.66 186.11 364.92 186.40 365.17 186.72 365.42 187.06 365.67 187.42 365.93 187.78 366.18 188.14 366.43 188.48 366.68 188.80 366.94 189.09 367.19 189.34 367.44 189.53 367.69 189.68 367.95 189.77 368.20 189.80 368.45 189.78 368.70 189.74 368.95 189.66 369.20 189.55 369.45 189.42 369.70 189.27 369.95 189.09 370.20 188.89 370.45 188.69 370.70 188.47 370.95 188.25 371.20 188.03 371.45 187.81 371.70 187.61 371.95 187.41 372.20 187.23 372.45 187.08 372.70 186.95 372.95 186.84 373.20 186.76 373.45 186.72 373.70 186.70 373.97 186.73 374.25 186.80 374.52 186.92 374.80 187.05 375.07 187.18 375.35 187.30 375.62 187.37 375.90 187.40 376.17 187.74 376.45 188.50 376.73 189.26 377.00 189.60 377.25 189.60 377.51 189.59 377.76 189.57 378.02 189.56 378.27 189.53 378.52 189.51 378.78 189.48 379.03 189.44 379.28 189.41 379.54 189.37 379.79 189.33 380.05 189.29 380.30 189.25 380.55 189.21 380.81 189.17 381.06 189.13 381.32 189.09 381.57 189.06 381.82 189.02 382.08 188.99 382.33 188.97 382.58 188.94 382.84 188.93 383.09 188.91 383.35 188.90 383.60 188.90 383.86 188.91 384.12 188.94 384.38 188.98 384.64 189.03 384.89 189.09 385.15 189.17 385.41 189.25 385.67 189.33 385.93 189.41 386.19 189.50 386.45 189.58 386.71 189.66 386.96 189.73 387.22 189.79 387.48 189.84 387.74 189.88 388.00 189.90 388.25 189.91 388.50 189.93 388.75 189.94 389.00 189.95 389.25 189.96 389.50 189.97 389.75 189.98 390.00 189.99 390.25 190.00 390.50 190.01 390.75 190.02 391.00 190.03 391.25 190.04 391.50 190.05 391.75 190.06 392.00 190.07 392.25 190.07 392.50 190.08 392.75 190.09 393.00 190.10 393.25 190.10 393.50 190.11 393.75 190.12 394.00 190.12 394.25 190.13 394.50 190.13 394.75 190.14 395.00 190.15 395.25 190.15 395.50 190.15 395.75 190.16 396.00 190.16 396.25 190.17 396.50 190.17 396.75 190.17 397.00 190.18 397.25 190.18 397.50 190.18 397.75 190.19 398.00 190.19 398.25 190.19 398.50 190.19 398.75 190.19 399.00 190.20 399.25 190.20 399.50 190.20 399.75 190.20 400.00 190.20 400.25 190.20 400.50 190.20 400.75 190.20 401.00 190.20 401.25 190.20 401.50 190.20 401.75 190.20 402.00 190.21 402.25 190.21 402.50 190.21 402.75 190.21 403.00 190.21 403.25 190.21 403.50 190.21 403.75 190.21 404.00 190.21 404.25 190.21 404.50 190.21 404.75 190.21 405.00 190.21 405.25 190.21 405.50 190.21 405.75 190.21 406.00 190.21 406.25 190.22 406.50 190.22 406.75 190.22 407.00 190.22 407.25 190.22 407.50 190.22 407.75 190.22 408.00 190.22 408.25 190.22 408.50 190.22 408.75 190.22 409.00 190.22 409.25 190.22 409.50 190.22 409.75 190.22 410.00 190.22 410.25 190.22 410.50 190.22 410.75 190.23 411.00 190.23 411.25 190.23 411.50 190.23 411.75 190.23 412.00 190.23 412.25 190.23 412.50 190.23 412.75 190.23 413.00 190.23 413.25 190.23 413.50 190.23 413.75 190.23 414.00 190.23 414.25 190.23 414.50 190.23 414.75 190.23 415.00 190.23 415.25 190.23 415.50 190.24 415.75 190.24 416.00 190.24 416.25 190.24 416.50 190.24 416.75 190.24 417.00 190.24 417.25 190.24 417.50 190.24 417.75 190.24 418.00 190.24 418.25 190.24 418.50 190.24 418.75 190.24 419.00 190.24 419.25 190.24 419.50 190.24 419.75 190.24 420.00 190.24 420.25 190.24 420.50 190.24 420.75 190.24 421.00 190.25 421.25 190.25 421.50 190.25 421.75 190.25 422.00 190.25 422.25 190.25 422.50 190.25 422.75 190.25 423.00 190.25 423.25 190.25 423.50 190.25 423.75 190.25 424.00 190.25 424.25 190.25 424.50 190.25 424.75 190.25 425.00 190.25 425.25 190.25 425.50 190.25 425.75 190.25 426.00 190.25 426.25 190.25 426.50 190.25 426.75 190.25 427.00 190.26 427.25 190.26 427.50 190.26 427.75 190.26 428.00 190.26 428.25 190.26 428.50 190.26 428.75 190.26 429.00 190.26 429.25 190.26 429.50 190.26 429.75 190.26 430.00 190.26 430.25 190.26 430.50 190.26 430.75 190.26 431.00 190.26 431.25 190.26 431.50 190.26 431.75 190.26 432.00 190.26 432.25 190.26 432.50 190.26 432.75 190.26 433.00 190.26 433.25 190.26 433.50 190.26 433.75 190.26 434.00 190.27 434.25 190.27 434.50 190.27 434.75 190.27 435.00 190.27 435.25 190.27 435.50 190.27 435.75 190.27 436.00 190.27 436.25 190.27 436.50 190.27 436.75 190.27 437.00 190.27 437.25 190.27 437.50 190.27 437.75 190.27 438.00 190.27 438.25 190.27 438.50 190.27 438.75 190.27 439.00 190.27 439.25 190.27 439.50 190.27 439.75 190.27 440.00 190.27 440.25 190.27 440.50 190.27 440.75 190.27 441.00 190.27 441.25 190.27 441.50 190.27 441.75 190.27 442.00 190.27 442.25 190.28 442.50 190.28 442.75 190.28 443.00 190.28 443.25 190.28 443.50 190.28 443.75 190.28 444.00 190.28 444.25 190.28 444.50 190.28 444.75 190.28 445.00 190.28 445.25 190.28 445.50 190.28 445.75 190.28 446.00 190.28 446.25 190.28 446.50 190.28 446.75 190.28 447.00 190.28 447.25 190.28 447.50 190.28 447.75 190.28 448.00 190.28 448.25 190.28 448.50 190.28 448.75 190.28 449.00 190.28 449.25 190.28 449.50 190.28 449.75 190.28 450.00 190.28 450.25 190.28 450.50 190.28 450.75 190.28 451.00 190.28 451.25 190.28 451.50 190.28 451.75 190.28 452.00 190.28 452.25 190.28 452.50 190.28 452.75 190.28 453.00 190.28 453.25 190.29 453.50 190.29 453.75 190.29 454.00 190.29 454.25 190.29 454.50 190.29 454.75 190.29 455.00 190.29 455.25 190.29 455.50 190.29 455.75 190.29 456.00 190.29 456.25 190.29 456.50 190.29 456.75 190.29 457.00 190.29 457.25 190.29 457.50 190.29 457.75 190.29 458.00 190.29 458.25 190.29 458.50 190.29 458.75 190.29 459.00 190.29 459.25 190.29 459.50 190.29 459.75 190.29 460.00 190.29 460.25 190.29 460.50 190.29 460.75 190.29 461.00 190.29 461.25 190.29 461.50 190.29 461.75 190.29 462.00 190.29 462.25 190.29 462.50 190.29 462.75 190.29 463.00 190.29 463.25 190.29 463.50 190.29 463.75 190.29 464.00 190.29 464.25 190.29 464.50 190.29 464.75 190.29 465.00 190.29 465.25 190.29 465.50 190.29 465.75 190.29 466.00 190.29 466.25 190.29 466.50 190.29 466.75 190.29 467.00 190.29 467.25 190.29 467.50 190.29 467.75 190.29 468.00 190.29 468.25 190.29 468.50 190.29 468.75 190.29 469.00 190.29 469.25 190.29 469.50 190.29 469.75 190.29 470.00 190.29 470.25 190.30 470.50 190.30 470.75 190.30 471.00 190.30 471.25 190.30 471.50 190.30 471.75 190.30 472.00 190.30 472.25 190.30 472.50 190.30 472.75 190.30 473.00 190.30 473.25 190.30 473.50 190.30 473.75 190.30 474.00 190.30 474.25 190.30 474.50 190.30 474.75 190.30 475.00 190.30 475.25 190.30 475.50 190.30 475.75 190.30 476.00 190.30 476.25 190.30 476.50 190.30 476.75 190.30 477.00 190.30 477.25 190.30 477.50 190.30 477.75 190.30 478.00 190.30 478.25 190.30 478.50 190.30 478.75 190.30 479.00 190.30 479.25 190.30 479.50 190.30 479.75 190.30 480.00 190.30 480.25 190.30 480.50 190.30 480.75 190.30 481.00 190.30 481.25 190.30 481.50 190.30 481.75 190.30 482.00 190.30 482.25 190.30 482.50 190.30 482.75 190.30 483.00 190.30 483.25 190.30 483.50 190.30 483.75 190.30 484.00 190.30 484.25 190.30 484.50 190.30 484.75 190.30 485.00 190.30 485.25 190.30 485.50 190.30 485.75 190.30 486.00 190.30 486.25 190.30 486.50 190.30 486.75 190.30 487.00 190.30 487.25 190.30 487.50 190.30 487.75 190.30 488.00 190.30 488.25 190.30 488.50 190.30 488.75 190.30 489.00 190.30 489.25 190.30 489.50 190.30 489.75 190.30 490.00 190.30 490.25 190.30 490.50 190.30 490.75 190.30 491.00 190.30 491.25 190.30 491.50 190.30 491.75 190.30 492.00 190.30 492.25 190.30 492.50 190.30 492.75 190.30 493.00 190.30 493.25 190.30 493.50 190.30 493.75 190.30 494.00 190.30 494.25 190.30 494.50 190.30 494.75 190.30 495.00 190.30 495.25 190.30 495.50 190.30 495.75 190.30 496.00 190.30 496.25 190.30 496.50 190.30 496.75 190.30 497.00 190.30 497.25 190.30 497.50 190.30 497.75 190.30 498.00 190.30"/>
<path clip-path="url(#ckr)" d="M260.00 273.30 260.25 273.30 260.51 273.30 260.76 273.30 261.01 273.30 261.26 273.30 261.52 273.30 261.77 273.30 262.02 273.30 262.27 273.30 262.53 273.30 262.78 273.30 263.03 273.30 263.28 273.30 263.54 273.30 263.79 273.30 264.04 273.30 264.29 273.30 264.55 273.30 264.80 273.30 265.07 273.09 265.33 272.48 265.60 271.55 265.87 270.41 266.13 269.19 266.40 268.05 266.67 267.12 266.93 266.51 267.20 266.30 267.45 266.35 267.71 266.52 267.96 266.78 268.21 267.14 268.46 267.57 268.72 268.07 268.97 268.62 269.22 269.20 269.48 269.80 269.73 270.38 269.98 270.93 270.24 271.43 270.49 271.86 270.74 272.22 270.99 272.48 271.25 272.65 271.50 272.70 271.76 272.61 272.03 272.38 272.29 272.02 272.55 271.59 272.82 271.10 273.08 270.60 273.35 270.11 273.61 269.68 273.87 269.32 274.14 269.09 274.40 269.00 274.66 268.58 274.93 268.04 275.19 267.34 275.45 266.42 275.72 265.17 275.98 263.48 276.25 261.20 276.51 258.23 276.77 254.76 277.04 251.63 277.30 250.30 277.55 250.93 277.81 252.61 278.06 254.92 278.31 257.39 278.56 259.73 278.82 261.79 279.07 263.53 279.32 264.97 279.58 266.16 279.83 267.13 280.08 267.93 280.34 268.59 280.59 269.14 280.84 269.60 281.09 269.99 281.35 270.32 281.60 270.60 281.86 270.53 282.12 270.35 282.39 270.09 282.65 269.80 282.91 269.51 283.18 269.25 283.44 269.07 283.70 269.00 283.95 268.51 284.21 267.91 284.46 267.19 284.71 266.30 284.97 265.18 285.22 263.78 285.47 261.98 285.73 259.67 285.98 256.66 286.23 252.77 286.49 247.83 286.74 241.88 286.99 235.54 287.25 230.29 287.50 228.20 287.75 229.60 288.00 233.30 288.25 238.17 288.50 243.18 288.75 247.72 289.00 251.57 289.25 254.71 289.50 257.25 289.75 259.30 290.00 260.94 290.25 262.28 290.50 263.37 290.75 264.27 291.00 265.01 291.25 265.64 291.50 266.17 291.75 266.62 292.00 267.00 292.27 266.85 292.53 266.44 292.80 265.86 293.07 265.17 293.33 264.43 293.60 263.74 293.87 263.16 294.13 262.75 294.40 262.60 294.65 261.35 294.91 259.74 295.16 257.59 295.42 254.69 295.67 250.67 295.93 245.00 296.18 236.91 296.44 225.55 296.69 210.90 296.95 196.20 297.20 189.50 297.46 191.54 297.72 197.06 297.98 204.63 298.24 212.78 298.50 220.50 298.76 227.32 299.02 233.11 299.28 237.91 299.54 241.87 299.80 245.12 300.06 247.80 300.32 250.02 300.58 251.86 300.84 253.41 301.10 254.71 301.36 255.82 301.62 256.77 301.88 257.58 302.14 258.29 302.40 258.90 302.67 258.83 302.93 258.66 303.20 258.41 303.47 258.11 303.73 257.79 304.00 257.49 304.27 257.24 304.53 257.07 304.80 257.00 305.06 255.85 305.33 254.36 305.59 252.38 305.85 249.70 306.12 245.99 306.38 240.75 306.65 233.28 306.91 222.79 307.17 209.26 307.44 195.69 307.70 189.50 307.95 192.37 308.21 199.82 308.46 209.39 308.71 218.97 308.96 227.43 309.22 234.43 309.47 240.05 309.72 244.53 309.98 248.08 310.23 250.92 310.48 253.20 310.74 255.05 310.99 256.57 311.24 257.82 311.49 258.87 311.75 259.75 312.00 260.50 312.25 260.43 312.50 260.24 312.75 259.96 313.00 259.62 313.25 259.25 313.50 258.88 313.75 258.54 314.00 258.26 314.25 258.07 314.50 258.00 314.77 257.24 315.03 256.27 315.30 255.02 315.57 253.38 315.83 251.18 316.10 248.19 316.37 244.06 316.63 238.35 316.90 230.67 317.17 221.30 317.43 212.46 317.70 208.60 317.96 210.64 318.21 216.02 318.47 223.10 318.72 230.38 318.98 236.98 319.23 242.56 319.49 247.14 319.74 250.83 320.00 253.80 320.26 256.20 320.51 258.14 320.77 259.72 321.02 261.03 321.28 262.11 321.53 263.02 321.79 263.79 322.04 264.44 322.30 265.00 322.55 264.72 322.80 264.40 323.05 264.04 323.30 263.62 323.55 263.15 323.80 262.60 324.05 261.95 324.30 261.20 324.55 260.32 324.80 259.27 325.05 258.03 325.30 256.55 325.55 254.78 325.80 252.66 326.05 250.15 326.30 247.21 326.55 243.85 326.80 240.18 327.05 236.45 327.30 233.12 327.55 230.76 327.80 229.90 328.05 231.14 328.31 234.45 328.56 238.91 328.81 243.60 329.06 247.96 329.32 251.73 329.57 254.87 329.82 257.45 330.07 259.54 330.33 261.25 330.58 262.64 330.83 263.78 331.08 264.73 331.34 265.52 331.59 266.19 331.84 266.75 332.09 267.23 332.35 267.64 332.60 268.00 332.85 267.80 333.10 267.56 333.35 267.30 333.60 266.99 333.85 266.63 334.10 266.21 334.35 265.73 334.60 265.16 334.85 264.48 335.10 263.68 335.35 262.74 335.60 261.63 335.85 260.32 336.10 258.82 336.35 257.14 336.60 255.34 336.85 253.55 337.10 251.98 337.35 250.89 337.60 250.50 337.86 251.17 338.11 252.94 338.37 255.31 338.62 257.78 338.88 260.06 339.14 262.02 339.39 263.64 339.65 264.96 339.91 266.04 340.16 266.91 340.42 267.62 340.68 268.20 340.93 268.68 341.19 269.08 341.44 269.42 341.70 269.70 341.97 269.67 342.25 269.57 342.52 269.45 342.80 269.30 343.07 269.15 343.35 269.02 343.62 268.93 343.90 268.90 344.16 268.83 344.42 268.63 344.68 268.30 344.95 267.86 345.21 267.35 345.47 266.79 345.73 266.21 345.99 265.65 346.25 265.14 346.52 264.70 346.78 264.37 347.04 264.17 347.30 264.10 347.56 264.18 347.81 264.41 348.07 264.79 348.32 265.30 348.58 265.92 348.84 266.63 349.09 267.40 349.35 268.20 349.61 269.00 349.86 269.77 350.12 270.48 350.38 271.10 350.63 271.61 350.89 271.99 351.14 272.22 351.40 272.30 351.66 272.32 351.92 272.36 352.18 272.43 352.44 272.51 352.70 272.60 352.96 272.69 353.22 272.77 353.48 272.84 353.74 272.88 354.00 272.90 354.27 272.88 354.53 272.83 354.80 272.75 355.07 272.65 355.33 272.53 355.60 272.40 355.87 272.27 356.13 272.15 356.40 272.05 356.67 271.97 356.93 271.92 357.20 271.90 357.45 271.91 357.70 271.95 357.95 272.01 358.20 272.10 358.45 272.20 358.70 272.32 358.95 272.46 359.20 272.60 359.45 272.75 359.70 272.90 359.95 273.04 360.20 273.18 360.45 273.30 360.70 273.40 360.95 273.49 361.20 273.55 361.45 273.59 361.70 273.60 361.95 273.60 362.20 273.60 362.45 273.60 362.70 273.60 362.95 273.60 363.20 273.60 363.45 273.60 363.70 273.60 363.95 273.60 364.20 273.60 364.45 273.60 364.70 273.60 364.95 273.60 365.20 273.60 365.45 273.60 365.70 273.60 365.95 273.60 366.20 273.60 366.45 273.60 366.70 273.60 366.95 273.60 367.20 273.60 367.45 273.60 367.70 273.60 367.95 273.60 368.20 273.60 368.45 273.60 368.70 273.60 368.95 273.60 369.20 273.60 369.45 273.60 369.70 273.60 369.95 273.60 370.20 273.60 370.45 273.60 370.70 273.60 370.95 273.60 371.20 273.60 371.45 273.60 371.70 273.60 371.95 273.60 372.20 273.60 372.45 273.60 372.70 273.60 372.95 273.60 373.20 273.60 373.45 273.60 373.70 273.60 373.95 273.60 374.20 273.60 374.45 273.60 374.70 273.61 374.95 273.61 375.20 273.61 375.46 273.61 375.71 273.61 375.96 273.61 376.21 273.61 376.46 273.61 376.71 273.61 376.96 273.61 377.21 273.61 377.46 273.61 377.71 273.61 377.96 273.61 378.21 273.61 378.46 273.61 378.71 273.61 378.96 273.61 379.21 273.61 379.46 273.61 379.71 273.61 379.96 273.61 380.21 273.61 380.46 273.61 380.71 273.61 380.96 273.61 381.21 273.61 381.46 273.61 381.71 273.61 381.96 273.61 382.21 273.61 382.46 273.61 382.71 273.61 382.96 273.61 383.21 273.61 383.46 273.61 383.71 273.61 383.96 273.61 384.21 273.61 384.46 273.61 384.71 273.62 384.96 273.62 385.21 273.62 385.46 273.62 385.71 273.62 385.96 273.62 386.21 273.62 386.46 273.62 386.71 273.62 386.96 273.62 387.21 273.62 387.46 273.62 387.71 273.62 387.96 273.62 388.21 273.62 388.46 273.62 388.71 273.62 388.96 273.62 389.21 273.62 389.46 273.62 389.71 273.62 389.96 273.62 390.21 273.62 390.46 273.62 390.71 273.62 390.96 273.62 391.21 273.62 391.46 273.62 391.71 273.62 391.96 273.63 392.21 273.63 392.46 273.63 392.71 273.63 392.96 273.63 393.21 273.63 393.46 273.63 393.71 273.63 393.96 273.63 394.21 273.63 394.46 273.63 394.71 273.63 394.96 273.63 395.21 273.63 395.46 273.63 395.71 273.63 395.96 273.63 396.21 273.63 396.46 273.63 396.71 273.63 396.96 273.63 397.21 273.63 397.46 273.63 397.71 273.63 397.96 273.63 398.21 273.64 398.46 273.64 398.71 273.64 398.96 273.64 399.21 273.64 399.46 273.64 399.71 273.64 399.96 273.64 400.21 273.64 400.46 273.64 400.71 273.64 400.96 273.64 401.21 273.64 401.46 273.64 401.71 273.64 401.96 273.64 402.21 273.64 402.46 273.64 402.72 273.64 402.97 273.64 403.22 273.64 403.47 273.64 403.72 273.65 403.97 273.65 404.22 273.65 404.47 273.65 404.72 273.65 404.97 273.65 405.22 273.65 405.47 273.65 405.72 273.65 405.97 273.65 406.22 273.65 406.47 273.65 406.72 273.65 406.97 273.65 407.22 273.65 407.47 273.65 407.72 273.65 407.97 273.65 408.22 273.65 408.47 273.65 408.72 273.65 408.97 273.66 409.22 273.66 409.47 273.66 409.72 273.66 409.97 273.66 410.22 273.66 410.47 273.66 410.72 273.66 410.97 273.66 411.22 273.66 411.47 273.66 411.72 273.66 411.97 273.66 412.22 273.66 412.47 273.66 412.72 273.66 412.97 273.66 413.22 273.66 413.47 273.66 413.72 273.67 413.97 273.67 414.22 273.67 414.47 273.67 414.72 273.67 414.97 273.67 415.22 273.67 415.47 273.67 415.72 273.67 415.97 273.67 416.22 273.67 416.47 273.67 416.72 273.67 416.97 273.67 417.22 273.67 417.47 273.67 417.72 273.67 417.97 273.67 418.22 273.67 418.47 273.68 418.72 273.68 418.97 273.68 419.22 273.68 419.47 273.68 419.72 273.68 419.97 273.68 420.22 273.68 420.47 273.68 420.72 273.68 420.97 273.68 421.22 273.68 421.47 273.68 421.72 273.68 421.97 273.68 422.22 273.68 422.47 273.68 422.72 273.68 422.97 273.68 423.22 273.69 423.47 273.69 423.72 273.69 423.97 273.69 424.22 273.69 424.47 273.69 424.72 273.69 424.97 273.69 425.22 273.69 425.47 273.69 425.72 273.69 425.97 273.69 426.22 273.69 426.47 273.69 426.72 273.69 426.97 273.69 427.22 273.69 427.47 273.69 427.72 273.70 427.97 273.70 428.22 273.70 428.47 273.70 428.72 273.70 428.97 273.70 429.22 273.70 429.47 273.70 429.72 273.70 429.98 273.70 430.23 273.70 430.48 273.70 430.73 273.70 430.98 273.70 431.23 273.70 431.48 273.70 431.73 273.70 431.98 273.70 432.23 273.71 432.48 273.71 432.73 273.71 432.98 273.71 433.23 273.71 433.48 273.71 433.73 273.71 433.98 273.71 434.23 273.71 434.48 273.71 434.73 273.71 434.98 273.71 435.23 273.71 435.48 273.71 435.73 273.71 435.98 273.71 436.23 273.71 436.48 273.71 436.73 273.72 436.98 273.72 437.23 273.72 437.48 273.72 437.73 273.72 437.98 273.72 438.23 273.72 438.48 273.72 438.73 273.72 438.98 273.72 439.23 273.72 439.48 273.72 439.73 273.72 439.98 273.72 440.23 273.72 440.48 273.72 440.73 273.72 440.98 273.72 441.23 273.72 441.48 273.73 441.73 273.73 441.98 273.73 442.23 273.73 442.48 273.73 442.73 273.73 442.98 273.73 443.23 273.73 443.48 273.73 443.73 273.73 443.98 273.73 444.23 273.73 444.48 273.73 444.73 273.73 444.98 273.73 445.23 273.73 445.48 273.73 445.73 273.73 445.98 273.73 446.23 273.74 446.48 273.74 446.73 273.74 446.98 273.74 447.23 273.74 447.48 273.74 447.73 273.74 447.98 273.74 448.23 273.74 448.48 273.74 448.73 273.74 448.98 273.74 449.23 273.74 449.48 273.74 449.73 273.74 449.98 273.74 450.23 273.74 450.48 273.74 450.73 273.74 450.98 273.75 451.23 273.75 451.48 273.75 451.73 273.75 451.98 273.75 452.23 273.75 452.48 273.75 452.73 273.75 452.98 273.75 453.23 273.75 453.48 273.75 453.73 273.75 453.98 273.75 454.23 273.75 454.48 273.75 454.73 273.75 454.98 273.75 455.23 273.75 455.48 273.75 455.73 273.75 455.98 273.75 456.23 273.76 456.48 273.76 456.73 273.76 456.98 273.76 457.24 273.76 457.49 273.76 457.74 273.76 457.99 273.76 458.24 273.76 458.49 273.76 458.74 273.76 458.99 273.76 459.24 273.76 459.49 273.76 459.74 273.76 459.99 273.76 460.24 273.76 460.49 273.76 460.74 273.76 460.99 273.76 461.24 273.76 461.49 273.76 461.74 273.77 461.99 273.77 462.24 273.77 462.49 273.77 462.74 273.77 462.99 273.77 463.24 273.77 463.49 273.77 463.74 273.77 463.99 273.77 464.24 273.77 464.49 273.77 464.74 273.77 464.99 273.77 465.24 273.77 465.49 273.77 465.74 273.77 465.99 273.77 466.24 273.77 466.49 273.77 466.74 273.77 466.99 273.77 467.24 273.77 467.49 273.77 467.74 273.77 467.99 273.78 468.24 273.78 468.49 273.78 468.74 273.78 468.99 273.78 469.24 273.78 469.49 273.78 469.74 273.78 469.99 273.78 470.24 273.78 470.49 273.78 470.74 273.78 470.99 273.78 471.24 273.78 471.49 273.78 471.74 273.78 471.99 273.78 472.24 273.78 472.49 273.78 472.74 273.78 472.99 273.78 473.24 273.78 473.49 273.78 473.74 273.78 473.99 273.78 474.24 273.78 474.49 273.78 474.74 273.78 474.99 273.78 475.24 273.79 475.49 273.79 475.74 273.79 475.99 273.79 476.24 273.79 476.49 273.79 476.74 273.79 476.99 273.79 477.24 273.79 477.49 273.79 477.74 273.79 477.99 273.79 478.24 273.79 478.49 273.79 478.74 273.79 478.99 273.79 479.24 273.79 479.49 273.79 479.74 273.79 479.99 273.79 480.24 273.79 480.49 273.79 480.74 273.79 480.99 273.79 481.24 273.79 481.49 273.79 481.74 273.79 481.99 273.79 482.24 273.79 482.49 273.79 482.74 273.79 482.99 273.79 483.24 273.79 483.49 273.79 483.74 273.79 483.99 273.79 484.24 273.79 484.50 273.79 484.75 273.79 485.00 273.79 485.25 273.80 485.50 273.80 485.75 273.80 486.00 273.80 486.25 273.80 486.50 273.80 486.75 273.80 487.00 273.80 487.25 273.80 487.50 273.80 487.75 273.80 488.00 273.80 488.25 273.80 488.50 273.80 488.75 273.80 489.00 273.80 489.25 273.80 489.50 273.80 489.75 273.80 490.00 273.80 490.25 273.80 490.50 273.80 490.75 273.80 491.00 273.80 491.25 273.80 491.50 273.80 491.75 273.80 492.00 273.80 492.25 273.80 492.50 273.80 492.75 273.80 493.00 273.80 493.25 273.80 493.50 273.80 493.75 273.80 494.00 273.80 494.25 273.80 494.50 273.80 494.75 273.80 495.00 273.80 495.25 273.80 495.50 273.80 495.75 273.80 496.00 273.80 496.25 273.80 496.50 273.80 496.75 273.80 497.00 273.80 497.25 273.80 497.50 273.80 497.75 273.80 498.00 273.80"/>
</g>
<!-- ticks -->
<g stroke="#000" stroke-width="1.5"><line x1="45.7" y1="102.0" x2="45.7" y2="112.3"/>
<line x1="45.7" y1="186.0" x2="45.7" y2="195.8"/>
<line x1="45.7" y1="269.4" x2="45.7" y2="277.8"/>
<line x1="106.7" y1="102.0" x2="106.7" y2="112.3"/>
<line x1="106.7" y1="186.0" x2="106.7" y2="195.8"/>
<line x1="106.7" y1="269.4" x2="106.7" y2="277.8"/>
<line x1="167.7" y1="102.0" x2="167.7" y2="112.3"/>
<line x1="167.7" y1="186.0" x2="167.7" y2="195.8"/>
<line x1="167.7" y1="269.4" x2="167.7" y2="277.8"/>
<line x1="228.7" y1="102.0" x2="228.7" y2="112.3"/>
<line x1="228.7" y1="186.0" x2="228.7" y2="195.8"/>
<line x1="228.7" y1="269.4" x2="228.7" y2="277.8"/>
<line x1="284.4" y1="23.4" x2="284.4" y2="28.2"/>
<line x1="284.4" y1="102.0" x2="284.4" y2="112.3"/>
<line x1="284.4" y1="186.0" x2="284.4" y2="191.0"/>
<line x1="315.0" y1="23.4" x2="315.0" y2="28.2"/>
<line x1="315.0" y1="102.0" x2="315.0" y2="112.3"/>
<line x1="315.0" y1="186.0" x2="315.0" y2="191.0"/>
<line x1="345.7" y1="23.4" x2="345.7" y2="28.2"/>
<line x1="345.7" y1="102.0" x2="345.7" y2="112.3"/>
<line x1="345.7" y1="186.0" x2="345.7" y2="191.0"/>
<line x1="376.3" y1="23.4" x2="376.3" y2="28.2"/>
<line x1="376.3" y1="102.0" x2="376.3" y2="112.3"/>
<line x1="376.3" y1="186.0" x2="376.3" y2="191.0"/>
<line x1="407.0" y1="23.4" x2="407.0" y2="28.2"/>
<line x1="407.0" y1="102.0" x2="407.0" y2="112.3"/>
<line x1="407.0" y1="186.0" x2="407.0" y2="191.0"/>
<line x1="437.6" y1="23.4" x2="437.6" y2="28.2"/>
<line x1="437.6" y1="102.0" x2="437.6" y2="112.3"/>
<line x1="437.6" y1="186.0" x2="437.6" y2="191.0"/>
<line x1="468.3" y1="23.4" x2="468.3" y2="28.2"/>
<line x1="468.3" y1="102.0" x2="468.3" y2="112.3"/>
<line x1="468.3" y1="186.0" x2="468.3" y2="191.0"/>
<line x1="284.4" y1="191.0" x2="284.4" y2="195.8"/>
<line x1="284.4" y1="269.4" x2="284.4" y2="277.8"/>
<line x1="345.7" y1="191.0" x2="345.7" y2="195.8"/>
<line x1="345.7" y1="269.4" x2="345.7" y2="277.8"/>
<line x1="407.0" y1="191.0" x2="407.0" y2="195.8"/>
<line x1="407.0" y1="269.4" x2="407.0" y2="277.8"/>
<line x1="468.3" y1="191.0" x2="468.3" y2="195.8"/>
<line x1="468.3" y1="269.4" x2="468.3" y2="277.8"/></g>
<!-- axes frames -->
<g fill="none" stroke="#000" stroke-width="2">
<rect x="21" y="23.4" width="478" height="251"/>
<line x1="260.2" y1="23.4" x2="260.2" y2="274.4"/>
<line x1="21" y1="107.1" x2="499" y2="107.1"/>
<line x1="21" y1="190.9" x2="499" y2="190.9"/>
<rect x="534.1" y="23.3" width="80.9" height="250.8"/>
<line x1="534.1" y1="106.3" x2="615" y2="106.3" stroke-width="2.8"/>
<line x1="534.1" y1="190.4" x2="615" y2="190.4" stroke-width="2.4"/>
</g>
<!-- arrows -->
<g stroke="#000" stroke-width="1.4" fill="none">
<line x1="473.8" y1="77.8" x2="473.8" y2="101.8" marker-end="url(#ah)"/>
<line x1="395.9" y1="173.9" x2="382.5" y2="186.6" marker-end="url(#ah)"/>
<line x1="371.7" y1="258.0" x2="358.1" y2="271.0" marker-end="url(#ah)"/>
<line x1="538" y1="281" x2="612.4" y2="281" marker-start="url(#ah2)" marker-end="url(#ah2)"/>
<line x1="623.5" y1="193.5" x2="623.5" y2="268" marker-start="url(#ah2)" marker-end="url(#ah2)"/>
</g>
<text x="118.6" y="9.8" font-size="12.5" textLength="16.8" lengthAdjust="spacingAndGlyphs">(a)</text>
<text x="363.2" y="9.8" font-size="12.5" textLength="17.1" lengthAdjust="spacingAndGlyphs">(b)</text>
<text x="562.8" y="9.8" font-size="12.5" textLength="15.7" lengthAdjust="spacingAndGlyphs">(c)</text>
<text x="228.6" y="40.3" font-size="14.6" textLength="19.6" lengthAdjust="spacingAndGlyphs">Ne</text>
<text x="470.4" y="40.2" font-size="14.6" textLength="19.2" lengthAdjust="spacingAndGlyphs">Ne</text>
<text x="232.0" y="121.9" font-size="14.4" textLength="15.6" lengthAdjust="spacingAndGlyphs">Ar</text>
<text x="473.3" y="122.1" font-size="14.4" textLength="15.7" lengthAdjust="spacingAndGlyphs">Ar</text>
<text x="232.6" y="205.4" font-size="14.4" textLength="15.0" lengthAdjust="spacingAndGlyphs">Kr</text>
<text x="473.6" y="205.8" font-size="14.4" textLength="15.4" lengthAdjust="spacingAndGlyphs">Kr</text>
<text x="592.4" y="38.6" font-size="13.6" textLength="18.7" lengthAdjust="spacingAndGlyphs">Ne</text>
<text x="596.3" y="122.6" font-size="13.6" textLength="14.7" lengthAdjust="spacingAndGlyphs">Ar</text>
<text x="596.2" y="205.8" font-size="13.6" textLength="15.1" lengthAdjust="spacingAndGlyphs">Kr</text>
<text x="452.6" y="74.1" font-size="14.6" textLength="43.4" lengthAdjust="spacingAndGlyphs">59 HH</text>
<text x="391.2" y="171.1" font-size="14.4" textLength="38.6" lengthAdjust="spacingAndGlyphs">39HH</text>
<text x="366.2" y="255.0" font-size="14.6" textLength="39.8" lengthAdjust="spacingAndGlyphs">33HH</text>
<text x="38.0" y="299.6" font-size="13.4" textLength="14.8" lengthAdjust="spacingAndGlyphs">30</text>
<text x="99.0" y="299.6" font-size="13.4" textLength="14.8" lengthAdjust="spacingAndGlyphs">50</text>
<text x="160.0" y="299.6" font-size="13.4" textLength="14.8" lengthAdjust="spacingAndGlyphs">70</text>
<text x="221.0" y="299.6" font-size="13.4" textLength="14.8" lengthAdjust="spacingAndGlyphs">90</text>
<text x="276.7" y="299.6" font-size="13.4" textLength="14.8" lengthAdjust="spacingAndGlyphs">30</text>
<text x="338.0" y="299.6" font-size="13.4" textLength="14.8" lengthAdjust="spacingAndGlyphs">50</text>
<text x="399.3" y="299.6" font-size="13.4" textLength="14.8" lengthAdjust="spacingAndGlyphs">70</text>
<text x="460.6" y="299.6" font-size="13.4" textLength="14.8" lengthAdjust="spacingAndGlyphs">90</text>
<text x="97.6" y="321.0" font-size="13.2" textLength="70.6" lengthAdjust="spacingAndGlyphs">energy / eV</text>
<text x="344.2" y="321.4" font-size="13.2" textLength="70.8" lengthAdjust="spacingAndGlyphs">energy / eV</text>
<text x="0" y="0" font-size="13.0" textLength="70.2" lengthAdjust="spacingAndGlyphs" transform="translate(10.2 182.9) rotate(-90)">Divergence</text>
<text x="554.4" y="296.6" font-size="12.0" textLength="43.2" lengthAdjust="spacingAndGlyphs">18 mm</text>
<text x="0" y="0" font-size="12.0" textLength="43.2" lengthAdjust="spacingAndGlyphs" transform="translate(636.0 251.3) rotate(-90)">18 mm</text>
</svg>
</div></body></html>
